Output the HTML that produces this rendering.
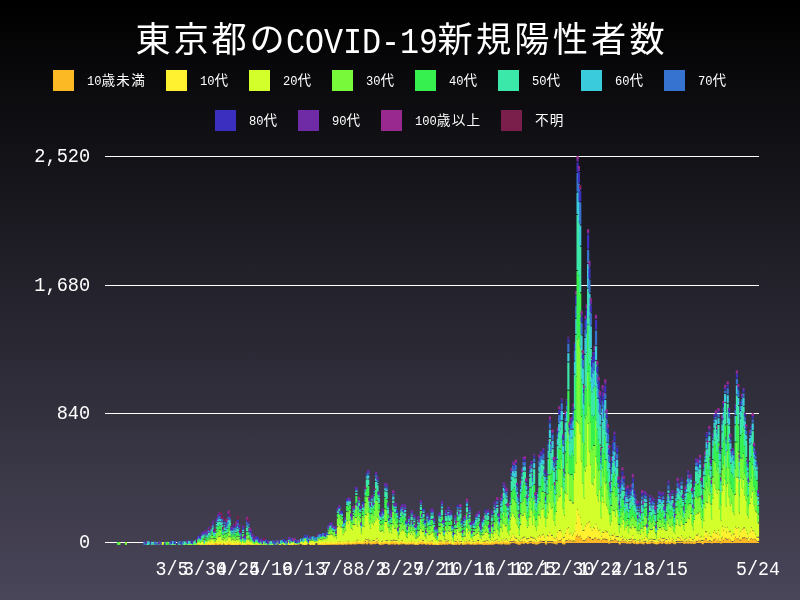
<!DOCTYPE html>
<html lang="ja"><head><meta charset="utf-8"><title>東京都のCOVID-19新規陽性者数</title>
<style>
html,body{margin:0;padding:0}
body{width:800px;height:600px;overflow:hidden;position:relative;background:linear-gradient(to bottom,#000 0%,#4a465a 100%);color:#fff;font-family:"Liberation Mono","Noto Sans CJK JP",monospace}
.n{display:inline-block;transform:scaleX(.8333);transform-origin:0 50%}
.title{position:absolute;top:20px;height:46px;line-height:46px;font-size:35.2px;letter-spacing:2.8px;white-space:nowrap}
.title.n{font-size:37px;letter-spacing:0;transform:scaleX(.856)}
.sw{position:absolute;width:21px;height:21px}
.lt{position:absolute;height:21px;line-height:21px;font-size:13.6px;letter-spacing:1.2px;margin-top:.8px;white-space:nowrap}
.lt .n{font-size:13.2px;letter-spacing:0;transform:scaleX(.92)}
.lt .n2{margin-right:-1.27px}
.lt .n3{margin-right:-1.9px}
.yl{position:absolute;left:0;width:90.2px;text-align:right;height:24px;line-height:24px;font-size:21px;margin-top:.9px;transform:scaleX(.887);transform-origin:100% 50%;white-space:nowrap}
.xl{position:absolute;top:557px;width:100px;text-align:center;height:24px;line-height:24px;font-size:21px;margin-top:1.2px;transform:scaleX(.869);white-space:nowrap}
svg{position:absolute;left:0;top:0}
path{fill:none;stroke-width:2.19}
.a{stroke:#FDB924}
.b{stroke:#FFF12F}
.c{stroke:#D3FF2B}
.d{stroke:#78F93A}
.e{stroke:#36F04F}
.f{stroke:#3BE8A9}
.g{stroke:#3ACCDC}
.h{stroke:#3673D1}
.i{stroke:#3B2FBF}
.j{stroke:#6F2BA6}
.k{stroke:#99288F}
.l{stroke:#7A1F4C}
</style></head><body>
<div class="title" style="left:135.5px">東京都の</div><div class="title n" style="left:286px">COVID-19</div><div class="title" style="left:437.5px;letter-spacing:3.2px">新規陽性者数</div>
<div class="sw" style="left:53px;top:70px;background:#FDB924"></div><div class="lt" style="left:87px;top:70px"><span class="n n2">10</span>歳未満</div>
<div class="sw" style="left:166px;top:70px;background:#FFF12F"></div><div class="lt" style="left:200px;top:70px"><span class="n n2">10</span>代</div>
<div class="sw" style="left:249px;top:70px;background:#D3FF2B"></div><div class="lt" style="left:283px;top:70px"><span class="n n2">20</span>代</div>
<div class="sw" style="left:332px;top:70px;background:#78F93A"></div><div class="lt" style="left:366px;top:70px"><span class="n n2">30</span>代</div>
<div class="sw" style="left:415px;top:70px;background:#36F04F"></div><div class="lt" style="left:449px;top:70px"><span class="n n2">40</span>代</div>
<div class="sw" style="left:498px;top:70px;background:#3BE8A9"></div><div class="lt" style="left:532px;top:70px"><span class="n n2">50</span>代</div>
<div class="sw" style="left:581px;top:70px;background:#3ACCDC"></div><div class="lt" style="left:615px;top:70px"><span class="n n2">60</span>代</div>
<div class="sw" style="left:664px;top:70px;background:#3673D1"></div><div class="lt" style="left:698px;top:70px"><span class="n n2">70</span>代</div>
<div class="sw" style="left:215px;top:110px;background:#3B2FBF"></div><div class="lt" style="left:249px;top:110px"><span class="n n2">80</span>代</div>
<div class="sw" style="left:298px;top:110px;background:#6F2BA6"></div><div class="lt" style="left:332px;top:110px"><span class="n n2">90</span>代</div>
<div class="sw" style="left:381px;top:110px;background:#99288F"></div><div class="lt" style="left:415px;top:110px"><span class="n n3">100</span>歳以上</div>
<div class="sw" style="left:501px;top:110px;background:#7A1F4C"></div><div class="lt" style="left:535px;top:110px">不明</div>
<div class="yl" style="top:144px">2,520</div>
<div class="yl" style="top:273px">1,680</div>
<div class="yl" style="top:401px">840</div>
<div class="yl" style="top:530px">0</div>
<div class="xl" style="left:121.9px">3/5</div>
<div class="xl" style="left:154.9px">3/30</div>
<div class="xl" style="left:187.8px">4/24</div>
<div class="xl" style="left:220.7px">5/19</div>
<div class="xl" style="left:253.6px">6/13</div>
<div class="xl" style="left:286.5px">7/8</div>
<div class="xl" style="left:319.5px">8/2</div>
<div class="xl" style="left:352.4px">8/27</div>
<div class="xl" style="left:385.3px">9/21</div>
<div class="xl" style="left:418.2px">10/16</div>
<div class="xl" style="left:451.2px">11/10</div>
<div class="xl" style="left:484.1px">12/5</div>
<div class="xl" style="left:517.0px">12/30</div>
<div class="xl" style="left:549.9px">1/24</div>
<div class="xl" style="left:582.8px">2/18</div>
<div class="xl" style="left:615.8px">3/15</div>
<div class="xl" style="left:707.9px">5/24</div>
<svg width="800" height="600" viewBox="0 0 800 600">
<g fill="#fff"><rect x="105" y="156" width="654" height="1"/><rect x="105" y="285" width="654" height="1"/><rect x="105" y="413" width="654" height="1"/><rect x="105" y="542" width="654" height="1"/></g>
<path class=e d="M118.01 542V544.85"/>
<path class=d d="M119.33 542V544.85"/>
<path class=d d="M125.91 542V544.85"/>
<path class=h d="M144.35 542V544.85"/>
<path class=f d="M145.66 542V544.85"/>
<path class=i d="M145.66 541.85V544.69"/>
<path class=f d="M146.98 542V544.54"/>
<path class=g d="M146.98 541.54V544.39"/>
<path class=h d="M146.98 541.39V543.93"/>
<path class=j d="M146.98 540.93V543.77"/>
<path class=d d="M148.3 542V544.85"/>
<path class=e d="M148.3 541.85V544.69"/>
<path class=f d="M148.3 541.69V544.39"/>
<path class=g d="M148.3 541.39V544.23"/>
<path class=h d="M150.93 542V544.69"/>
<path class=i d="M150.93 541.69V544.54"/>
<path class=d d="M152.25 542V544.85"/>
<path class=g d="M152.25 541.85V544.54"/>
<path class=c d="M154.88 542V544.85"/>
<path class=e d="M154.88 541.85V544.69"/>
<path class=h d="M154.88 541.69V544.54"/>
<path class=h d="M156.2 542V544.85"/>
<path class=e d="M158.83 542V544.85"/>
<path class=f d="M158.83 541.85V544.69"/>
<path class=j d="M158.83 541.69V544.54"/>
<path class=a d="M161.47 542V544.85"/>
<path class=h d="M161.47 541.85V544.69"/>
<path class=i d="M161.47 541.69V544.54"/>
<path class=c d="M162.78 542V544.85"/>
<path class=i d="M165.42 542V544.85"/>
<path class=d d="M166.73 542V544.85"/>
<path class=e d="M166.73 541.85V544.69"/>
<path class=d d="M169.37 542V544.85"/>
<path class=c d="M170.69 542V544.85"/>
<path class=g d="M170.69 541.85V544.69"/>
<path class=h d="M170.69 541.69V544.54"/>
<path class=i d="M170.69 541.54V544.39"/>
<path class=c d="M172 542V544.85"/>
<path class=f d="M172 541.85V544.69"/>
<path class=g d="M172 541.69V544.39"/>
<path class=h d="M172 541.39V543.93"/>
<path class=i d="M172 540.93V543.77"/>
<path class=b d="M173.32 542V544.85"/>
<path class=e d="M173.32 541.85V544.54"/>
<path class=f d="M173.32 541.54V544.23"/>
<path class=g d="M173.32 541.23V544.08"/>
<path class=c d="M174.64 542V544.85"/>
<path class=e d="M174.64 541.85V544.54"/>
<path class=f d="M174.64 541.54V544.39"/>
<path class=g d="M174.64 541.39V544.23"/>
<path class=i d="M174.64 541.23V544.08"/>
<path class=d d="M178.59 542V544.85"/>
<path class=h d="M178.59 541.85V544.69"/>
<path class=i d="M178.59 541.69V544.54"/>
<path class=c d="M179.9 542V544.85"/>
<path class=e d="M179.9 541.85V544.69"/>
<path class=f d="M179.9 541.69V544.39"/>
<path class=h d="M179.9 541.39V544.08"/>
<path class=c d="M181.22 542V544.85"/>
<path class=i d="M181.22 541.85V544.69"/>
<path class=h d="M182.54 542V544.85"/>
<path class=i d="M182.54 541.85V544.69"/>
<path class=d d="M183.85 542V544.85"/>
<path class=e d="M183.85 541.85V544.54"/>
<path class=f d="M183.85 541.54V544.39"/>
<path class=g d="M183.85 541.39V544.23"/>
<path class=h d="M183.85 541.23V543.47"/>
<path class=c d="M185.17 542V544.69"/>
<path class=f d="M185.17 541.69V544.54"/>
<path class=c d="M187.8 542V544.69"/>
<path class=d d="M187.8 541.69V544.54"/>
<path class=e d="M187.8 541.54V544.39"/>
<path class=f d="M187.8 541.39V544.08"/>
<path class=g d="M187.8 541.08V543.93"/>
<path class=h d="M187.8 540.93V543.47"/>
<path class=i d="M187.8 540.47V543.32"/>
<path class=j d="M187.8 540.32V543.16"/>
<path class=c d="M189.12 542V544.85"/>
<path class=d d="M189.12 541.85V544.39"/>
<path class=e d="M189.12 541.39V544.23"/>
<path class=f d="M189.12 541.23V543.93"/>
<path class=g d="M189.12 540.93V543.62"/>
<path class=c d="M190.44 542V544.85"/>
<path class=d d="M190.44 541.85V544.54"/>
<path class=e d="M190.44 541.54V544.39"/>
<path class=f d="M190.44 541.39V544.23"/>
<path class=g d="M190.44 541.23V543.93"/>
<path class=a d="M191.76 542V544.85"/>
<path class=b d="M191.76 541.85V544.69"/>
<path class=d d="M191.76 541.69V544.54"/>
<path class=e d="M191.76 541.54V544.23"/>
<path class=f d="M191.76 541.23V543.93"/>
<path class=g d="M191.76 540.93V543.77"/>
<path class=h d="M191.76 540.77V543.47"/>
<path class=i d="M191.76 540.47V543.32"/>
<path class=c d="M193.07 542V544.69"/>
<path class=d d="M193.07 541.69V544.54"/>
<path class=f d="M193.07 541.54V544.39"/>
<path class=i d="M193.07 541.39V544.23"/>
<path class=j d="M193.07 541.23V543.93"/>
<path class=d d="M194.39 542V544.85"/>
<path class=e d="M194.39 541.85V544.69"/>
<path class=f d="M194.39 541.69V544.54"/>
<path class=c d="M195.71 542V544.85"/>
<path class=d d="M195.71 541.85V544.54"/>
<path class=e d="M195.71 541.54V543.62"/>
<path class=f d="M195.71 540.62V542.86"/>
<path class=g d="M195.71 539.86V542.55"/>
<path class=c d="M197.02 542V544.54"/>
<path class=d d="M197.02 541.54V544.39"/>
<path class=e d="M197.02 541.39V543.77"/>
<path class=g d="M197.02 540.77V543.47"/>
<path class=h d="M197.02 540.47V543.01"/>
<path class=i d="M197.02 540.01V542.55"/>
<path class=j d="M197.02 539.55V542.4"/>
<path class=l d="M197.02 539.4V542.24"/>
<path class=a d="M198.34 542V544.85"/>
<path class=c d="M198.34 541.85V544.23"/>
<path class=d d="M198.34 541.23V542.86"/>
<path class=e d="M198.34 539.86V542.09"/>
<path class=f d="M198.34 539.09V540.56"/>
<path class=g d="M198.34 537.56V539.95"/>
<path class=h d="M198.34 536.95V539.33"/>
<path class=i d="M198.34 536.33V539.18"/>
<path class=j d="M198.34 536.18V538.72"/>
<path class=b d="M199.66 542V544.69"/>
<path class=c d="M199.66 541.69V543.47"/>
<path class=d d="M199.66 540.47V541.94"/>
<path class=e d="M199.66 538.94V541.17"/>
<path class=f d="M199.66 538.17V539.33"/>
<path class=g d="M199.66 536.33V538.87"/>
<path class=h d="M199.66 535.87V538.41"/>
<path class=i d="M199.66 535.41V537.95"/>
<path class=b d="M200.97 542V544.85"/>
<path class=c d="M200.97 541.85V544.69"/>
<path class=d d="M200.97 541.69V543.01"/>
<path class=e d="M200.97 540.01V542.4"/>
<path class=f d="M200.97 539.4V541.02"/>
<path class=g d="M200.97 538.02V540.25"/>
<path class=h d="M200.97 537.25V539.33"/>
<path class=i d="M200.97 536.33V539.03"/>
<path class=j d="M200.97 536.03V538.87"/>
<path class=a d="M202.29 542V544.69"/>
<path class=b d="M202.29 541.69V544.54"/>
<path class=c d="M202.29 541.54V542.86"/>
<path class=d d="M202.29 539.86V540.86"/>
<path class=e d="M202.29 537.86V539.64"/>
<path class=f d="M202.29 536.64V538.72"/>
<path class=g d="M202.29 535.72V537.34"/>
<path class=h d="M202.29 534.34V535.66"/>
<path class=i d="M202.29 532.66V535.35"/>
<path class=j d="M202.29 532.35V535.2"/>
<path class=b d="M203.61 542V544.85"/>
<path class=c d="M203.61 541.85V543.01"/>
<path class=d d="M203.61 539.71V541.01"/>
<path class=e d="M203.61 537.26V538.71"/>
<path class=f d="M203.61 535.26V537.19"/>
<path class=g d="M203.61 534.19V535.5"/>
<path class=h d="M203.61 532.5V534.58"/>
<path class=i d="M203.61 531.58V534.28"/>
<path class=j d="M203.61 531.28V533.97"/>
<path class=c d="M204.92 542V544.85"/>
<path class=d d="M204.92 541.85V544.54"/>
<path class=e d="M204.92 541.54V543.93"/>
<path class=f d="M204.92 540.93V543.47"/>
<path class=g d="M204.92 540.47V543.16"/>
<path class=a d="M206.24 542V544.85"/>
<path class=b d="M206.24 541.85V544.69"/>
<path class=c d="M206.24 541.69V543.62"/>
<path class=d d="M206.24 540.48V541.62"/>
<path class=e d="M206.24 537.72V539.48"/>
<path class=f d="M206.24 535.58V536.72"/>
<path class=g d="M206.24 533.58V534.74"/>
<path class=h d="M206.24 531.74V533.97"/>
<path class=i d="M206.24 530.97V533.21"/>
<path class=j d="M206.24 530.21V533.05"/>
<path class=a d="M207.56 542V544.85"/>
<path class=b d="M207.56 541.85V544.69"/>
<path class=c d="M207.56 541.69V543.62"/>
<path class=d d="M207.56 540.62V542.4"/>
<path class=e d="M207.56 538.33V540.4"/>
<path class=f d="M207.56 536.33V537.8"/>
<path class=g d="M207.56 534.8V537.03"/>
<path class=h d="M207.56 534.03V535.2"/>
<path class=i d="M207.56 532.2V534.89"/>
<path class=j d="M207.56 531.89V534.74"/>
<path class=a d="M208.87 542V544.69"/>
<path class=b d="M208.87 541.69V543.93"/>
<path class=c d="M208.87 540.32V541.93"/>
<path class=d d="M208.87 538.18V539.32"/>
<path class=e d="M208.87 536.18V537.34"/>
<path class=f d="M208.87 532.97V535.34"/>
<path class=g d="M208.87 530.97V532.13"/>
<path class=h d="M208.87 529.13V531.37"/>
<path class=i d="M208.87 528.37V530.14"/>
<path class=j d="M208.87 527.14V529.99"/>
<path class=a d="M210.19 542V544.85"/>
<path class=b d="M210.19 541.85V544.69"/>
<path class=c d="M210.19 541.69V542.86"/>
<path class=d d="M210.19 539.25V540.86"/>
<path class=e d="M210.19 537.25V538.41"/>
<path class=f d="M210.19 534.66V536.41"/>
<path class=g d="M210.19 532.66V533.67"/>
<path class=h d="M210.19 530.67V531.98"/>
<path class=i d="M210.19 528.98V531.52"/>
<path class=j d="M210.19 528.52V531.06"/>
<path class=l d="M210.19 528.06V530.91"/>
<path class=a d="M211.51 542V544.85"/>
<path class=b d="M211.51 541.85V544.54"/>
<path class=c d="M211.51 539.4V542.54"/>
<path class=d d="M211.51 535.58V538.4"/>
<path class=e d="M211.51 533.58V534.74"/>
<path class=f d="M211.51 531.74V532.75"/>
<path class=g d="M211.51 529.75V531.52"/>
<path class=h d="M211.51 528.52V529.68"/>
<path class=i d="M211.51 526.68V527.84"/>
<path class=j d="M211.51 524.84V527.08"/>
<path class=l d="M211.51 524.08V526.93"/>
<path class=a d="M212.83 542V544.85"/>
<path class=b d="M212.83 541.85V544.23"/>
<path class=c d="M212.83 539.4V542.23"/>
<path class=d d="M212.83 536.03V538.4"/>
<path class=e d="M212.83 531.13V535.03"/>
<path class=f d="M212.83 528.22V530.13"/>
<path class=g d="M212.83 526.22V527.54"/>
<path class=h d="M212.83 524.54V525.55"/>
<path class=i d="M212.83 522.55V523.71"/>
<path class=j d="M212.83 520.71V523.4"/>
<path class=a d="M214.14 542V544.69"/>
<path class=b d="M214.14 541.69V544.54"/>
<path class=c d="M214.14 541.54V543.01"/>
<path class=d d="M214.14 539.1V541.01"/>
<path class=e d="M214.14 535.88V538.1"/>
<path class=f d="M214.14 533.88V535.96"/>
<path class=g d="M214.14 532.96V534.43"/>
<path class=h d="M214.14 531.43V533.05"/>
<path class=i d="M214.14 530.05V532.13"/>
<path class=j d="M214.14 529.13V531.98"/>
<path class=a d="M215.46 542V544.69"/>
<path class=c d="M215.46 541.55V542.69"/>
<path class=d d="M215.46 539.25V540.55"/>
<path class=e d="M215.46 536.65V538.25"/>
<path class=f d="M215.46 534.04V535.65"/>
<path class=g d="M215.46 532.04V534.12"/>
<path class=h d="M215.46 531.12V532.75"/>
<path class=i d="M215.46 529.75V532.44"/>
<path class=j d="M215.46 529.44V532.13"/>
<path class=k d="M215.46 529.13V531.98"/>
<path class=l d="M215.46 528.98V531.67"/>
<path class=a d="M216.78 542V544.85"/>
<path class=c d="M216.78 539.86V542.85"/>
<path class=d d="M216.78 532.82V538.86"/>
<path class=e d="M216.78 529.75V531.82"/>
<path class=f d="M216.78 526.54V528.75"/>
<path class=g d="M216.78 523.93V525.54"/>
<path class=h d="M216.78 521.48V522.93"/>
<path class=i d="M216.78 519.48V521.26"/>
<path class=j d="M216.78 518.26V521.1"/>
<path class=a d="M218.09 542V544.69"/>
<path class=b d="M218.09 541.69V544.23"/>
<path class=c d="M218.09 537.57V542.23"/>
<path class=d d="M218.09 531.9V536.57"/>
<path class=e d="M218.09 527.15V530.9"/>
<path class=f d="M218.09 522.1V526.15"/>
<path class=g d="M218.09 520.1V521.26"/>
<path class=h d="M218.09 517.96V519.26"/>
<path class=i d="M218.09 515.96V517.43"/>
<path class=j d="M218.09 514.43V516.97"/>
<path class=a d="M219.41 542V544.69"/>
<path class=b d="M219.41 541.69V543.93"/>
<path class=c d="M219.41 537.11V541.93"/>
<path class=d d="M219.41 530.06V536.11"/>
<path class=e d="M219.41 525.47V529.06"/>
<path class=f d="M219.41 521.79V524.47"/>
<path class=g d="M219.41 518.88V520.79"/>
<path class=h d="M219.41 516.12V517.88"/>
<path class=i d="M219.41 514.12V515.13"/>
<path class=j d="M219.41 512.13V514.52"/>
<path class=a d="M220.73 542V544.39"/>
<path class=b d="M220.73 541.39V543.77"/>
<path class=c d="M220.73 536.34V541.77"/>
<path class=d d="M220.73 530.37V535.34"/>
<path class=e d="M220.73 526.38V529.37"/>
<path class=f d="M220.73 522.25V525.38"/>
<path class=g d="M220.73 519.19V521.25"/>
<path class=h d="M220.73 517.04V518.19"/>
<path class=i d="M220.73 515.04V516.51"/>
<path class=j d="M220.73 513.51V515.13"/>
<path class=k d="M220.73 512.13V514.82"/>
<path class=l d="M220.73 511.82V514.67"/>
<path class=a d="M222.04 542V544.85"/>
<path class=b d="M222.04 541.85V544.54"/>
<path class=c d="M222.04 539.86V542.54"/>
<path class=d d="M222.04 534.81V538.86"/>
<path class=e d="M222.04 528.53V533.81"/>
<path class=f d="M222.04 525.31V527.53"/>
<path class=g d="M222.04 522.56V524.31"/>
<path class=h d="M222.04 519.03V521.56"/>
<path class=i d="M222.04 517.03V519.11"/>
<path class=j d="M222.04 516.11V518.81"/>
<path class=k d="M222.04 515.81V518.65"/>
<path class=l d="M222.04 515.65V518.35"/>
<path class=c d="M223.36 540.48V543"/>
<path class=d d="M223.36 538.03V539.48"/>
<path class=e d="M223.36 535.58V537.03"/>
<path class=f d="M223.36 533.28V534.58"/>
<path class=g d="M223.36 531.28V533.21"/>
<path class=h d="M223.36 530.21V531.83"/>
<path class=i d="M223.36 528.83V530.14"/>
<path class=j d="M223.36 527.14V529.84"/>
<path class=l d="M223.36 526.84V529.68"/>
<path class=a d="M224.68 542V544.69"/>
<path class=b d="M224.68 541.69V544.23"/>
<path class=c d="M224.68 538.79V542.23"/>
<path class=d d="M224.68 534.66V537.79"/>
<path class=e d="M224.68 531.13V533.66"/>
<path class=f d="M224.68 527.46V530.13"/>
<path class=g d="M224.68 525.01V526.46"/>
<path class=h d="M224.68 522.1V524.01"/>
<path class=i d="M224.68 520.1V521.41"/>
<path class=j d="M224.68 518.41V520.8"/>
<path class=l d="M224.68 517.8V520.65"/>
<path class=a d="M225.99 542V544.85"/>
<path class=b d="M225.99 541.85V544.69"/>
<path class=c d="M225.99 541.4V542.69"/>
<path class=d d="M225.99 537.41V540.4"/>
<path class=e d="M225.99 533.89V536.41"/>
<path class=f d="M225.99 530.83V532.89"/>
<path class=g d="M225.99 528.83V530.14"/>
<path class=h d="M225.99 527.14V528.76"/>
<path class=i d="M225.99 525.62V526.76"/>
<path class=j d="M225.99 523.62V525.55"/>
<path class=a d="M227.31 542V544.85"/>
<path class=b d="M227.31 541.85V544.54"/>
<path class=c d="M227.31 539.71V542.54"/>
<path class=d d="M227.31 535.73V538.71"/>
<path class=e d="M227.31 533.58V534.73"/>
<path class=f d="M227.31 529.3V532.58"/>
<path class=g d="M227.31 526.54V528.3"/>
<path class=h d="M227.31 523.17V525.54"/>
<path class=i d="M227.31 521.17V522.94"/>
<path class=j d="M227.31 519.94V522.02"/>
<path class=k d="M227.31 519.02V521.87"/>
<path class=a d="M228.63 542V544.39"/>
<path class=b d="M228.63 541.39V543.62"/>
<path class=c d="M228.63 537.41V541.62"/>
<path class=d d="M228.63 532.82V536.41"/>
<path class=e d="M228.63 528.53V531.82"/>
<path class=f d="M228.63 524.39V527.53"/>
<path class=g d="M228.63 520.1V523.39"/>
<path class=h d="M228.63 516.89V519.1"/>
<path class=i d="M228.63 513.98V515.89"/>
<path class=j d="M228.63 511.98V513.6"/>
<path class=k d="M228.63 510.6V513.45"/>
<path class=a d="M229.94 542V544.69"/>
<path class=b d="M229.94 541.69V543.47"/>
<path class=c d="M229.94 537.26V541.47"/>
<path class=d d="M229.94 530.37V536.26"/>
<path class=e d="M229.94 526.54V529.37"/>
<path class=f d="M229.94 522.4V525.54"/>
<path class=g d="M229.94 520.4V521.87"/>
<path class=h d="M229.94 518.57V519.87"/>
<path class=i d="M229.94 516.43V517.57"/>
<path class=j d="M229.94 514.43V516.66"/>
<path class=l d="M229.94 513.66V516.51"/>
<path class=a d="M231.26 542V544.85"/>
<path class=b d="M231.26 541.85V544.54"/>
<path class=c d="M231.26 540.63V542.54"/>
<path class=d d="M231.26 537.72V539.63"/>
<path class=e d="M231.26 535.42V536.72"/>
<path class=f d="M231.26 533.12V534.42"/>
<path class=g d="M231.26 531.12V532.59"/>
<path class=h d="M231.26 529.59V530.91"/>
<path class=i d="M231.26 527.91V529.68"/>
<path class=j d="M231.26 526.68V528.3"/>
<path class=a d="M232.58 542V544.85"/>
<path class=b d="M232.58 541.85V544.69"/>
<path class=c d="M232.58 539.56V542.69"/>
<path class=d d="M232.58 536.8V538.56"/>
<path class=e d="M232.58 534.8V536.73"/>
<path class=f d="M232.58 533.43V534.73"/>
<path class=g d="M232.58 531.13V532.43"/>
<path class=h d="M232.58 529.13V530.75"/>
<path class=i d="M232.58 527.75V529.99"/>
<path class=j d="M232.58 526.99V529.53"/>
<path class=b d="M233.9 542V544.85"/>
<path class=c d="M233.9 540.32V542.85"/>
<path class=d d="M233.9 536.49V539.32"/>
<path class=e d="M233.9 534.49V535.5"/>
<path class=f d="M233.9 532.5V533.51"/>
<path class=g d="M233.9 530.51V531.67"/>
<path class=h d="M233.9 527.92V529.67"/>
<path class=i d="M233.9 525.92V527.08"/>
<path class=j d="M233.9 524.08V526.16"/>
<path class=a d="M235.21 542V544.85"/>
<path class=b d="M235.21 541.85V544.69"/>
<path class=c d="M235.21 541.4V542.69"/>
<path class=d d="M235.21 538.33V540.4"/>
<path class=e d="M235.21 535.42V537.33"/>
<path class=f d="M235.21 532.67V534.42"/>
<path class=g d="M235.21 530.21V531.67"/>
<path class=h d="M235.21 528.21V529.68"/>
<path class=i d="M235.21 526.23V527.68"/>
<path class=j d="M235.21 524.23V526.47"/>
<path class=l d="M235.21 523.47V526.16"/>
<path class=a d="M236.53 542V544.85"/>
<path class=b d="M236.53 541.85V544.39"/>
<path class=c d="M236.53 539.86V542.39"/>
<path class=d d="M236.53 537.26V538.86"/>
<path class=e d="M236.53 533.12V536.26"/>
<path class=f d="M236.53 530.67V532.12"/>
<path class=g d="M236.53 528.38V529.67"/>
<path class=h d="M236.53 526.38V527.69"/>
<path class=i d="M236.53 524.55V525.69"/>
<path class=j d="M236.53 522.55V524.63"/>
<path class=k d="M236.53 521.63V524.47"/>
<path class=a d="M237.85 542V544.85"/>
<path class=b d="M237.85 541.85V544.69"/>
<path class=c d="M237.85 540.63V542.69"/>
<path class=d d="M237.85 536.65V539.63"/>
<path class=e d="M237.85 532.21V535.65"/>
<path class=f d="M237.85 528.99V531.21"/>
<path class=g d="M237.85 526.69V527.99"/>
<path class=h d="M237.85 523.32V525.69"/>
<path class=i d="M237.85 519.95V522.32"/>
<path class=j d="M237.85 517.95V519.11"/>
<path class=l d="M237.85 516.11V518.96"/>
<path class=a d="M239.16 542V544.54"/>
<path class=b d="M239.16 541.54V544.23"/>
<path class=c d="M239.16 539.4V542.23"/>
<path class=d d="M239.16 536.95V538.4"/>
<path class=e d="M239.16 534.35V535.95"/>
<path class=f d="M239.16 532.21V533.35"/>
<path class=g d="M239.16 530.06V531.21"/>
<path class=h d="M239.16 528.06V529.38"/>
<path class=i d="M239.16 526.38V527.84"/>
<path class=j d="M239.16 524.84V526.77"/>
<path class=a d="M240.48 542V544.69"/>
<path class=c d="M240.48 541.69V543.01"/>
<path class=d d="M240.48 540.01V541.78"/>
<path class=e d="M240.48 538.78V540.25"/>
<path class=f d="M240.48 536.49V538.25"/>
<path class=g d="M240.48 534.35V535.49"/>
<path class=h d="M240.48 532.35V534.43"/>
<path class=i d="M240.48 531.43V533.36"/>
<path class=j d="M240.48 530.36V532.59"/>
<path class=l d="M240.48 529.59V532.44"/>
<path class=b d="M241.8 542V544.85"/>
<path class=c d="M241.8 541.85V544.39"/>
<path class=d d="M241.8 541.39V542.86"/>
<path class=e d="M241.8 539.86V541.94"/>
<path class=f d="M241.8 538.94V541.32"/>
<path class=g d="M241.8 538.32V540.25"/>
<path class=h d="M241.8 537.25V539.49"/>
<path class=i d="M241.8 536.49V539.18"/>
<path class=j d="M241.8 536.18V538.72"/>
<path class=a d="M243.11 542V544.69"/>
<path class=b d="M243.11 541.69V544.39"/>
<path class=c d="M243.11 541.39V542.55"/>
<path class=d d="M243.11 537.87V540.55"/>
<path class=e d="M243.11 534.04V536.87"/>
<path class=f d="M243.11 531.9V533.04"/>
<path class=g d="M243.11 529.9V531.37"/>
<path class=h d="M243.11 528.37V529.53"/>
<path class=i d="M243.11 526.53V528.61"/>
<path class=j d="M243.11 525.61V527.69"/>
<path class=b d="M244.43 542V544.85"/>
<path class=c d="M244.43 541.85V543.62"/>
<path class=d d="M244.43 540.62V543.01"/>
<path class=e d="M244.43 540.01V542.4"/>
<path class=f d="M244.43 539.4V541.17"/>
<path class=g d="M244.43 538.17V539.95"/>
<path class=h d="M244.43 536.95V539.33"/>
<path class=i d="M244.43 536.33V538.41"/>
<path class=j d="M244.43 535.41V537.95"/>
<path class=b d="M245.75 542V544.85"/>
<path class=c d="M245.75 541.85V544.39"/>
<path class=d d="M245.75 541.39V543.16"/>
<path class=e d="M245.75 540.16V541.94"/>
<path class=f d="M245.75 538.94V541.17"/>
<path class=g d="M245.75 538.17V540.71"/>
<path class=h d="M245.75 537.71V539.49"/>
<path class=i d="M245.75 536.49V538.41"/>
<path class=j d="M245.75 535.41V537.95"/>
<path class=a d="M247.06 542V544.69"/>
<path class=b d="M247.06 541.69V544.08"/>
<path class=c d="M247.06 539.71V542.08"/>
<path class=d d="M247.06 536.19V538.71"/>
<path class=e d="M247.06 532.21V535.19"/>
<path class=f d="M247.06 527.61V531.21"/>
<path class=g d="M247.06 525.31V526.61"/>
<path class=h d="M247.06 521.94V524.31"/>
<path class=i d="M247.06 519.65V520.94"/>
<path class=j d="M247.06 517.65V519.88"/>
<path class=k d="M247.06 516.88V519.73"/>
<path class=a d="M248.38 542V544.85"/>
<path class=b d="M248.38 541.85V544.08"/>
<path class=c d="M248.38 539.4V542.08"/>
<path class=d d="M248.38 534.66V538.4"/>
<path class=e d="M248.38 531.75V533.66"/>
<path class=f d="M248.38 528.84V530.75"/>
<path class=g d="M248.38 526.84V527.84"/>
<path class=h d="M248.38 523.93V525.84"/>
<path class=i d="M248.38 521.93V523.1"/>
<path class=j d="M248.38 520.1V521.56"/>
<path class=l d="M248.38 518.56V521.41"/>
<path class=b d="M249.7 542V544.54"/>
<path class=c d="M249.7 541.54V542.86"/>
<path class=d d="M249.7 539.71V540.86"/>
<path class=e d="M249.7 537.57V538.71"/>
<path class=f d="M249.7 535.27V536.57"/>
<path class=g d="M249.7 533.27V534.43"/>
<path class=h d="M249.7 531.43V532.9"/>
<path class=i d="M249.7 529.9V531.67"/>
<path class=j d="M249.7 528.67V531.06"/>
<path class=k d="M249.7 528.06V530.75"/>
<path class=a d="M251.01 542V544.85"/>
<path class=b d="M251.01 541.85V544.54"/>
<path class=c d="M251.01 541.54V543.01"/>
<path class=d d="M251.01 540.01V541.63"/>
<path class=e d="M251.01 538.63V540.1"/>
<path class=f d="M251.01 537.1V538.11"/>
<path class=g d="M251.01 535.11V536.88"/>
<path class=h d="M251.01 533.74V534.88"/>
<path class=i d="M251.01 531.44V532.74"/>
<path class=j d="M251.01 529.44V531.52"/>
<path class=b d="M252.33 542V544.85"/>
<path class=c d="M252.33 541.85V543.16"/>
<path class=d d="M252.33 540.16V541.94"/>
<path class=e d="M252.33 538.94V540.86"/>
<path class=f d="M252.33 537.86V539.79"/>
<path class=g d="M252.33 536.79V539.49"/>
<path class=h d="M252.33 536.49V537.49"/>
<path class=i d="M252.33 534.49V536.58"/>
<path class=j d="M252.33 533.58V536.27"/>
<path class=b d="M253.65 542V544.85"/>
<path class=c d="M253.65 541.85V544.54"/>
<path class=d d="M253.65 541.54V543.77"/>
<path class=e d="M253.65 540.77V542.86"/>
<path class=f d="M253.65 539.86V542.09"/>
<path class=g d="M253.65 539.09V541.78"/>
<path class=h d="M253.65 538.78V541.17"/>
<path class=i d="M253.65 538.17V539.95"/>
<path class=j d="M253.65 536.95V539.33"/>
<path class=c d="M254.97 542V544.39"/>
<path class=d d="M254.97 541.39V543.77"/>
<path class=e d="M254.97 540.77V543.47"/>
<path class=f d="M254.97 540.47V542.4"/>
<path class=g d="M254.97 539.4V542.09"/>
<path class=h d="M254.97 539.09V541.78"/>
<path class=i d="M254.97 538.78V541.63"/>
<path class=j d="M254.97 538.63V541.48"/>
<path class=b d="M256.28 542V544.85"/>
<path class=c d="M256.28 541.85V544.23"/>
<path class=d d="M256.28 541.23V543.32"/>
<path class=e d="M256.28 540.32V542.7"/>
<path class=f d="M256.28 539.7V541.78"/>
<path class=g d="M256.28 538.78V541.02"/>
<path class=h d="M256.28 538.02V539.95"/>
<path class=i d="M256.28 536.95V539.18"/>
<path class=j d="M256.28 536.18V539.03"/>
<path class=a d="M257.6 542V544.85"/>
<path class=c d="M257.6 541.85V543.93"/>
<path class=d d="M257.6 540.93V542.86"/>
<path class=e d="M257.6 539.86V542.55"/>
<path class=f d="M257.6 539.55V541.63"/>
<path class=g d="M257.6 538.63V540.86"/>
<path class=h d="M257.6 537.86V539.64"/>
<path class=i d="M257.6 536.64V539.49"/>
<path class=b d="M258.92 542V544.69"/>
<path class=c d="M258.92 541.69V544.39"/>
<path class=d d="M258.92 541.39V543.77"/>
<path class=e d="M258.92 540.77V543.16"/>
<path class=f d="M258.92 540.16V542.86"/>
<path class=g d="M258.92 539.86V542.55"/>
<path class=h d="M258.92 539.55V542.24"/>
<path class=i d="M258.92 539.24V541.63"/>
<path class=c d="M260.23 542V544.69"/>
<path class=d d="M260.23 541.69V544.08"/>
<path class=e d="M260.23 541.08V543.93"/>
<path class=f d="M260.23 540.93V543.47"/>
<path class=g d="M260.23 540.47V543.16"/>
<path class=h d="M260.23 540.16V543.01"/>
<path class=i d="M260.23 540.01V542.86"/>
<path class=j d="M260.23 539.86V542.7"/>
<path class=c d="M261.55 542V544.39"/>
<path class=d d="M261.55 541.39V543.93"/>
<path class=e d="M261.55 540.93V543.32"/>
<path class=f d="M261.55 540.32V543.16"/>
<path class=g d="M261.55 540.16V542.86"/>
<path class=h d="M261.55 539.86V541.94"/>
<path class=i d="M261.55 538.94V541.63"/>
<path class=j d="M261.55 538.63V540.86"/>
<path class=b d="M262.87 542V544.85"/>
<path class=c d="M262.87 541.85V544.69"/>
<path class=e d="M262.87 541.69V544.54"/>
<path class=g d="M262.87 541.54V544.23"/>
<path class=h d="M262.87 541.23V543.77"/>
<path class=i d="M262.87 540.77V543.62"/>
<path class=j d="M262.87 540.62V543.47"/>
<path class=a d="M264.18 542V544.85"/>
<path class=c d="M264.18 541.85V543.93"/>
<path class=d d="M264.18 540.93V543.62"/>
<path class=e d="M264.18 540.62V543.01"/>
<path class=f d="M264.18 540.01V541.94"/>
<path class=g d="M264.18 538.94V541.63"/>
<path class=h d="M264.18 538.63V541.32"/>
<path class=i d="M264.18 538.32V540.86"/>
<path class=j d="M264.18 537.86V540.56"/>
<path class=l d="M264.18 537.56V540.4"/>
<path class=c d="M265.5 542V544.69"/>
<path class=d d="M265.5 541.69V544.54"/>
<path class=f d="M265.5 541.54V544.23"/>
<path class=h d="M265.5 541.23V543.62"/>
<path class=c d="M266.82 542V544.85"/>
<path class=d d="M266.82 541.85V544.69"/>
<path class=e d="M266.82 541.69V544.23"/>
<path class=f d="M266.82 541.23V543.47"/>
<path class=g d="M266.82 540.47V543.16"/>
<path class=h d="M266.82 540.16V543.01"/>
<path class=i d="M266.82 540.01V542.86"/>
<path class=b d="M268.13 542V544.85"/>
<path class=d d="M268.13 541.85V544.69"/>
<path class=e d="M268.13 541.69V544.54"/>
<path class=i d="M268.13 541.54V544.39"/>
<path class=j d="M268.13 541.39V544.23"/>
<path class=c d="M269.45 542V544.54"/>
<path class=e d="M269.45 541.54V544.39"/>
<path class=f d="M269.45 541.39V544.23"/>
<path class=g d="M269.45 541.23V543.93"/>
<path class=i d="M269.45 540.93V543.62"/>
<path class=j d="M269.45 540.62V543.47"/>
<path class=c d="M270.77 542V544.69"/>
<path class=d d="M270.77 541.69V544.54"/>
<path class=f d="M270.77 541.54V544.39"/>
<path class=g d="M270.77 541.39V544.23"/>
<path class=b d="M272.08 542V544.85"/>
<path class=c d="M272.08 541.85V544.69"/>
<path class=d d="M272.08 541.69V544.54"/>
<path class=f d="M272.08 541.54V544.23"/>
<path class=c d="M273.4 542V544.39"/>
<path class=d d="M273.4 541.39V543.77"/>
<path class=e d="M273.4 540.77V543.62"/>
<path class=h d="M273.4 540.62V543.47"/>
<path class=i d="M273.4 540.47V543.32"/>
<path class=d d="M274.72 542V544.85"/>
<path class=g d="M274.72 541.85V544.69"/>
<path class=i d="M274.72 541.69V544.54"/>
<path class=c d="M276.04 542V544.85"/>
<path class=h d="M276.04 541.85V544.69"/>
<path class=c d="M277.35 542V544.08"/>
<path class=d d="M277.35 541.08V543.77"/>
<path class=e d="M277.35 540.77V543.47"/>
<path class=g d="M277.35 540.47V543.32"/>
<path class=h d="M277.35 540.32V543.16"/>
<path class=j d="M277.35 540.16V542.86"/>
<path class=c d="M278.67 542V544.23"/>
<path class=d d="M278.67 541.23V544.08"/>
<path class=f d="M278.67 541.08V543.93"/>
<path class=j d="M278.67 540.93V543.77"/>
<path class=b d="M279.99 542V544.85"/>
<path class=c d="M279.99 541.85V544.54"/>
<path class=d d="M279.99 541.54V544.08"/>
<path class=e d="M279.99 541.08V543.93"/>
<path class=f d="M279.99 540.93V543.77"/>
<path class=h d="M279.99 540.77V543.62"/>
<path class=i d="M279.99 540.62V543.47"/>
<path class=c d="M281.3 542V544.39"/>
<path class=d d="M281.3 541.39V543.93"/>
<path class=e d="M281.3 540.93V543.62"/>
<path class=f d="M281.3 540.62V543.47"/>
<path class=g d="M281.3 540.47V543.32"/>
<path class=c d="M282.62 542V543.93"/>
<path class=d d="M282.62 540.93V543.77"/>
<path class=e d="M282.62 540.77V543.62"/>
<path class=f d="M282.62 540.62V543.32"/>
<path class=g d="M282.62 540.32V543.01"/>
<path class=h d="M282.62 540.01V542.7"/>
<path class=b d="M283.94 542V544.85"/>
<path class=c d="M283.94 541.85V543.77"/>
<path class=d d="M283.94 540.77V543.16"/>
<path class=e d="M283.94 540.16V542.7"/>
<path class=f d="M283.94 539.7V542.55"/>
<path class=g d="M283.94 539.55V542.24"/>
<path class=h d="M283.94 539.24V541.94"/>
<path class=i d="M283.94 538.94V541.63"/>
<path class=c d="M285.25 542V544.54"/>
<path class=d d="M285.25 541.54V543.93"/>
<path class=f d="M285.25 540.93V543.47"/>
<path class=g d="M285.25 540.47V543.16"/>
<path class=h d="M285.25 540.16V543.01"/>
<path class=i d="M285.25 540.01V542.86"/>
<path class=c d="M286.57 542V544.69"/>
<path class=f d="M286.57 541.69V544.54"/>
<path class=g d="M286.57 541.54V544.39"/>
<path class=h d="M286.57 541.39V544.23"/>
<path class=c d="M287.89 542V544.23"/>
<path class=d d="M287.89 541.23V543.93"/>
<path class=e d="M287.89 540.93V543.77"/>
<path class=f d="M287.89 540.77V543.62"/>
<path class=g d="M287.89 540.62V543.32"/>
<path class=i d="M287.89 540.32V543.16"/>
<path class=j d="M287.89 540.16V543.01"/>
<path class=a d="M289.2 542V544.85"/>
<path class=b d="M289.2 541.85V544.69"/>
<path class=c d="M289.2 541.69V542.86"/>
<path class=d d="M289.2 539.86V541.63"/>
<path class=e d="M289.2 538.63V540.86"/>
<path class=f d="M289.2 537.86V540.71"/>
<path class=g d="M289.2 537.71V540.25"/>
<path class=h d="M289.2 537.25V539.95"/>
<path class=j d="M289.2 536.95V539.79"/>
<path class=b d="M290.52 542V544.85"/>
<path class=c d="M290.52 541.85V544.39"/>
<path class=d d="M290.52 541.39V543.93"/>
<path class=g d="M290.52 540.93V543.77"/>
<path class=i d="M290.52 540.77V543.16"/>
<path class=b d="M291.84 542V544.85"/>
<path class=c d="M291.84 541.85V543.62"/>
<path class=d d="M291.84 540.62V542.7"/>
<path class=e d="M291.84 539.7V542.24"/>
<path class=f d="M291.84 539.24V541.94"/>
<path class=g d="M291.84 538.94V541.48"/>
<path class=h d="M291.84 538.48V541.17"/>
<path class=i d="M291.84 538.17V541.02"/>
<path class=j d="M291.84 538.02V540.71"/>
<path class=a d="M293.15 542V544.85"/>
<path class=b d="M293.15 541.85V544.69"/>
<path class=c d="M293.15 541.69V543.16"/>
<path class=d d="M293.15 540.16V542.86"/>
<path class=e d="M293.15 539.86V542.55"/>
<path class=g d="M293.15 539.55V542.24"/>
<path class=j d="M293.15 539.24V541.94"/>
<path class=c d="M294.47 542V543.62"/>
<path class=d d="M294.47 540.62V542.24"/>
<path class=e d="M294.47 539.24V541.48"/>
<path class=g d="M294.47 538.48V541.32"/>
<path class=j d="M294.47 538.32V541.17"/>
<path class=k d="M294.47 538.17V541.02"/>
<path class=a d="M295.79 542V544.85"/>
<path class=b d="M295.79 541.85V544.54"/>
<path class=c d="M295.79 541.54V543.77"/>
<path class=d d="M295.79 540.77V543.47"/>
<path class=e d="M295.79 540.47V543.32"/>
<path class=g d="M295.79 540.32V543.16"/>
<path class=h d="M295.79 540.16V543.01"/>
<path class=i d="M295.79 540.01V542.86"/>
<path class=c d="M297.11 542V544.23"/>
<path class=d d="M297.11 541.23V544.08"/>
<path class=e d="M297.11 541.08V543.62"/>
<path class=f d="M297.11 540.62V543.47"/>
<path class=g d="M297.11 540.47V543.32"/>
<path class=h d="M297.11 540.32V543.16"/>
<path class=j d="M297.11 540.16V543.01"/>
<path class=a d="M298.42 542V544.69"/>
<path class=c d="M298.42 541.69V544.23"/>
<path class=e d="M298.42 541.23V543.77"/>
<path class=f d="M298.42 540.77V543.47"/>
<path class=g d="M298.42 540.47V543.32"/>
<path class=i d="M298.42 540.32V543.16"/>
<path class=c d="M299.74 542V543.77"/>
<path class=d d="M299.74 540.77V543.62"/>
<path class=e d="M299.74 540.62V543.01"/>
<path class=g d="M299.74 540.01V542.86"/>
<path class=h d="M299.74 539.86V542.7"/>
<path class=i d="M299.74 539.7V542.4"/>
<path class=j d="M299.74 539.4V542.24"/>
<path class=c d="M301.06 542V543.32"/>
<path class=d d="M301.06 540.32V542.24"/>
<path class=e d="M301.06 539.24V541.94"/>
<path class=f d="M301.06 538.94V541.78"/>
<path class=g d="M301.06 538.78V541.63"/>
<path class=a d="M302.37 542V544.54"/>
<path class=b d="M302.37 541.54V544.23"/>
<path class=c d="M302.37 540.94V542.23"/>
<path class=d d="M302.37 538.94V541.63"/>
<path class=e d="M302.37 538.63V541.32"/>
<path class=i d="M302.37 538.32V541.17"/>
<path class=b d="M303.69 542V544.85"/>
<path class=c d="M303.69 541.85V543.47"/>
<path class=d d="M303.69 540.47V542.55"/>
<path class=e d="M303.69 539.55V542.24"/>
<path class=f d="M303.69 539.24V541.48"/>
<path class=g d="M303.69 538.48V541.32"/>
<path class=b d="M305.01 542V544.85"/>
<path class=c d="M305.01 540.94V542.85"/>
<path class=d d="M305.01 538.64V539.94"/>
<path class=e d="M305.01 536.64V538.87"/>
<path class=f d="M305.01 535.87V538.57"/>
<path class=g d="M305.01 535.57V538.41"/>
<path class=h d="M305.01 535.41V538.11"/>
<path class=i d="M305.01 535.11V537.8"/>
<path class=a d="M306.32 542V544.85"/>
<path class=b d="M306.32 541.85V544.54"/>
<path class=c d="M306.32 539.56V542.54"/>
<path class=d d="M306.32 537.56V538.87"/>
<path class=e d="M306.32 535.87V538.57"/>
<path class=f d="M306.32 535.57V538.41"/>
<path class=g d="M306.32 535.41V538.26"/>
<path class=h d="M306.32 535.26V537.8"/>
<path class=i d="M306.32 534.8V537.65"/>
<path class=c d="M307.64 541.7V543"/>
<path class=d d="M307.64 539.7V542.09"/>
<path class=e d="M307.64 539.09V541.94"/>
<path class=f d="M307.64 538.94V541.17"/>
<path class=g d="M307.64 538.17V541.02"/>
<path class=h d="M307.64 538.02V540.86"/>
<path class=c d="M308.96 542V543.62"/>
<path class=d d="M308.96 540.62V543.47"/>
<path class=f d="M308.96 540.47V543.16"/>
<path class=g d="M308.96 540.16V542.86"/>
<path class=h d="M308.96 539.86V542.7"/>
<path class=i d="M308.96 539.7V542.55"/>
<path class=a d="M310.27 542V544.69"/>
<path class=b d="M310.27 541.69V544.54"/>
<path class=c d="M310.27 540.78V542.54"/>
<path class=d d="M310.27 538.78V540.4"/>
<path class=e d="M310.27 537.4V539.95"/>
<path class=f d="M310.27 536.95V539.49"/>
<path class=h d="M310.27 536.49V538.87"/>
<path class=j d="M310.27 535.87V538.72"/>
<path class=b d="M311.59 542V544.85"/>
<path class=c d="M311.59 540.94V542.85"/>
<path class=d d="M311.59 538.94V540.4"/>
<path class=e d="M311.59 537.4V540.1"/>
<path class=f d="M311.59 537.1V539.95"/>
<path class=h d="M311.59 536.95V539.79"/>
<path class=i d="M311.59 536.79V539.64"/>
<path class=a d="M312.91 542V544.85"/>
<path class=b d="M312.91 541.85V544.39"/>
<path class=c d="M312.91 540.78V542.39"/>
<path class=d d="M312.91 538.78V540.1"/>
<path class=e d="M312.91 537.1V539.79"/>
<path class=f d="M312.91 536.79V539.64"/>
<path class=g d="M312.91 536.64V539.03"/>
<path class=a d="M314.22 542V544.85"/>
<path class=b d="M314.22 541.85V544.69"/>
<path class=c d="M314.22 541.69V543.01"/>
<path class=d d="M314.22 540.01V541.17"/>
<path class=e d="M314.22 538.17V540.71"/>
<path class=f d="M314.22 537.71V540.1"/>
<path class=g d="M314.22 537.1V539.79"/>
<path class=h d="M314.22 536.79V539.64"/>
<path class=c d="M315.54 541.4V543"/>
<path class=d d="M315.54 539.4V541.32"/>
<path class=e d="M315.54 538.32V541.02"/>
<path class=f d="M315.54 538.02V540.71"/>
<path class=h d="M315.54 537.71V540.56"/>
<path class=c d="M316.86 542V543.16"/>
<path class=d d="M316.86 540.16V541.63"/>
<path class=e d="M316.86 538.63V541.02"/>
<path class=f d="M316.86 538.02V540.56"/>
<path class=g d="M316.86 537.56V540.4"/>
<path class=h d="M316.86 537.4V540.25"/>
<path class=a d="M318.18 542V544.85"/>
<path class=c d="M318.18 540.78V542.85"/>
<path class=d d="M318.18 538.64V539.78"/>
<path class=e d="M318.18 536.64V538.41"/>
<path class=f d="M318.18 535.41V537.65"/>
<path class=g d="M318.18 534.65V537.49"/>
<path class=h d="M318.18 534.49V536.88"/>
<path class=i d="M318.18 533.88V536.73"/>
<path class=j d="M318.18 533.73V536.58"/>
<path class=b d="M319.49 542V544.69"/>
<path class=c d="M319.49 539.25V542.69"/>
<path class=d d="M319.49 537.25V538.57"/>
<path class=e d="M319.49 535.57V538.26"/>
<path class=f d="M319.49 535.26V537.95"/>
<path class=g d="M319.49 534.95V537.8"/>
<path class=h d="M319.49 534.8V537.65"/>
<path class=b d="M320.81 542V544.69"/>
<path class=c d="M320.81 540.02V542.69"/>
<path class=d d="M320.81 537.87V539.02"/>
<path class=e d="M320.81 535.87V538.11"/>
<path class=f d="M320.81 535.11V537.34"/>
<path class=g d="M320.81 534.34V537.19"/>
<path class=h d="M320.81 534.19V536.73"/>
<path class=a d="M322.13 542V544.85"/>
<path class=b d="M322.13 541.85V544.23"/>
<path class=c d="M322.13 540.63V542.23"/>
<path class=d d="M322.13 538.03V539.63"/>
<path class=e d="M322.13 536.03V538.26"/>
<path class=f d="M322.13 535.26V537.34"/>
<path class=g d="M322.13 534.34V537.03"/>
<path class=h d="M322.13 534.03V536.42"/>
<path class=i d="M322.13 533.42V536.27"/>
<path class=a d="M323.44 542V544.85"/>
<path class=b d="M323.44 541.85V544.69"/>
<path class=c d="M323.44 539.4V542.69"/>
<path class=d d="M323.44 537.11V538.4"/>
<path class=e d="M323.44 535.11V537.34"/>
<path class=f d="M323.44 534.34V536.42"/>
<path class=g d="M323.44 533.42V536.27"/>
<path class=h d="M323.44 533.27V535.81"/>
<path class=a d="M324.76 542V544.85"/>
<path class=b d="M324.76 541.85V544.54"/>
<path class=c d="M324.76 538.95V542.54"/>
<path class=d d="M324.76 536.95V538.26"/>
<path class=e d="M324.76 535.26V537.19"/>
<path class=f d="M324.76 534.19V536.73"/>
<path class=g d="M324.76 533.73V536.42"/>
<path class=h d="M324.76 533.42V536.27"/>
<path class=i d="M324.76 533.27V536.12"/>
<path class=a d="M326.08 542V544.85"/>
<path class=c d="M326.08 540.32V542.85"/>
<path class=d d="M326.08 538.03V539.32"/>
<path class=e d="M326.08 536.03V538.26"/>
<path class=f d="M326.08 535.26V537.19"/>
<path class=g d="M326.08 534.19V537.03"/>
<path class=h d="M326.08 534.03V536.88"/>
<path class=j d="M326.08 533.88V536.73"/>
<path class=a d="M327.39 542V544.69"/>
<path class=b d="M327.39 541.69V544.39"/>
<path class=c d="M327.39 538.33V542.39"/>
<path class=d d="M327.39 536.33V537.49"/>
<path class=e d="M327.39 534.49V536.27"/>
<path class=f d="M327.39 533.27V535.81"/>
<path class=g d="M327.39 532.81V535.35"/>
<path class=h d="M327.39 532.35V535.04"/>
<path class=i d="M327.39 532.04V534.74"/>
<path class=a d="M328.71 542V544.69"/>
<path class=b d="M328.71 541.69V544.23"/>
<path class=c d="M328.71 535.12V542.23"/>
<path class=d d="M328.71 532.21V534.12"/>
<path class=e d="M328.71 530.21V531.52"/>
<path class=f d="M328.71 528.38V529.52"/>
<path class=g d="M328.71 526.38V529.22"/>
<path class=h d="M328.71 526.22V528.92"/>
<path class=i d="M328.71 525.92V528.76"/>
<path class=j d="M328.71 525.76V528.61"/>
<path class=a d="M330.03 542V544.69"/>
<path class=b d="M330.03 541.69V543.77"/>
<path class=c d="M330.03 535.42V541.77"/>
<path class=d d="M330.03 530.37V534.42"/>
<path class=e d="M330.03 527.3V529.37"/>
<path class=f d="M330.03 525.3V527.23"/>
<path class=g d="M330.03 524.23V526.93"/>
<path class=h d="M330.03 523.93V526.31"/>
<path class=i d="M330.03 523.31V526.16"/>
<path class=j d="M330.03 523.16V526.01"/>
<path class=a d="M331.34 542V544.85"/>
<path class=b d="M331.34 541.85V543.77"/>
<path class=c d="M331.34 534.5V541.77"/>
<path class=d d="M331.34 529.45V533.5"/>
<path class=e d="M331.34 527.45V528.46"/>
<path class=f d="M331.34 525.46V527.38"/>
<path class=g d="M331.34 524.38V526.77"/>
<path class=h d="M331.34 523.77V525.85"/>
<path class=i d="M331.34 522.85V525.24"/>
<path class=j d="M331.34 522.24V524.93"/>
<path class=a d="M332.66 542V544.69"/>
<path class=b d="M332.66 541.69V544.08"/>
<path class=c d="M332.66 535.27V542.08"/>
<path class=d d="M332.66 532.05V534.27"/>
<path class=e d="M332.66 529.91V531.05"/>
<path class=f d="M332.66 527.91V530.45"/>
<path class=g d="M332.66 527.45V529.22"/>
<path class=h d="M332.66 526.22V528.3"/>
<path class=j d="M332.66 525.3V528"/>
<path class=a d="M333.98 542V544.69"/>
<path class=b d="M333.98 541.69V543.93"/>
<path class=c d="M333.98 537.26V541.93"/>
<path class=d d="M333.98 531.9V536.26"/>
<path class=e d="M333.98 529.9V531.06"/>
<path class=f d="M333.98 528.06V530.3"/>
<path class=g d="M333.98 527.3V529.84"/>
<path class=h d="M333.98 526.84V529.38"/>
<path class=a d="M335.29 542V544.54"/>
<path class=b d="M335.29 541.54V543.93"/>
<path class=c d="M335.29 536.19V541.93"/>
<path class=d d="M335.29 533.58V535.19"/>
<path class=e d="M335.29 530.98V532.58"/>
<path class=f d="M335.29 528.98V530.75"/>
<path class=g d="M335.29 527.75V530.14"/>
<path class=h d="M335.29 527.14V529.53"/>
<path class=i d="M335.29 526.53V529.07"/>
<path class=j d="M335.29 526.07V528.76"/>
<path class=a d="M336.61 542V544.54"/>
<path class=b d="M336.61 541.54V544.39"/>
<path class=c d="M336.61 538.64V542.39"/>
<path class=d d="M336.61 536.03V537.64"/>
<path class=e d="M336.61 534.03V535.2"/>
<path class=f d="M336.61 532.2V534.28"/>
<path class=h d="M336.61 531.28V533.97"/>
<path class=i d="M336.61 530.97V533.67"/>
<path class=j d="M336.61 530.67V533.51"/>
<path class=a d="M337.93 542V544.69"/>
<path class=b d="M337.93 541.69V543.16"/>
<path class=c d="M337.93 527.3V541.16"/>
<path class=d d="M337.93 518.42V526.3"/>
<path class=e d="M337.93 513.98V517.42"/>
<path class=f d="M337.93 511.98V512.99"/>
<path class=g d="M337.93 509.99V511.76"/>
<path class=h d="M337.93 508.76V511"/>
<path class=i d="M337.93 508V510.84"/>
<path class=j d="M337.93 507.84V510.69"/>
<path class=a d="M339.25 542V544.54"/>
<path class=b d="M339.25 541.54V543.47"/>
<path class=c d="M339.25 524.85V541.47"/>
<path class=d d="M339.25 514.9V523.85"/>
<path class=e d="M339.25 512.14V513.9"/>
<path class=f d="M339.25 509.23V511.14"/>
<path class=g d="M339.25 507.23V509.16"/>
<path class=h d="M339.25 506.16V508.7"/>
<path class=i d="M339.25 505.7V508.39"/>
<path class=j d="M339.25 505.39V507.78"/>
<path class=a d="M340.56 542V544.54"/>
<path class=b d="M340.56 541.54V543.32"/>
<path class=c d="M340.56 527.46V541.32"/>
<path class=d d="M340.56 518.88V526.46"/>
<path class=e d="M340.56 515.82V517.88"/>
<path class=f d="M340.56 513.82V514.82"/>
<path class=g d="M340.56 511.82V514.37"/>
<path class=h d="M340.56 511.37V514.06"/>
<path class=i d="M340.56 511.06V513.6"/>
<path class=j d="M340.56 510.6V513.45"/>
<path class=a d="M341.88 542V544.69"/>
<path class=b d="M341.88 541.69V543.93"/>
<path class=c d="M341.88 527.76V541.93"/>
<path class=d d="M341.88 520.56V526.76"/>
<path class=e d="M341.88 516.89V519.56"/>
<path class=f d="M341.88 514.74V515.89"/>
<path class=g d="M341.88 512.74V514.98"/>
<path class=h d="M341.88 511.98V514.21"/>
<path class=i d="M341.88 511.21V513.45"/>
<path class=a d="M343.2 542V544.85"/>
<path class=b d="M343.2 541.85V543.77"/>
<path class=c d="M343.2 535.27V541.77"/>
<path class=d d="M343.2 530.06V534.27"/>
<path class=e d="M343.2 528.06V529.22"/>
<path class=f d="M343.2 526.22V527.23"/>
<path class=g d="M343.2 524.23V526.77"/>
<path class=a d="M344.51 542V544.23"/>
<path class=b d="M344.51 541.23V543.62"/>
<path class=c d="M344.51 532.51V541.62"/>
<path class=d d="M344.51 527.76V531.51"/>
<path class=e d="M344.51 525.76V526.77"/>
<path class=f d="M344.51 523.77V525.39"/>
<path class=g d="M344.51 522.39V524.93"/>
<path class=h d="M344.51 521.93V523.4"/>
<path class=i d="M344.51 520.4V523.1"/>
<path class=a d="M345.83 542V544.69"/>
<path class=b d="M345.83 541.69V543.62"/>
<path class=c d="M345.83 530.98V541.62"/>
<path class=d d="M345.83 525.47V529.98"/>
<path class=e d="M345.83 522.56V524.47"/>
<path class=f d="M345.83 520.26V521.56"/>
<path class=g d="M345.83 518.26V520.65"/>
<path class=h d="M345.83 517.65V520.19"/>
<path class=j d="M345.83 517.19V519.73"/>
<path class=a d="M347.15 542V544.39"/>
<path class=b d="M347.15 541.39V543.32"/>
<path class=c d="M347.15 521.18V541.32"/>
<path class=d d="M347.15 511.83V520.18"/>
<path class=e d="M347.15 506.01V510.83"/>
<path class=f d="M347.15 503.41V505.01"/>
<path class=g d="M347.15 501.41V503.18"/>
<path class=h d="M347.15 500.18V501.96"/>
<path class=i d="M347.15 498.96V501.19"/>
<path class=a d="M348.46 542V544.39"/>
<path class=b d="M348.46 541.39V542.7"/>
<path class=c d="M348.46 523.93V540.7"/>
<path class=d d="M348.46 512.45V522.93"/>
<path class=e d="M348.46 506.93V511.45"/>
<path class=f d="M348.46 502.49V505.93"/>
<path class=g d="M348.46 500.49V502.88"/>
<path class=h d="M348.46 499.88V501.35"/>
<path class=i d="M348.46 498.35V500.43"/>
<path class=j d="M348.46 497.43V500.12"/>
<path class=a d="M349.78 542V544.23"/>
<path class=b d="M349.78 541.23V543.01"/>
<path class=c d="M349.78 520.56V541.01"/>
<path class=d d="M349.78 510.45V519.56"/>
<path class=e d="M349.78 505.25V509.45"/>
<path class=f d="M349.78 501.88V504.25"/>
<path class=g d="M349.78 499.88V501.8"/>
<path class=h d="M349.78 498.8V501.04"/>
<path class=i d="M349.78 498.04V500.89"/>
<path class=j d="M349.78 497.89V500.58"/>
<path class=a d="M351.1 542V544.54"/>
<path class=b d="M351.1 541.54V544.08"/>
<path class=c d="M351.1 528.99V542.08"/>
<path class=d d="M351.1 522.71V527.99"/>
<path class=e d="M351.1 520.26V521.71"/>
<path class=f d="M351.1 517.65V519.26"/>
<path class=g d="M351.1 515.65V517.12"/>
<path class=h d="M351.1 514.12V516.66"/>
<path class=i d="M351.1 513.66V516.36"/>
<path class=j d="M351.1 513.36V516.2"/>
<path class=a d="M352.41 542V544.08"/>
<path class=b d="M352.41 541.08V543.32"/>
<path class=c d="M352.41 530.21V541.32"/>
<path class=d d="M352.41 524.39V529.21"/>
<path class=e d="M352.41 522.39V524.02"/>
<path class=f d="M352.41 520.87V522.02"/>
<path class=g d="M352.41 518.87V520.8"/>
<path class=h d="M352.41 517.8V519.73"/>
<path class=i d="M352.41 516.73V519.42"/>
<path class=j d="M352.41 516.42V519.27"/>
<path class=a d="M353.73 542V544.39"/>
<path class=b d="M353.73 541.39V543.16"/>
<path class=c d="M353.73 525.01V541.16"/>
<path class=d d="M353.73 515.97V524.01"/>
<path class=e d="M353.73 512.91V514.97"/>
<path class=f d="M353.73 510.76V511.91"/>
<path class=g d="M353.73 508.76V510.54"/>
<path class=h d="M353.73 507.54V509.77"/>
<path class=i d="M353.73 506.77V509.31"/>
<path class=j d="M353.73 506.31V508.85"/>
<path class=k d="M353.73 505.85V508.7"/>
<path class=a d="M355.05 542V544.23"/>
<path class=b d="M355.05 541.23V543.47"/>
<path class=c d="M355.05 525.31V541.47"/>
<path class=d d="M355.05 518.27V524.31"/>
<path class=e d="M355.05 513.98V517.27"/>
<path class=f d="M355.05 511.22V512.98"/>
<path class=g d="M355.05 509.22V510.84"/>
<path class=h d="M355.05 507.84V509.77"/>
<path class=i d="M355.05 506.77V508.85"/>
<path class=j d="M355.05 505.85V508.54"/>
<path class=a d="M356.36 542V544.39"/>
<path class=b d="M356.36 541.39V542.7"/>
<path class=c d="M356.36 518.11V540.7"/>
<path class=d d="M356.36 504.63V517.11"/>
<path class=e d="M356.36 496.06V503.63"/>
<path class=f d="M356.36 492.99V495.06"/>
<path class=g d="M356.36 490.24V491.99"/>
<path class=h d="M356.36 488.24V490.47"/>
<path class=i d="M356.36 487.47V489.86"/>
<path class=j d="M356.36 486.86V488.94"/>
<path class=a d="M357.68 542V543.93"/>
<path class=b d="M357.68 540.48V541.93"/>
<path class=c d="M357.68 526.69V539.48"/>
<path class=d d="M357.68 516.43V525.69"/>
<path class=e d="M357.68 510.76V515.43"/>
<path class=f d="M357.68 507.24V509.76"/>
<path class=g d="M357.68 505.24V506.86"/>
<path class=h d="M357.68 503.86V506.09"/>
<path class=i d="M357.68 503.09V505.48"/>
<path class=j d="M357.68 502.48V505.17"/>
<path class=a d="M359 542V544.08"/>
<path class=b d="M359 541.08V542.86"/>
<path class=c d="M359 520.56V540.86"/>
<path class=d d="M359 512.6V519.56"/>
<path class=e d="M359 507.08V511.6"/>
<path class=f d="M359 502.64V506.08"/>
<path class=g d="M359 500.64V501.65"/>
<path class=h d="M359 498.65V500.73"/>
<path class=i d="M359 497.73V500.12"/>
<path class=j d="M359 497.12V499.97"/>
<path class=k d="M359 496.97V499.81"/>
<path class=a d="M360.32 542V543.93"/>
<path class=b d="M360.32 540.93V542.7"/>
<path class=c d="M360.32 525.62V540.7"/>
<path class=d d="M360.32 518.11V524.62"/>
<path class=e d="M360.32 513.21V517.11"/>
<path class=f d="M360.32 510.91V512.21"/>
<path class=g d="M360.32 508.91V510.69"/>
<path class=h d="M360.32 507.69V509.62"/>
<path class=i d="M360.32 506.62V508.85"/>
<path class=j d="M360.32 505.85V508.39"/>
<path class=a d="M361.63 542V544.23"/>
<path class=b d="M361.63 541.23V543.47"/>
<path class=c d="M361.63 534.04V541.47"/>
<path class=d d="M361.63 531.59V533.04"/>
<path class=e d="M361.63 529.14V530.59"/>
<path class=f d="M361.63 526.84V528.14"/>
<path class=g d="M361.63 524.84V526.77"/>
<path class=h d="M361.63 523.77V525.7"/>
<path class=i d="M361.63 522.7V525.09"/>
<path class=j d="M361.63 522.09V524.93"/>
<path class=a d="M362.95 542V544.23"/>
<path class=b d="M362.95 541.23V543.01"/>
<path class=c d="M362.95 526.38V541.01"/>
<path class=d d="M362.95 516.12V525.38"/>
<path class=e d="M362.95 510.91V515.12"/>
<path class=f d="M362.95 507.54V509.91"/>
<path class=g d="M362.95 504.94V506.54"/>
<path class=h d="M362.95 502.94V505.02"/>
<path class=i d="M362.95 502.02V504.26"/>
<path class=a d="M364.27 542V544.23"/>
<path class=b d="M364.27 541.23V542.55"/>
<path class=c d="M364.27 527.3V540.55"/>
<path class=d d="M364.27 518.27V526.3"/>
<path class=e d="M364.27 512.45V517.27"/>
<path class=f d="M364.27 508.62V511.45"/>
<path class=g d="M364.27 506.62V508.08"/>
<path class=h d="M364.27 505.08V507.47"/>
<path class=i d="M364.27 504.47V507.17"/>
<path class=j d="M364.27 504.17V506.71"/>
<path class=a d="M365.58 542V543.01"/>
<path class=b d="M365.58 539.56V541.01"/>
<path class=c d="M365.58 515.05V538.56"/>
<path class=d d="M365.58 503.1V514.05"/>
<path class=e d="M365.58 496.52V502.1"/>
<path class=f d="M365.58 491.61V495.52"/>
<path class=g d="M365.58 489.61V490.93"/>
<path class=h d="M365.58 487.93V490.32"/>
<path class=i d="M365.58 487.32V489.24"/>
<path class=j d="M365.58 486.24V489.09"/>
<path class=k d="M365.58 486.09V488.94"/>
<path class=l d="M365.58 485.94V488.78"/>
<path class=a d="M366.9 542V544.39"/>
<path class=b d="M366.9 540.32V542.39"/>
<path class=c d="M366.9 515.66V539.32"/>
<path class=d d="M366.9 497.43V514.66"/>
<path class=e d="M366.9 488.7V496.43"/>
<path class=f d="M366.9 479.51V487.7"/>
<path class=g d="M366.9 476.45V478.51"/>
<path class=h d="M366.9 474.45V475.77"/>
<path class=i d="M366.9 472.77V474.08"/>
<path class=a d="M368.22 541.55V543"/>
<path class=b d="M368.22 539.55V540.56"/>
<path class=c d="M368.22 512.6V538.56"/>
<path class=d d="M368.22 497.13V511.6"/>
<path class=e d="M368.22 485.95V496.13"/>
<path class=f d="M368.22 479.51V484.95"/>
<path class=g d="M368.22 475.38V478.51"/>
<path class=h d="M368.22 472.47V474.38"/>
<path class=i d="M368.22 470.47V473.01"/>
<path class=j d="M368.22 470.01V472.7"/>
<path class=a d="M369.53 542V543.62"/>
<path class=b d="M369.53 540.62V541.78"/>
<path class=c d="M369.53 524.24V539.78"/>
<path class=d d="M369.53 514.44V523.24"/>
<path class=e d="M369.53 507.85V513.44"/>
<path class=f d="M369.53 504.33V506.85"/>
<path class=g d="M369.53 501.88V503.33"/>
<path class=h d="M369.53 499.88V501.35"/>
<path class=i d="M369.53 498.35V500.43"/>
<path class=j d="M369.53 497.43V500.27"/>
<path class=a d="M370.85 542V544.54"/>
<path class=b d="M370.85 541.54V542.86"/>
<path class=c d="M370.85 528.99V540.86"/>
<path class=d d="M370.85 520.1V527.99"/>
<path class=e d="M370.85 513.82V519.1"/>
<path class=f d="M370.85 509.69V512.82"/>
<path class=g d="M370.85 506.93V508.69"/>
<path class=h d="M370.85 504.93V506.71"/>
<path class=i d="M370.85 503.71V505.94"/>
<path class=j d="M370.85 502.94V505.48"/>
<path class=a d="M372.17 542V544.23"/>
<path class=b d="M372.17 541.23V542.55"/>
<path class=c d="M372.17 523.17V540.55"/>
<path class=d d="M372.17 513.82V522.17"/>
<path class=e d="M372.17 507.08V512.82"/>
<path class=f d="M372.17 501.57V506.08"/>
<path class=g d="M372.17 499.12V500.57"/>
<path class=h d="M372.17 497.12V498.74"/>
<path class=i d="M372.17 495.74V497.98"/>
<path class=j d="M372.17 494.98V497.67"/>
<path class=a d="M373.48 542V543.93"/>
<path class=b d="M373.48 540.93V542.09"/>
<path class=c d="M373.48 525.16V540.09"/>
<path class=d d="M373.48 515.66V524.16"/>
<path class=e d="M373.48 509.84V514.66"/>
<path class=f d="M373.48 507.24V508.84"/>
<path class=g d="M373.48 505.24V507.47"/>
<path class=h d="M373.48 504.47V505.79"/>
<path class=i d="M373.48 502.79V505.02"/>
<path class=j d="M373.48 502.02V504.72"/>
<path class=a d="M374.8 542V544.23"/>
<path class=b d="M374.8 541.23V542.4"/>
<path class=c d="M374.8 522.4V540.4"/>
<path class=d d="M374.8 510.91V521.4"/>
<path class=e d="M374.8 504.33V509.91"/>
<path class=f d="M374.8 496.21V503.33"/>
<path class=g d="M374.8 493.91V495.21"/>
<path class=h d="M374.8 490.39V492.91"/>
<path class=i d="M374.8 488.39V490.47"/>
<path class=j d="M374.8 487.47V490.01"/>
<path class=l d="M374.8 487.01V489.86"/>
<path class=a d="M376.12 542V543.62"/>
<path class=b d="M376.12 539.71V541.62"/>
<path class=c d="M376.12 520.41V538.71"/>
<path class=d d="M376.12 500.8V519.41"/>
<path class=e d="M376.12 489.62V499.8"/>
<path class=f d="M376.12 481.81V488.62"/>
<path class=g d="M376.12 478.29V480.81"/>
<path class=h d="M376.12 475.22V477.29"/>
<path class=i d="M376.12 473.22V474.85"/>
<path class=j d="M376.12 471.85V474.23"/>
<path class=a d="M377.43 542V543.32"/>
<path class=b d="M377.43 538.79V541.32"/>
<path class=c d="M377.43 517.65V537.79"/>
<path class=d d="M377.43 501.42V516.65"/>
<path class=e d="M377.43 492.69V500.42"/>
<path class=f d="M377.43 485.33V491.69"/>
<path class=g d="M377.43 483.04V484.33"/>
<path class=h d="M377.43 480.59V482.04"/>
<path class=i d="M377.43 478.59V479.9"/>
<path class=j d="M377.43 476.9V479.29"/>
<path class=a d="M378.75 542V544.08"/>
<path class=b d="M378.75 541.08V542.09"/>
<path class=c d="M378.75 519.65V540.09"/>
<path class=d d="M378.75 510.61V518.65"/>
<path class=e d="M378.75 503.87V509.61"/>
<path class=f d="M378.75 497.89V502.87"/>
<path class=g d="M378.75 495.29V496.89"/>
<path class=h d="M378.75 493.29V495.37"/>
<path class=i d="M378.75 492.37V494.61"/>
<path class=j d="M378.75 491.61V494.3"/>
<path class=a d="M380.07 542V544.69"/>
<path class=b d="M380.07 541.69V544.23"/>
<path class=c d="M380.07 531.75V542.23"/>
<path class=d d="M380.07 524.7V530.75"/>
<path class=e d="M380.07 521.02V523.7"/>
<path class=f d="M380.07 516.89V520.02"/>
<path class=g d="M380.07 514.89V516.66"/>
<path class=h d="M380.07 513.66V515.44"/>
<path class=i d="M380.07 512.44V514.82"/>
<path class=a d="M381.39 542V544.69"/>
<path class=b d="M381.39 541.69V543.01"/>
<path class=c d="M381.39 531.59V541.01"/>
<path class=d d="M381.39 524.85V530.59"/>
<path class=e d="M381.39 520.87V523.85"/>
<path class=f d="M381.39 518.11V519.87"/>
<path class=g d="M381.39 516.11V517.58"/>
<path class=h d="M381.39 514.58V516.97"/>
<path class=i d="M381.39 513.97V516.36"/>
<path class=j d="M381.39 513.36V516.2"/>
<path class=a d="M382.7 542V544.54"/>
<path class=b d="M382.7 541.54V542.7"/>
<path class=c d="M382.7 530.83V540.7"/>
<path class=d d="M382.7 524.09V529.83"/>
<path class=e d="M382.7 519.34V523.09"/>
<path class=f d="M382.7 516.43V518.34"/>
<path class=g d="M382.7 513.67V515.43"/>
<path class=h d="M382.7 511.67V512.99"/>
<path class=i d="M382.7 509.99V511.76"/>
<path class=j d="M382.7 508.76V511"/>
<path class=a d="M384.02 542V544.23"/>
<path class=b d="M384.02 541.23V543.16"/>
<path class=c d="M384.02 533.28V541.16"/>
<path class=d d="M384.02 525.16V532.28"/>
<path class=e d="M384.02 519.8V524.16"/>
<path class=f d="M384.02 515.51V518.8"/>
<path class=g d="M384.02 513.51V515.28"/>
<path class=h d="M384.02 512.28V514.82"/>
<path class=i d="M384.02 511.82V513.45"/>
<path class=a d="M385.34 542V543.93"/>
<path class=b d="M385.34 540.93V542.55"/>
<path class=c d="M385.34 522.1V540.55"/>
<path class=d d="M385.34 509.23V521.1"/>
<path class=e d="M385.34 498.05V508.23"/>
<path class=f d="M385.34 491.46V497.05"/>
<path class=g d="M385.34 488.24V490.46"/>
<path class=h d="M385.34 486.24V487.25"/>
<path class=i d="M385.34 484.25V486.03"/>
<path class=j d="M385.34 483.03V485.42"/>
<path class=a d="M386.65 542V544.08"/>
<path class=b d="M386.65 541.08V542.24"/>
<path class=c d="M386.65 522.1V540.24"/>
<path class=d d="M386.65 510.15V521.1"/>
<path class=e d="M386.65 500.04V509.15"/>
<path class=f d="M386.65 492.23V499.04"/>
<path class=g d="M386.65 489.47V491.23"/>
<path class=h d="M386.65 487.47V489.09"/>
<path class=i d="M386.65 485.64V487.09"/>
<path class=j d="M386.65 483.64V486.03"/>
<path class=a d="M387.97 542V544.23"/>
<path class=b d="M387.97 540.78V542.23"/>
<path class=c d="M387.97 527.61V539.78"/>
<path class=d d="M387.97 520.41V526.61"/>
<path class=e d="M387.97 514.74V519.41"/>
<path class=f d="M387.97 509.54V513.74"/>
<path class=g d="M387.97 507.54V509.16"/>
<path class=h d="M387.97 506.16V507.32"/>
<path class=i d="M387.97 504.32V505.63"/>
<path class=j d="M387.97 502.63V505.17"/>
<path class=a d="M389.29 542V544.69"/>
<path class=b d="M389.29 541.69V544.23"/>
<path class=c d="M389.29 532.67V542.23"/>
<path class=d d="M389.29 527.61V531.67"/>
<path class=e d="M389.29 524.55V526.61"/>
<path class=f d="M389.29 522.4V523.55"/>
<path class=g d="M389.29 520.4V522.64"/>
<path class=h d="M389.29 519.64V521.1"/>
<path class=i d="M389.29 518.1V520.34"/>
<path class=a d="M390.6 542V544.08"/>
<path class=b d="M390.6 541.08V542.24"/>
<path class=c d="M390.6 529.91V540.24"/>
<path class=d d="M390.6 524.09V528.91"/>
<path class=e d="M390.6 519.03V523.09"/>
<path class=f d="M390.6 516.58V518.03"/>
<path class=g d="M390.6 514.58V515.59"/>
<path class=h d="M390.6 512.59V514.52"/>
<path class=i d="M390.6 511.52V513.45"/>
<path class=j d="M390.6 510.45V513.29"/>
<path class=a d="M391.92 542V544.39"/>
<path class=b d="M391.92 541.39V542.4"/>
<path class=c d="M391.92 533.74V540.4"/>
<path class=d d="M391.92 526.69V532.74"/>
<path class=e d="M391.92 523.93V525.69"/>
<path class=f d="M391.92 521.33V522.93"/>
<path class=g d="M391.92 518.11V520.33"/>
<path class=h d="M391.92 516.11V517.73"/>
<path class=i d="M391.92 514.73V516.82"/>
<path class=j d="M391.92 513.82V516.66"/>
<path class=k d="M391.92 513.66V516.51"/>
<path class=a d="M393.24 542V543.77"/>
<path class=b d="M393.24 540.63V541.77"/>
<path class=c d="M393.24 524.55V539.63"/>
<path class=d d="M393.24 511.68V523.55"/>
<path class=e d="M393.24 504.33V510.68"/>
<path class=f d="M393.24 500.65V503.33"/>
<path class=g d="M393.24 496.52V499.65"/>
<path class=h d="M393.24 493.91V495.52"/>
<path class=i d="M393.24 491.91V493.84"/>
<path class=j d="M393.24 490.84V493.23"/>
<path class=k d="M393.24 490.23V493.07"/>
<path class=a d="M394.55 542V544.69"/>
<path class=b d="M394.55 540.63V542.69"/>
<path class=c d="M394.55 528.99V539.63"/>
<path class=d d="M394.55 518.27V527.99"/>
<path class=e d="M394.55 513.37V517.27"/>
<path class=f d="M394.55 508.77V512.37"/>
<path class=g d="M394.55 506.77V507.93"/>
<path class=h d="M394.55 504.93V507.01"/>
<path class=i d="M394.55 504.01V505.79"/>
<path class=j d="M394.55 502.79V505.48"/>
<path class=a d="M395.87 542V544.23"/>
<path class=b d="M395.87 541.23V542.4"/>
<path class=c d="M395.87 528.53V540.4"/>
<path class=d d="M395.87 521.02V527.53"/>
<path class=e d="M395.87 513.06V520.02"/>
<path class=f d="M395.87 509.08V512.06"/>
<path class=g d="M395.87 507.08V508.24"/>
<path class=h d="M395.87 505.24V506.55"/>
<path class=i d="M395.87 503.55V505.94"/>
<path class=j d="M395.87 502.94V505.79"/>
<path class=a d="M397.19 542V543.93"/>
<path class=b d="M397.19 540.93V542.09"/>
<path class=c d="M397.19 531.44V540.09"/>
<path class=d d="M397.19 524.39V530.44"/>
<path class=e d="M397.19 518.73V523.39"/>
<path class=f d="M397.19 515.51V517.73"/>
<path class=g d="M397.19 513.37V514.51"/>
<path class=h d="M397.19 511.37V512.83"/>
<path class=i d="M397.19 509.83V512.53"/>
<path class=a d="M398.5 542V544.69"/>
<path class=b d="M398.5 541.69V543.77"/>
<path class=c d="M398.5 538.79V541.77"/>
<path class=d d="M398.5 535.73V537.79"/>
<path class=e d="M398.5 533.28V534.73"/>
<path class=f d="M398.5 530.98V532.28"/>
<path class=g d="M398.5 528.98V531.52"/>
<path class=h d="M398.5 528.52V530.91"/>
<path class=i d="M398.5 527.91V530.6"/>
<path class=j d="M398.5 527.6V530.45"/>
<path class=a d="M399.82 542V544.54"/>
<path class=b d="M399.82 541.54V543.47"/>
<path class=c d="M399.82 534.35V541.47"/>
<path class=d d="M399.82 527.61V533.35"/>
<path class=e d="M399.82 523.63V526.61"/>
<path class=f d="M399.82 520.1V522.63"/>
<path class=g d="M399.82 518.1V519.11"/>
<path class=h d="M399.82 516.11V517.89"/>
<path class=i d="M399.82 514.89V517.12"/>
<path class=a d="M401.14 542V543.77"/>
<path class=b d="M401.14 540.77V542.4"/>
<path class=c d="M401.14 531.59V540.4"/>
<path class=d d="M401.14 524.09V530.59"/>
<path class=e d="M401.14 517.19V523.09"/>
<path class=f d="M401.14 512.45V516.19"/>
<path class=g d="M401.14 510.15V511.45"/>
<path class=h d="M401.14 508.15V510.54"/>
<path class=i d="M401.14 507.54V509.31"/>
<path class=j d="M401.14 506.31V508.85"/>
<path class=a d="M402.46 542V544.39"/>
<path class=b d="M402.46 541.39V542.4"/>
<path class=c d="M402.46 530.06V540.4"/>
<path class=d d="M402.46 522.25V529.06"/>
<path class=e d="M402.46 514.74V521.25"/>
<path class=f d="M402.46 511.22V513.74"/>
<path class=g d="M402.46 508.62V510.22"/>
<path class=h d="M402.46 506.62V507.78"/>
<path class=i d="M402.46 504.78V507.01"/>
<path class=j d="M402.46 504.01V506.71"/>
<path class=a d="M403.77 542V543.77"/>
<path class=b d="M403.77 540.77V543.16"/>
<path class=c d="M403.77 530.98V541.16"/>
<path class=d d="M403.77 525.47V529.98"/>
<path class=e d="M403.77 519.49V524.47"/>
<path class=f d="M403.77 515.97V518.49"/>
<path class=g d="M403.77 513.52V514.97"/>
<path class=h d="M403.77 511.22V512.52"/>
<path class=i d="M403.77 509.22V511.76"/>
<path class=j d="M403.77 508.76V510.38"/>
<path class=a d="M405.09 542V544.23"/>
<path class=b d="M405.09 541.23V543.16"/>
<path class=c d="M405.09 532.51V541.16"/>
<path class=d d="M405.09 524.24V531.51"/>
<path class=e d="M405.09 517.5V523.24"/>
<path class=f d="M405.09 513.21V516.5"/>
<path class=g d="M405.09 510V512.21"/>
<path class=h d="M405.09 507.54V509"/>
<path class=i d="M405.09 505.54V507.47"/>
<path class=j d="M405.09 504.47V507.17"/>
<path class=a d="M406.41 542V544.69"/>
<path class=b d="M406.41 541.69V544.08"/>
<path class=c d="M406.41 537.26V542.08"/>
<path class=d d="M406.41 533.28V536.26"/>
<path class=e d="M406.41 528.38V532.28"/>
<path class=f d="M406.41 525.31V527.38"/>
<path class=g d="M406.41 523.31V525.09"/>
<path class=h d="M406.41 522.09V524.17"/>
<path class=i d="M406.41 521.17V523.4"/>
<path class=j d="M406.41 520.4V522.33"/>
<path class=a d="M407.72 542V544.23"/>
<path class=b d="M407.72 541.23V543.77"/>
<path class=c d="M407.72 538.33V541.77"/>
<path class=d d="M407.72 534.5V537.33"/>
<path class=e d="M407.72 532.5V534.28"/>
<path class=f d="M407.72 530.21V532.28"/>
<path class=g d="M407.72 528.21V530.14"/>
<path class=h d="M407.72 527.14V529.84"/>
<path class=j d="M407.72 526.84V529.68"/>
<path class=a d="M409.04 542V544.54"/>
<path class=b d="M409.04 541.54V542.86"/>
<path class=c d="M409.04 532.51V540.86"/>
<path class=d d="M409.04 526.38V531.51"/>
<path class=e d="M409.04 523.17V525.38"/>
<path class=f d="M409.04 520.56V522.17"/>
<path class=g d="M409.04 518.56V520.19"/>
<path class=h d="M409.04 517.19V519.57"/>
<path class=i d="M409.04 516.57V519.11"/>
<path class=j d="M409.04 516.11V518.96"/>
<path class=a d="M410.36 542V544.08"/>
<path class=b d="M410.36 541.08V543.77"/>
<path class=c d="M410.36 535.12V541.77"/>
<path class=d d="M410.36 530.83V534.12"/>
<path class=e d="M410.36 527.46V529.83"/>
<path class=f d="M410.36 524.85V526.46"/>
<path class=g d="M410.36 522.85V525.39"/>
<path class=h d="M410.36 522.39V524.78"/>
<path class=i d="M410.36 521.78V524.17"/>
<path class=j d="M410.36 521.17V523.4"/>
<path class=a d="M411.67 542V544.39"/>
<path class=b d="M411.67 541.39V542.4"/>
<path class=c d="M411.67 532.82V540.4"/>
<path class=d d="M411.67 526.38V531.82"/>
<path class=e d="M411.67 521.33V525.38"/>
<path class=f d="M411.67 516.58V520.33"/>
<path class=g d="M411.67 514.58V515.74"/>
<path class=h d="M411.67 512.74V514.37"/>
<path class=i d="M411.67 511.37V513.14"/>
<path class=j d="M411.67 510.14V512.68"/>
<path class=a d="M412.99 542V544.23"/>
<path class=b d="M412.99 541.23V543.32"/>
<path class=c d="M412.99 535.73V541.32"/>
<path class=d d="M412.99 530.83V534.73"/>
<path class=e d="M412.99 528.68V529.83"/>
<path class=f d="M412.99 526.38V527.68"/>
<path class=g d="M412.99 524.38V526.01"/>
<path class=h d="M412.99 523.01V524.63"/>
<path class=i d="M412.99 521.63V524.47"/>
<path class=j d="M412.99 521.47V524.17"/>
<path class=a d="M414.31 542V544.39"/>
<path class=b d="M414.31 541.39V542.86"/>
<path class=c d="M414.31 531.9V540.86"/>
<path class=d d="M414.31 527V530.9"/>
<path class=e d="M414.31 523.47V526"/>
<path class=f d="M414.31 520.56V522.47"/>
<path class=g d="M414.31 518.56V519.73"/>
<path class=h d="M414.31 516.73V518.04"/>
<path class=i d="M414.31 515.04V517.43"/>
<path class=j d="M414.31 514.43V517.28"/>
<path class=a d="M415.62 542V544.85"/>
<path class=b d="M415.62 541.85V544.39"/>
<path class=c d="M415.62 538.79V542.39"/>
<path class=d d="M415.62 534.2V537.79"/>
<path class=e d="M415.62 530.52V533.2"/>
<path class=f d="M415.62 528.52V529.68"/>
<path class=g d="M415.62 526.68V529.22"/>
<path class=h d="M415.62 526.22V528"/>
<path class=i d="M415.62 525V527.38"/>
<path class=j d="M415.62 524.38V527.23"/>
<path class=a d="M416.94 542V544.69"/>
<path class=b d="M416.94 541.69V544.23"/>
<path class=c d="M416.94 538.49V542.23"/>
<path class=d d="M416.94 536.49V537.49"/>
<path class=e d="M416.94 534.49V536.27"/>
<path class=f d="M416.94 533.27V534.58"/>
<path class=g d="M416.94 531.58V534.12"/>
<path class=h d="M416.94 531.12V533.21"/>
<path class=a d="M418.26 542V544.85"/>
<path class=b d="M418.26 541.85V543.16"/>
<path class=c d="M418.26 537.26V541.16"/>
<path class=d d="M418.26 531.29V536.26"/>
<path class=e d="M418.26 525.31V530.29"/>
<path class=f d="M418.26 522.1V524.31"/>
<path class=g d="M418.26 520.1V521.26"/>
<path class=h d="M418.26 518.26V519.57"/>
<path class=i d="M418.26 516.57V519.11"/>
<path class=j d="M418.26 516.11V518.96"/>
<path class=a d="M419.57 542V544.08"/>
<path class=b d="M419.57 541.08V543.16"/>
<path class=c d="M419.57 535.88V541.16"/>
<path class=d d="M419.57 530.83V534.88"/>
<path class=e d="M419.57 527.3V529.83"/>
<path class=f d="M419.57 524.39V526.3"/>
<path class=g d="M419.57 522.39V524.02"/>
<path class=h d="M419.57 521.02V522.79"/>
<path class=i d="M419.57 519.79V522.33"/>
<path class=k d="M419.57 519.33V522.18"/>
<path class=a d="M420.89 542V543.93"/>
<path class=b d="M420.89 539.71V541.93"/>
<path class=c d="M420.89 528.84V538.71"/>
<path class=d d="M420.89 519.19V527.84"/>
<path class=e d="M420.89 510.91V518.19"/>
<path class=f d="M420.89 506.78V509.91"/>
<path class=g d="M420.89 504.78V506.09"/>
<path class=h d="M420.89 503.09V504.1"/>
<path class=i d="M420.89 501.1V503.03"/>
<path class=j d="M420.89 500.03V502.72"/>
<path class=a d="M422.21 542V544.54"/>
<path class=b d="M422.21 541.4V542.54"/>
<path class=c d="M422.21 532.05V540.4"/>
<path class=d d="M422.21 525.62V531.05"/>
<path class=e d="M422.21 522.25V524.62"/>
<path class=f d="M422.21 519.03V521.25"/>
<path class=g d="M422.21 517.03V518.19"/>
<path class=h d="M422.21 515.19V516.97"/>
<path class=i d="M422.21 513.97V516.66"/>
<path class=j d="M422.21 513.66V516.36"/>
<path class=a d="M423.53 542V544.08"/>
<path class=b d="M423.53 541.08V542.09"/>
<path class=c d="M423.53 531.9V540.09"/>
<path class=d d="M423.53 524.09V530.9"/>
<path class=e d="M423.53 518.27V523.09"/>
<path class=f d="M423.53 513.98V517.27"/>
<path class=g d="M423.53 511.37V512.98"/>
<path class=h d="M423.53 509.37V511.45"/>
<path class=i d="M423.53 508.45V510.38"/>
<path class=a d="M424.84 542V544.08"/>
<path class=b d="M424.84 541.08V543.01"/>
<path class=c d="M424.84 536.34V541.01"/>
<path class=d d="M424.84 530.52V535.34"/>
<path class=e d="M424.84 527.76V529.52"/>
<path class=f d="M424.84 525.31V526.76"/>
<path class=g d="M424.84 523.31V524.78"/>
<path class=h d="M424.84 521.78V523.4"/>
<path class=i d="M424.84 520.4V522.64"/>
<path class=a d="M426.16 542V544.69"/>
<path class=b d="M426.16 541.69V544.23"/>
<path class=c d="M426.16 538.95V542.23"/>
<path class=d d="M426.16 536.95V537.95"/>
<path class=e d="M426.16 534.95V536.27"/>
<path class=f d="M426.16 533.27V534.58"/>
<path class=g d="M426.16 531.58V534.12"/>
<path class=h d="M426.16 531.12V532.9"/>
<path class=j d="M426.16 529.9V532.75"/>
<path class=a d="M427.48 542V544.08"/>
<path class=b d="M427.48 541.08V542.7"/>
<path class=c d="M427.48 532.97V540.7"/>
<path class=d d="M427.48 527.46V531.97"/>
<path class=e d="M427.48 522.4V526.46"/>
<path class=f d="M427.48 519.03V521.4"/>
<path class=g d="M427.48 517.03V518.81"/>
<path class=h d="M427.48 515.81V517.12"/>
<path class=i d="M427.48 514.12V516.05"/>
<path class=j d="M427.48 513.05V515.74"/>
<path class=a d="M428.79 542V544.54"/>
<path class=b d="M428.79 541.54V543.47"/>
<path class=c d="M428.79 535.27V541.47"/>
<path class=d d="M428.79 530.83V534.27"/>
<path class=e d="M428.79 526.23V529.83"/>
<path class=f d="M428.79 523.02V525.23"/>
<path class=g d="M428.79 521.02V522.94"/>
<path class=h d="M428.79 519.94V521.26"/>
<path class=i d="M428.79 518.26V520.49"/>
<path class=j d="M428.79 517.49V520.03"/>
<path class=a d="M430.11 542V544.85"/>
<path class=b d="M430.11 541.85V543.16"/>
<path class=c d="M430.11 535.27V541.16"/>
<path class=d d="M430.11 529.75V534.27"/>
<path class=e d="M430.11 525.77V528.75"/>
<path class=f d="M430.11 522.25V524.77"/>
<path class=g d="M430.11 520.25V521.87"/>
<path class=h d="M430.11 518.87V519.88"/>
<path class=i d="M430.11 516.88V518.81"/>
<path class=a d="M431.43 542V544.08"/>
<path class=b d="M431.43 541.08V542.55"/>
<path class=c d="M431.43 533.58V540.55"/>
<path class=d d="M431.43 526.38V532.58"/>
<path class=e d="M431.43 519.95V525.38"/>
<path class=f d="M431.43 515.51V518.95"/>
<path class=g d="M431.43 513.21V514.51"/>
<path class=h d="M431.43 511.21V512.53"/>
<path class=i d="M431.43 509.53V511.76"/>
<path class=j d="M431.43 508.76V511.3"/>
<path class=a d="M432.74 542V544.85"/>
<path class=b d="M432.74 541.55V542.85"/>
<path class=c d="M432.74 532.51V540.55"/>
<path class=d d="M432.74 525.31V531.51"/>
<path class=e d="M432.74 519.95V524.31"/>
<path class=f d="M432.74 515.51V518.95"/>
<path class=g d="M432.74 513.51V514.52"/>
<path class=h d="M432.74 511.52V512.99"/>
<path class=i d="M432.74 509.99V511.76"/>
<path class=j d="M432.74 508.76V511.61"/>
<path class=a d="M434.06 542V544.85"/>
<path class=b d="M434.06 541.85V544.23"/>
<path class=c d="M434.06 536.8V542.23"/>
<path class=d d="M434.06 532.51V535.8"/>
<path class=e d="M434.06 527.92V531.51"/>
<path class=f d="M434.06 524.85V526.92"/>
<path class=g d="M434.06 522.71V523.85"/>
<path class=h d="M434.06 520.71V522.18"/>
<path class=i d="M434.06 519.18V520.95"/>
<path class=j d="M434.06 517.95V520.19"/>
<path class=a d="M435.38 542V544.39"/>
<path class=b d="M435.38 541.39V544.23"/>
<path class=c d="M435.38 538.49V542.23"/>
<path class=d d="M435.38 535.58V537.49"/>
<path class=e d="M435.38 532.36V534.58"/>
<path class=f d="M435.38 530.36V531.83"/>
<path class=g d="M435.38 528.83V530.91"/>
<path class=h d="M435.38 527.91V530.3"/>
<path class=i d="M435.38 527.3V530.14"/>
<path class=j d="M435.38 527.14V529.99"/>
<path class=a d="M436.69 542V544.85"/>
<path class=b d="M436.69 541.85V544.54"/>
<path class=c d="M436.69 540.02V542.54"/>
<path class=d d="M436.69 537.41V539.02"/>
<path class=e d="M436.69 534.2V536.41"/>
<path class=f d="M436.69 531.75V533.2"/>
<path class=g d="M436.69 529.75V531.98"/>
<path class=h d="M436.69 528.98V531.52"/>
<path class=a d="M438.01 542V544.85"/>
<path class=b d="M438.01 541.85V544.69"/>
<path class=c d="M438.01 541.09V542.69"/>
<path class=d d="M438.01 539.09V540.56"/>
<path class=e d="M438.01 537.56V538.87"/>
<path class=f d="M438.01 535.87V537.8"/>
<path class=g d="M438.01 534.8V536.58"/>
<path class=h d="M438.01 533.58V536.12"/>
<path class=j d="M438.01 533.12V535.96"/>
<path class=a d="M439.33 542V544.85"/>
<path class=b d="M439.33 541.55V542.85"/>
<path class=c d="M439.33 533.58V540.55"/>
<path class=d d="M439.33 527.15V532.58"/>
<path class=e d="M439.33 522.56V526.15"/>
<path class=f d="M439.33 518.27V521.56"/>
<path class=g d="M439.33 516.27V517.58"/>
<path class=h d="M439.33 514.58V515.9"/>
<path class=i d="M439.33 512.9V515.44"/>
<path class=j d="M439.33 512.44V515.13"/>
<path class=a d="M440.64 542V544.69"/>
<path class=b d="M440.64 541.4V542.69"/>
<path class=c d="M440.64 534.2V540.4"/>
<path class=d d="M440.64 527.3V533.2"/>
<path class=e d="M440.64 523.32V526.3"/>
<path class=f d="M440.64 519.03V522.32"/>
<path class=g d="M440.64 516.89V518.03"/>
<path class=h d="M440.64 514.89V516.36"/>
<path class=i d="M440.64 513.36V515.59"/>
<path class=j d="M440.64 512.59V515.13"/>
<path class=a d="M441.96 542V544.69"/>
<path class=b d="M441.96 541.69V542.7"/>
<path class=c d="M441.96 531.44V540.7"/>
<path class=d d="M441.96 523.17V530.44"/>
<path class=e d="M441.96 516.43V522.17"/>
<path class=f d="M441.96 509.54V515.43"/>
<path class=g d="M441.96 506.47V508.54"/>
<path class=h d="M441.96 503.56V505.47"/>
<path class=i d="M441.96 501.56V503.8"/>
<path class=j d="M441.96 500.8V503.64"/>
<path class=a d="M443.28 542V544.08"/>
<path class=b d="M443.28 541.08V543.32"/>
<path class=c d="M443.28 535.88V541.32"/>
<path class=d d="M443.28 531.9V534.88"/>
<path class=e d="M443.28 527.76V530.9"/>
<path class=f d="M443.28 524.7V526.76"/>
<path class=g d="M443.28 522.7V524.17"/>
<path class=h d="M443.28 521.17V523.56"/>
<path class=i d="M443.28 520.56V523.1"/>
<path class=j d="M443.28 520.1V522.94"/>
<path class=a d="M444.6 542V544.85"/>
<path class=b d="M444.6 541.85V543.77"/>
<path class=c d="M444.6 539.71V541.77"/>
<path class=d d="M444.6 536.95V538.71"/>
<path class=e d="M444.6 534.5V535.95"/>
<path class=f d="M444.6 532.5V534.43"/>
<path class=g d="M444.6 531.43V533.82"/>
<path class=h d="M444.6 530.82V533.05"/>
<path class=a d="M445.91 542V543.47"/>
<path class=b d="M445.91 540.32V541.47"/>
<path class=c d="M445.91 531.59V539.32"/>
<path class=d d="M445.91 525.93V530.59"/>
<path class=e d="M445.91 522.1V524.93"/>
<path class=f d="M445.91 515.97V521.1"/>
<path class=g d="M445.91 513.97V514.98"/>
<path class=h d="M445.91 511.98V514.37"/>
<path class=i d="M445.91 511.37V512.83"/>
<path class=j d="M445.91 509.83V512.53"/>
<path class=a d="M447.23 542V544.69"/>
<path class=b d="M447.23 541.69V542.7"/>
<path class=c d="M447.23 534.35V540.7"/>
<path class=d d="M447.23 528.38V533.35"/>
<path class=e d="M447.23 521.48V527.38"/>
<path class=f d="M447.23 518.57V520.48"/>
<path class=g d="M447.23 516.57V517.58"/>
<path class=h d="M447.23 514.58V516.2"/>
<path class=i d="M447.23 513.2V515.59"/>
<path class=j d="M447.23 512.59V515.28"/>
<path class=a d="M448.55 542V544.23"/>
<path class=b d="M448.55 541.09V542.23"/>
<path class=c d="M448.55 531.29V540.09"/>
<path class=d d="M448.55 525.77V530.29"/>
<path class=e d="M448.55 521.64V524.77"/>
<path class=f d="M448.55 514.74V520.64"/>
<path class=g d="M448.55 511.99V513.74"/>
<path class=h d="M448.55 509.99V511"/>
<path class=i d="M448.55 508V509.62"/>
<path class=j d="M448.55 506.62V509"/>
<path class=a d="M449.86 542V543.93"/>
<path class=b d="M449.86 540.93V543.32"/>
<path class=c d="M449.86 531.9V541.32"/>
<path class=d d="M449.86 526.08V530.9"/>
<path class=e d="M449.86 522.25V525.08"/>
<path class=f d="M449.86 517.96V521.25"/>
<path class=g d="M449.86 515.96V517.28"/>
<path class=h d="M449.86 514.28V515.9"/>
<path class=i d="M449.86 512.9V515.44"/>
<path class=j d="M449.86 512.44V514.98"/>
<path class=a d="M451.18 542V544.39"/>
<path class=b d="M451.18 540.78V542.39"/>
<path class=c d="M451.18 531.29V539.78"/>
<path class=d d="M451.18 526.38V530.29"/>
<path class=e d="M451.18 520.72V525.38"/>
<path class=f d="M451.18 517.19V519.72"/>
<path class=g d="M451.18 515.19V517.43"/>
<path class=h d="M451.18 514.28V515.43"/>
<path class=i d="M451.18 512.28V513.6"/>
<path class=j d="M451.18 510.6V513.29"/>
<path class=a d="M452.5 542V544.69"/>
<path class=b d="M452.5 541.69V543.93"/>
<path class=c d="M452.5 537.26V541.93"/>
<path class=d d="M452.5 532.51V536.26"/>
<path class=e d="M452.5 530.51V531.83"/>
<path class=f d="M452.5 528.83V530.14"/>
<path class=g d="M452.5 527.14V529.07"/>
<path class=h d="M452.5 526.07V528.46"/>
<path class=b d="M453.81 542V544.69"/>
<path class=c d="M453.81 541.4V542.69"/>
<path class=d d="M453.81 539.1V540.4"/>
<path class=e d="M453.81 537.1V538.41"/>
<path class=f d="M453.81 535.41V536.88"/>
<path class=g d="M453.81 533.88V536.12"/>
<path class=h d="M453.81 533.12V535.35"/>
<path class=i d="M453.81 532.35V534.89"/>
<path class=a d="M455.13 542V544.69"/>
<path class=b d="M455.13 541.69V542.86"/>
<path class=c d="M455.13 534.04V540.86"/>
<path class=d d="M455.13 529.3V533.04"/>
<path class=e d="M455.13 525.01V528.3"/>
<path class=f d="M455.13 521.64V524.01"/>
<path class=g d="M455.13 519.64V520.8"/>
<path class=h d="M455.13 517.8V519.27"/>
<path class=i d="M455.13 516.27V518.19"/>
<path class=j d="M455.13 515.19V517.89"/>
<path class=a d="M456.45 542V544.85"/>
<path class=b d="M456.45 541.85V543.16"/>
<path class=c d="M456.45 535.58V541.16"/>
<path class=d d="M456.45 532.21V534.58"/>
<path class=e d="M456.45 528.99V531.21"/>
<path class=f d="M456.45 525.62V527.99"/>
<path class=g d="M456.45 523.62V524.63"/>
<path class=h d="M456.45 521.63V524.47"/>
<path class=i d="M456.45 521.47V523.56"/>
<path class=j d="M456.45 520.56V523.4"/>
<path class=k d="M456.45 520.4V523.25"/>
<path class=a d="M457.76 542V543.93"/>
<path class=b d="M457.76 540.02V541.93"/>
<path class=c d="M457.76 529.14V539.02"/>
<path class=d d="M457.76 522.25V528.14"/>
<path class=e d="M457.76 516.43V521.25"/>
<path class=f d="M457.76 511.53V515.43"/>
<path class=g d="M457.76 509.53V510.69"/>
<path class=h d="M457.76 506.93V508.69"/>
<path class=i d="M457.76 504.93V507.01"/>
<path class=a d="M459.08 542V544.85"/>
<path class=b d="M459.08 541.85V542.86"/>
<path class=c d="M459.08 532.82V540.86"/>
<path class=d d="M459.08 528.07V531.82"/>
<path class=e d="M459.08 521.48V527.07"/>
<path class=f d="M459.08 516.73V520.48"/>
<path class=g d="M459.08 514.73V516.05"/>
<path class=h d="M459.08 513.05V515.13"/>
<path class=i d="M459.08 512.13V514.37"/>
<path class=j d="M459.08 511.37V513.91"/>
<path class=a d="M460.4 542V544.39"/>
<path class=b d="M460.4 541.39V543.16"/>
<path class=c d="M460.4 532.51V541.16"/>
<path class=d d="M460.4 526.54V531.51"/>
<path class=e d="M460.4 519.65V525.54"/>
<path class=f d="M460.4 513.37V518.65"/>
<path class=g d="M460.4 509.84V512.37"/>
<path class=h d="M460.4 507.08V508.84"/>
<path class=i d="M460.4 505.08V507.32"/>
<path class=j d="M460.4 504.32V507.01"/>
<path class=k d="M460.4 504.01V506.86"/>
<path class=b d="M461.71 542V543.01"/>
<path class=c d="M461.71 536.8V541.01"/>
<path class=d d="M461.71 532.36V535.8"/>
<path class=e d="M461.71 527.92V531.36"/>
<path class=f d="M461.71 525.62V526.92"/>
<path class=g d="M461.71 523.47V524.62"/>
<path class=h d="M461.71 521.47V523.56"/>
<path class=i d="M461.71 520.56V522.64"/>
<path class=b d="M463.03 542V544.69"/>
<path class=c d="M463.03 539.56V542.69"/>
<path class=d d="M463.03 537.56V539.79"/>
<path class=e d="M463.03 536.79V538.11"/>
<path class=f d="M463.03 535.11V536.12"/>
<path class=g d="M463.03 533.12V534.58"/>
<path class=h d="M463.03 531.58V533.36"/>
<path class=i d="M463.03 530.36V533.21"/>
<path class=j d="M463.03 530.21V533.05"/>
<path class=a d="M464.35 542V544.54"/>
<path class=b d="M464.35 541.54V543.32"/>
<path class=c d="M464.35 536.65V541.32"/>
<path class=d d="M464.35 531.13V535.65"/>
<path class=e d="M464.35 527.15V530.13"/>
<path class=f d="M464.35 523.93V526.15"/>
<path class=g d="M464.35 521.18V522.93"/>
<path class=h d="M464.35 519.18V520.34"/>
<path class=i d="M464.35 517.34V520.03"/>
<path class=j d="M464.35 517.03V519.57"/>
<path class=a d="M465.67 542V544.69"/>
<path class=b d="M465.67 541.69V543.47"/>
<path class=c d="M465.67 536.65V541.47"/>
<path class=d d="M465.67 532.51V535.65"/>
<path class=e d="M465.67 526.23V531.51"/>
<path class=f d="M465.67 521.18V525.23"/>
<path class=g d="M465.67 519.18V520.8"/>
<path class=h d="M465.67 517.8V519.57"/>
<path class=i d="M465.67 516.57V518.81"/>
<path class=j d="M465.67 515.81V518.19"/>
<path class=k d="M465.67 515.19V517.89"/>
<path class=a d="M466.98 542V543.47"/>
<path class=b d="M466.98 539.71V541.47"/>
<path class=c d="M466.98 527.76V538.71"/>
<path class=d d="M466.98 519.8V526.76"/>
<path class=e d="M466.98 513.37V518.8"/>
<path class=f d="M466.98 507.24V512.37"/>
<path class=g d="M466.98 503.56V506.24"/>
<path class=h d="M466.98 501.56V503.18"/>
<path class=i d="M466.98 500.18V502.11"/>
<path class=j d="M466.98 499.11V501.65"/>
<path class=k d="M466.98 498.65V501.5"/>
<path class=a d="M468.3 542V544.39"/>
<path class=b d="M468.3 541.39V542.86"/>
<path class=c d="M468.3 533.74V540.86"/>
<path class=d d="M468.3 530.06V532.74"/>
<path class=e d="M468.3 524.39V529.06"/>
<path class=f d="M468.3 521.18V523.39"/>
<path class=g d="M468.3 519.03V520.18"/>
<path class=h d="M468.3 517.03V518.5"/>
<path class=i d="M468.3 515.5V516.97"/>
<path class=j d="M468.3 513.97V516.82"/>
<path class=a d="M469.62 542V544.23"/>
<path class=b d="M469.62 540.94V542.23"/>
<path class=c d="M469.62 531.13V539.94"/>
<path class=d d="M469.62 524.39V530.13"/>
<path class=e d="M469.62 518.42V523.39"/>
<path class=f d="M469.62 515.05V517.42"/>
<path class=g d="M469.62 512.45V514.05"/>
<path class=h d="M469.62 510V511.45"/>
<path class=i d="M469.62 508V509.77"/>
<path class=j d="M469.62 506.77V509"/>
<path class=a d="M470.93 542V544.69"/>
<path class=b d="M470.93 541.69V543.62"/>
<path class=c d="M470.93 537.72V541.62"/>
<path class=d d="M470.93 532.67V536.72"/>
<path class=e d="M470.93 528.68V531.67"/>
<path class=f d="M470.93 526.54V527.68"/>
<path class=g d="M470.93 524.54V526.31"/>
<path class=h d="M470.93 523.31V525.39"/>
<path class=i d="M470.93 522.39V524.93"/>
<path class=j d="M470.93 521.93V524.78"/>
<path class=b d="M472.25 542V543.77"/>
<path class=c d="M472.25 539.56V541.77"/>
<path class=d d="M472.25 536.65V538.56"/>
<path class=e d="M472.25 534.65V536.88"/>
<path class=f d="M472.25 533.88V535.81"/>
<path class=g d="M472.25 532.81V534.28"/>
<path class=h d="M472.25 531.28V533.97"/>
<path class=i d="M472.25 530.97V533.51"/>
<path class=j d="M472.25 530.51V533.05"/>
<path class=a d="M473.57 542V544.85"/>
<path class=b d="M473.57 541.85V542.86"/>
<path class=c d="M473.57 536.34V540.86"/>
<path class=d d="M473.57 531.9V535.34"/>
<path class=e d="M473.57 528.99V530.9"/>
<path class=f d="M473.57 525.77V527.99"/>
<path class=g d="M473.57 523.77V525.55"/>
<path class=h d="M473.57 522.55V524.47"/>
<path class=i d="M473.57 521.47V523.86"/>
<path class=j d="M473.57 520.86V523.71"/>
<path class=a d="M474.88 542V544.54"/>
<path class=b d="M474.88 541.54V543.62"/>
<path class=c d="M474.88 535.88V541.62"/>
<path class=d d="M474.88 531.9V534.88"/>
<path class=e d="M474.88 529.45V530.9"/>
<path class=f d="M474.88 525.62V528.45"/>
<path class=g d="M474.88 523.32V524.62"/>
<path class=h d="M474.88 521.32V523.1"/>
<path class=i d="M474.88 520.1V522.02"/>
<path class=a d="M476.2 542V544.54"/>
<path class=b d="M476.2 541.54V543.32"/>
<path class=c d="M476.2 534.66V541.32"/>
<path class=d d="M476.2 528.99V533.66"/>
<path class=e d="M476.2 525.47V527.99"/>
<path class=f d="M476.2 519.95V524.47"/>
<path class=g d="M476.2 517.95V519.42"/>
<path class=h d="M476.2 516.42V518.19"/>
<path class=i d="M476.2 515.19V516.97"/>
<path class=j d="M476.2 513.97V516.66"/>
<path class=a d="M477.52 542V544.54"/>
<path class=b d="M477.52 541.09V542.54"/>
<path class=c d="M477.52 533.89V540.09"/>
<path class=d d="M477.52 527.76V532.89"/>
<path class=e d="M477.52 523.32V526.76"/>
<path class=f d="M477.52 520.41V522.32"/>
<path class=g d="M477.52 517.81V519.41"/>
<path class=h d="M477.52 515.81V517.58"/>
<path class=i d="M477.52 514.58V516.82"/>
<path class=j d="M477.52 513.82V516.66"/>
<path class=k d="M477.52 513.66V516.51"/>
<path class=a d="M478.83 542V544.08"/>
<path class=b d="M478.83 541.08V542.09"/>
<path class=c d="M478.83 531.75V540.09"/>
<path class=d d="M478.83 526.08V530.75"/>
<path class=e d="M478.83 522.25V525.08"/>
<path class=f d="M478.83 518.27V521.25"/>
<path class=g d="M478.83 514.9V517.27"/>
<path class=h d="M478.83 512.9V515.44"/>
<path class=i d="M478.83 512.44V514.06"/>
<path class=j d="M478.83 511.06V513.91"/>
<path class=a d="M480.15 542V544.54"/>
<path class=b d="M480.15 541.54V543.47"/>
<path class=c d="M480.15 537.72V541.47"/>
<path class=d d="M480.15 535.72V536.73"/>
<path class=e d="M480.15 532.36V534.73"/>
<path class=f d="M480.15 530.36V531.37"/>
<path class=g d="M480.15 528.22V529.37"/>
<path class=h d="M480.15 526.22V527.54"/>
<path class=i d="M480.15 524.54V526.47"/>
<path class=j d="M480.15 523.47V526.01"/>
<path class=b d="M481.47 542V544.08"/>
<path class=c d="M481.47 539.25V542.08"/>
<path class=d d="M481.47 534.96V538.25"/>
<path class=e d="M481.47 532.96V533.97"/>
<path class=f d="M481.47 530.97V532.29"/>
<path class=g d="M481.47 529.29V530.91"/>
<path class=h d="M481.47 527.91V529.99"/>
<path class=i d="M481.47 526.99V529.68"/>
<path class=j d="M481.47 526.68V529.38"/>
<path class=a d="M482.78 542V544.85"/>
<path class=b d="M482.78 541.85V543.32"/>
<path class=c d="M482.78 535.73V541.32"/>
<path class=d d="M482.78 532.21V534.73"/>
<path class=e d="M482.78 528.38V531.21"/>
<path class=f d="M482.78 523.93V527.38"/>
<path class=g d="M482.78 521.93V524.17"/>
<path class=h d="M482.78 521.17V522.48"/>
<path class=i d="M482.78 519.48V521.72"/>
<path class=j d="M482.78 518.72V520.8"/>
<path class=a d="M484.1 542V544.85"/>
<path class=b d="M484.1 541.7V542.85"/>
<path class=c d="M484.1 535.12V540.7"/>
<path class=d d="M484.1 529.45V534.12"/>
<path class=e d="M484.1 525.93V528.45"/>
<path class=f d="M484.1 522.56V524.93"/>
<path class=g d="M484.1 519.8V521.56"/>
<path class=h d="M484.1 517.8V519.42"/>
<path class=i d="M484.1 516.42V518.96"/>
<path class=k d="M484.1 515.96V518.81"/>
<path class=a d="M485.42 542V544.69"/>
<path class=b d="M485.42 541.69V542.86"/>
<path class=c d="M485.42 532.82V540.86"/>
<path class=d d="M485.42 524.39V531.82"/>
<path class=e d="M485.42 519.65V523.39"/>
<path class=f d="M485.42 515.36V518.65"/>
<path class=g d="M485.42 513.36V514.52"/>
<path class=h d="M485.42 511.52V512.53"/>
<path class=i d="M485.42 509.53V511.15"/>
<path class=a d="M486.74 542V544.69"/>
<path class=b d="M486.74 540.78V542.69"/>
<path class=c d="M486.74 532.21V539.78"/>
<path class=d d="M486.74 525.93V531.21"/>
<path class=e d="M486.74 521.48V524.93"/>
<path class=f d="M486.74 517.65V520.48"/>
<path class=g d="M486.74 515.05V516.65"/>
<path class=h d="M486.74 513.05V514.52"/>
<path class=i d="M486.74 511.52V513.91"/>
<path class=j d="M486.74 510.91V513.75"/>
<path class=a d="M488.05 542V544.69"/>
<path class=b d="M488.05 541.4V542.69"/>
<path class=c d="M488.05 533.74V540.4"/>
<path class=d d="M488.05 527.76V532.74"/>
<path class=e d="M488.05 520.87V526.76"/>
<path class=f d="M488.05 515.82V519.87"/>
<path class=g d="M488.05 512.75V514.82"/>
<path class=h d="M488.05 510.75V513.14"/>
<path class=i d="M488.05 510.14V512.37"/>
<path class=j d="M488.05 509.37V512.07"/>
<path class=a d="M489.37 542V544.54"/>
<path class=b d="M489.37 541.54V543.62"/>
<path class=c d="M489.37 538.03V541.62"/>
<path class=d d="M489.37 534.04V537.03"/>
<path class=e d="M489.37 531.59V533.04"/>
<path class=f d="M489.37 529.59V530.91"/>
<path class=g d="M489.37 527.91V529.68"/>
<path class=h d="M489.37 526.68V528.46"/>
<path class=i d="M489.37 525.46V527.69"/>
<path class=j d="M489.37 524.69V527.23"/>
<path class=a d="M490.69 542V544.69"/>
<path class=b d="M490.69 541.69V543.93"/>
<path class=c d="M490.69 539.86V541.93"/>
<path class=d d="M490.69 537.26V538.86"/>
<path class=e d="M490.69 534.66V536.26"/>
<path class=f d="M490.69 532.36V533.66"/>
<path class=g d="M490.69 530.36V532.44"/>
<path class=h d="M490.69 529.44V532.29"/>
<path class=i d="M490.69 529.29V531.83"/>
<path class=j d="M490.69 528.83V531.67"/>
<path class=a d="M492 542V544.39"/>
<path class=b d="M492 541.09V542.39"/>
<path class=c d="M492 533.43V540.09"/>
<path class=d d="M492 526.38V532.43"/>
<path class=e d="M492 522.4V525.38"/>
<path class=f d="M492 517.5V521.4"/>
<path class=g d="M492 515.36V516.5"/>
<path class=h d="M492 513.36V514.37"/>
<path class=i d="M492 511.37V513.6"/>
<path class=j d="M492 510.6V512.99"/>
<path class=a d="M493.32 542V544.69"/>
<path class=b d="M493.32 541.69V543.32"/>
<path class=c d="M493.32 537.87V541.32"/>
<path class=d d="M493.32 533.89V536.87"/>
<path class=e d="M493.32 531.29V532.89"/>
<path class=f d="M493.32 528.38V530.29"/>
<path class=g d="M493.32 526.38V528.3"/>
<path class=h d="M493.32 525.3V527.38"/>
<path class=i d="M493.32 524.38V526.62"/>
<path class=j d="M493.32 523.62V526.31"/>
<path class=a d="M494.64 542V544.08"/>
<path class=b d="M494.64 541.08V542.55"/>
<path class=c d="M494.64 531.13V540.55"/>
<path class=d d="M494.64 521.94V530.13"/>
<path class=e d="M494.64 514.28V520.94"/>
<path class=f d="M494.64 509.84V513.28"/>
<path class=g d="M494.64 506.78V508.84"/>
<path class=h d="M494.64 504.48V505.78"/>
<path class=i d="M494.64 502.48V504.41"/>
<path class=j d="M494.64 501.41V503.8"/>
<path class=a d="M495.95 542V543.93"/>
<path class=b d="M495.95 540.63V541.93"/>
<path class=c d="M495.95 533.28V539.63"/>
<path class=d d="M495.95 524.09V532.28"/>
<path class=e d="M495.95 518.11V523.09"/>
<path class=f d="M495.95 512.91V517.11"/>
<path class=g d="M495.95 510.91V512.07"/>
<path class=h d="M495.95 508V510.07"/>
<path class=i d="M495.95 506V508.24"/>
<path class=j d="M495.95 505.24V507.93"/>
<path class=a d="M497.27 542V543.62"/>
<path class=b d="M497.27 539.71V541.62"/>
<path class=c d="M497.27 529.45V538.71"/>
<path class=d d="M497.27 521.48V528.45"/>
<path class=e d="M497.27 514.44V520.48"/>
<path class=f d="M497.27 508V513.44"/>
<path class=g d="M497.27 504.94V507"/>
<path class=h d="M497.27 501.26V503.94"/>
<path class=i d="M497.27 499.26V500.73"/>
<path class=j d="M497.27 497.73V500.12"/>
<path class=k d="M497.27 497.12V499.97"/>
<path class=a d="M498.59 542V544.39"/>
<path class=b d="M498.59 541.39V543.16"/>
<path class=c d="M498.59 535.73V541.16"/>
<path class=d d="M498.59 530.52V534.73"/>
<path class=e d="M498.59 525.77V529.52"/>
<path class=f d="M498.59 520.41V524.77"/>
<path class=g d="M498.59 517.81V519.41"/>
<path class=h d="M498.59 515.81V517.12"/>
<path class=i d="M498.59 514.12V516.2"/>
<path class=j d="M498.59 513.2V516.05"/>
<path class=b d="M499.9 542V543.32"/>
<path class=c d="M499.9 537.41V541.32"/>
<path class=d d="M499.9 531.9V536.41"/>
<path class=e d="M499.9 527.46V530.9"/>
<path class=f d="M499.9 524.39V526.46"/>
<path class=g d="M499.9 522.39V524.02"/>
<path class=h d="M499.9 521.02V522.64"/>
<path class=i d="M499.9 519.64V521.72"/>
<path class=j d="M499.9 518.72V520.95"/>
<path class=a d="M501.22 542V544.54"/>
<path class=b d="M501.22 540.32V542.54"/>
<path class=c d="M501.22 527.76V539.32"/>
<path class=d d="M501.22 519.95V526.76"/>
<path class=e d="M501.22 512.6V518.95"/>
<path class=f d="M501.22 506.93V511.6"/>
<path class=g d="M501.22 503.56V505.93"/>
<path class=h d="M501.22 500.96V502.56"/>
<path class=i d="M501.22 498.96V500.89"/>
<path class=j d="M501.22 497.89V500.27"/>
<path class=k d="M501.22 497.27V500.12"/>
<path class=a d="M502.54 542V544.23"/>
<path class=b d="M502.54 541.23V542.7"/>
<path class=c d="M502.54 531.75V540.7"/>
<path class=d d="M502.54 522.56V530.75"/>
<path class=e d="M502.54 514.9V521.56"/>
<path class=f d="M502.54 506.17V513.9"/>
<path class=g d="M502.54 501.42V505.17"/>
<path class=h d="M502.54 498.2V500.42"/>
<path class=i d="M502.54 496.2V497.98"/>
<path class=j d="M502.54 494.98V496.6"/>
<path class=k d="M502.54 493.6V496.44"/>
<path class=a d="M503.85 542V543.47"/>
<path class=b d="M503.85 539.25V541.47"/>
<path class=c d="M503.85 523.93V538.25"/>
<path class=d d="M503.85 512.14V522.93"/>
<path class=e d="M503.85 499.27V511.14"/>
<path class=f d="M503.85 492.38V498.27"/>
<path class=g d="M503.85 487.94V491.38"/>
<path class=h d="M503.85 485.49V486.94"/>
<path class=i d="M503.85 483.49V485.42"/>
<path class=j d="M503.85 482.42V484.8"/>
<path class=a d="M505.17 542V544.39"/>
<path class=b d="M505.17 540.63V542.39"/>
<path class=c d="M505.17 526.69V539.63"/>
<path class=d d="M505.17 517.96V525.69"/>
<path class=e d="M505.17 505.09V516.96"/>
<path class=f d="M505.17 497.74V504.09"/>
<path class=g d="M505.17 493.91V496.74"/>
<path class=h d="M505.17 490.39V492.91"/>
<path class=i d="M505.17 487.48V489.39"/>
<path class=j d="M505.17 485.48V487.71"/>
<path class=a d="M506.49 542V544.54"/>
<path class=b d="M506.49 539.25V542.54"/>
<path class=c d="M506.49 526.08V538.25"/>
<path class=d d="M506.49 512.6V525.08"/>
<path class=e d="M506.49 505.4V511.6"/>
<path class=f d="M506.49 498.81V504.4"/>
<path class=g d="M506.49 495.6V497.81"/>
<path class=h d="M506.49 491.77V494.6"/>
<path class=i d="M506.49 489.77V491.54"/>
<path class=j d="M506.49 488.54V491.24"/>
<path class=k d="M506.49 488.24V491.08"/>
<path class=a d="M507.81 542V544.23"/>
<path class=b d="M507.81 540.78V542.23"/>
<path class=c d="M507.81 532.51V539.78"/>
<path class=d d="M507.81 523.93V531.51"/>
<path class=e d="M507.81 517.81V522.93"/>
<path class=f d="M507.81 511.53V516.81"/>
<path class=g d="M507.81 508V510.53"/>
<path class=h d="M507.81 506V507.32"/>
<path class=i d="M507.81 504.32V506.25"/>
<path class=j d="M507.81 503.25V506.09"/>
<path class=k d="M507.81 503.09V505.94"/>
<path class=a d="M509.12 542V544.54"/>
<path class=b d="M509.12 541.54V543.01"/>
<path class=c d="M509.12 535.58V541.01"/>
<path class=d d="M509.12 530.98V534.58"/>
<path class=e d="M509.12 525.62V529.98"/>
<path class=f d="M509.12 521.94V524.62"/>
<path class=g d="M509.12 519.19V520.94"/>
<path class=h d="M509.12 517.19V518.65"/>
<path class=i d="M509.12 515.65V517.73"/>
<path class=j d="M509.12 514.73V517.43"/>
<path class=a d="M510.44 542V543.32"/>
<path class=b d="M510.44 539.56V541.32"/>
<path class=c d="M510.44 529.75V538.56"/>
<path class=d d="M510.44 519.8V528.75"/>
<path class=e d="M510.44 513.37V518.8"/>
<path class=f d="M510.44 505.25V512.37"/>
<path class=g d="M510.44 502.64V504.25"/>
<path class=h d="M510.44 500.64V501.65"/>
<path class=i d="M510.44 498.65V500.27"/>
<path class=j d="M510.44 497.27V499.35"/>
<path class=a d="M511.76 542V543.16"/>
<path class=b d="M511.76 537.87V541.16"/>
<path class=c d="M511.76 516.58V536.87"/>
<path class=d d="M511.76 504.63V515.58"/>
<path class=e d="M511.76 491.92V503.63"/>
<path class=f d="M511.76 480.74V490.92"/>
<path class=g d="M511.76 476.45V479.74"/>
<path class=h d="M511.76 472.93V475.45"/>
<path class=i d="M511.76 470.48V471.93"/>
<path class=j d="M511.76 468.48V470.86"/>
<path class=k d="M511.76 467.86V470.71"/>
<path class=a d="M513.07 541.7V543"/>
<path class=b d="M513.07 534.66V540.7"/>
<path class=c d="M513.07 513.67V533.66"/>
<path class=d d="M513.07 498.97V512.67"/>
<path class=e d="M513.07 490.08V497.97"/>
<path class=f d="M513.07 477.06V489.08"/>
<path class=g d="M513.07 470.94V476.06"/>
<path class=h d="M513.07 465.57V469.94"/>
<path class=i d="M513.07 463.57V464.74"/>
<path class=j d="M513.07 461.74V463.66"/>
<path class=a d="M514.39 541.55V543"/>
<path class=b d="M514.39 537.57V540.55"/>
<path class=c d="M514.39 516.89V536.57"/>
<path class=d d="M514.39 500.19V515.89"/>
<path class=e d="M514.39 487.94V499.19"/>
<path class=f d="M514.39 478.59V486.94"/>
<path class=g d="M514.39 472.93V477.59"/>
<path class=h d="M514.39 469.1V471.93"/>
<path class=i d="M514.39 465.12V468.1"/>
<path class=j d="M514.39 463.12V465.2"/>
<path class=k d="M514.39 462.2V465.04"/>
<path class=a d="M515.71 542V543.62"/>
<path class=b d="M515.71 538.64V541.62"/>
<path class=c d="M515.71 519.19V537.64"/>
<path class=d d="M515.71 502.8V518.19"/>
<path class=e d="M515.71 492.38V501.8"/>
<path class=f d="M515.71 478.29V491.38"/>
<path class=g d="M515.71 470.78V477.29"/>
<path class=h d="M515.71 464.96V469.78"/>
<path class=i d="M515.71 462.66V463.96"/>
<path class=j d="M515.71 460.66V462.59"/>
<path class=k d="M515.71 459.59V462.44"/>
<path class=a d="M517.02 542V543.77"/>
<path class=b d="M517.02 538.95V541.77"/>
<path class=c d="M517.02 524.7V537.95"/>
<path class=d d="M517.02 511.37V523.7"/>
<path class=e d="M517.02 503.56V510.37"/>
<path class=f d="M517.02 495.29V502.56"/>
<path class=g d="M517.02 491.77V494.29"/>
<path class=h d="M517.02 487.33V490.77"/>
<path class=i d="M517.02 485.03V486.33"/>
<path class=j d="M517.02 483.03V485.11"/>
<path class=a d="M518.34 542V544.54"/>
<path class=b d="M518.34 540.63V542.54"/>
<path class=c d="M518.34 527.76V539.63"/>
<path class=d d="M518.34 517.81V526.76"/>
<path class=e d="M518.34 511.53V516.81"/>
<path class=f d="M518.34 505.4V510.53"/>
<path class=g d="M518.34 502.03V504.4"/>
<path class=h d="M518.34 498.2V501.03"/>
<path class=i d="M518.34 496.2V497.52"/>
<path class=j d="M518.34 494.52V496.9"/>
<path class=a d="M519.66 542V544.69"/>
<path class=b d="M519.66 541.69V542.7"/>
<path class=c d="M519.66 535.88V540.7"/>
<path class=d d="M519.66 529.75V534.88"/>
<path class=e d="M519.66 525.47V528.75"/>
<path class=f d="M519.66 521.02V524.47"/>
<path class=g d="M519.66 518.88V520.02"/>
<path class=h d="M519.66 516.58V517.88"/>
<path class=i d="M519.66 514.58V516.66"/>
<path class=j d="M519.66 513.66V516.51"/>
<path class=a d="M520.97 542V543.62"/>
<path class=b d="M520.97 539.71V541.62"/>
<path class=c d="M520.97 525.16V538.71"/>
<path class=d d="M520.97 514.28V524.16"/>
<path class=e d="M520.97 503.26V513.28"/>
<path class=f d="M520.97 493.3V502.26"/>
<path class=g d="M520.97 488.86V492.3"/>
<path class=h d="M520.97 485.33V487.86"/>
<path class=i d="M520.97 483.33V484.96"/>
<path class=j d="M520.97 481.96V483.73"/>
<path class=k d="M520.97 480.73V483.58"/>
<path class=a d="M522.29 541.7V543"/>
<path class=b d="M522.29 538.64V540.7"/>
<path class=c d="M522.29 516.12V537.64"/>
<path class=d d="M522.29 502.34V515.12"/>
<path class=e d="M522.29 490.85V501.34"/>
<path class=f d="M522.29 480.43V489.85"/>
<path class=g d="M522.29 476.45V479.43"/>
<path class=h d="M522.29 473.39V475.45"/>
<path class=i d="M522.29 470.94V472.39"/>
<path class=j d="M522.29 468.94V471.63"/>
<path class=k d="M522.29 468.63V471.32"/>
<path class=a d="M523.61 542V544.08"/>
<path class=b d="M523.61 537.87V542.08"/>
<path class=c d="M523.61 515.51V536.87"/>
<path class=d d="M523.61 500.5V514.51"/>
<path class=e d="M523.61 484.72V499.5"/>
<path class=f d="M523.61 471.7V483.72"/>
<path class=g d="M523.61 466.8V470.7"/>
<path class=h d="M523.61 461.9V465.8"/>
<path class=i d="M523.61 458.83V460.9"/>
<path class=j d="M523.61 456.83V459.07"/>
<path class=a d="M524.92 542V543.01"/>
<path class=b d="M524.92 537.41V541.01"/>
<path class=c d="M524.92 512.75V536.41"/>
<path class=d d="M524.92 498.05V511.75"/>
<path class=e d="M524.92 482.42V497.05"/>
<path class=f d="M524.92 471.7V481.42"/>
<path class=g d="M524.92 466.49V470.7"/>
<path class=h d="M524.92 462.2V465.49"/>
<path class=i d="M524.92 459.91V461.2"/>
<path class=j d="M524.92 457.91V459.22"/>
<path class=k d="M524.92 456.22V459.07"/>
<path class=b d="M526.24 539.4V543"/>
<path class=c d="M526.24 518.42V538.4"/>
<path class=d d="M526.24 506.01V517.42"/>
<path class=e d="M526.24 498.51V505.01"/>
<path class=f d="M526.24 490.85V497.51"/>
<path class=g d="M526.24 486.1V489.85"/>
<path class=h d="M526.24 483.19V485.1"/>
<path class=i d="M526.24 481.19V482.2"/>
<path class=j d="M526.24 479.2V481.13"/>
<path class=k d="M526.24 478.13V480.97"/>
<path class=a d="M527.56 542V544.08"/>
<path class=b d="M527.56 539.4V542.08"/>
<path class=c d="M527.56 528.07V538.4"/>
<path class=d d="M527.56 521.02V527.07"/>
<path class=e d="M527.56 513.52V520.02"/>
<path class=f d="M527.56 505.71V512.52"/>
<path class=g d="M527.56 502.34V504.71"/>
<path class=h d="M527.56 499.27V501.34"/>
<path class=i d="M527.56 497.27V498.59"/>
<path class=j d="M527.56 495.59V497.52"/>
<path class=k d="M527.56 494.52V497.36"/>
<path class=a d="M528.88 542V543.32"/>
<path class=b d="M528.88 538.95V541.32"/>
<path class=c d="M528.88 525.77V537.95"/>
<path class=d d="M528.88 517.65V524.77"/>
<path class=e d="M528.88 508.92V516.65"/>
<path class=f d="M528.88 497.28V507.92"/>
<path class=g d="M528.88 494.07V496.28"/>
<path class=h d="M528.88 490.39V493.07"/>
<path class=i d="M528.88 488.24V489.39"/>
<path class=j d="M528.88 486.24V488.02"/>
<path class=a d="M530.19 542V543.16"/>
<path class=b d="M530.19 537.41V541.16"/>
<path class=c d="M530.19 517.35V536.41"/>
<path class=d d="M530.19 501.11V516.35"/>
<path class=e d="M530.19 488.09V500.11"/>
<path class=f d="M530.19 477.98V487.09"/>
<path class=g d="M530.19 474V476.98"/>
<path class=h d="M530.19 470.17V473"/>
<path class=i d="M530.19 468.17V470.1"/>
<path class=j d="M530.19 467.1V468.57"/>
<path class=k d="M530.19 465.57V468.41"/>
<path class=a d="M531.51 541.7V543"/>
<path class=b d="M531.51 537.87V540.7"/>
<path class=c d="M531.51 509.84V536.87"/>
<path class=d d="M531.51 497.89V508.84"/>
<path class=e d="M531.51 487.33V496.89"/>
<path class=f d="M531.51 473.23V486.33"/>
<path class=g d="M531.51 468.33V472.23"/>
<path class=h d="M531.51 464.35V467.33"/>
<path class=i d="M531.51 462.35V463.82"/>
<path class=j d="M531.51 460.82V463.36"/>
<path class=a d="M532.83 542V543.93"/>
<path class=b d="M532.83 538.49V541.93"/>
<path class=c d="M532.83 524.85V537.49"/>
<path class=d d="M532.83 513.06V523.85"/>
<path class=e d="M532.83 498.97V512.06"/>
<path class=f d="M532.83 485.95V497.97"/>
<path class=g d="M532.83 482.27V484.95"/>
<path class=h d="M532.83 478.9V481.27"/>
<path class=i d="M532.83 476.6V477.9"/>
<path class=j d="M532.83 474.6V476.22"/>
<path class=a d="M534.14 542V543.16"/>
<path class=b d="M534.14 538.64V541.16"/>
<path class=c d="M534.14 515.82V537.64"/>
<path class=d d="M534.14 500.19V514.82"/>
<path class=e d="M534.14 484.87V499.19"/>
<path class=f d="M534.14 469.25V483.87"/>
<path class=g d="M534.14 463.12V468.25"/>
<path class=h d="M534.14 458.68V462.12"/>
<path class=i d="M534.14 456.08V457.68"/>
<path class=j d="M534.14 454.08V455.55"/>
<path class=a d="M535.46 542V544.39"/>
<path class=b d="M535.46 539.71V542.39"/>
<path class=c d="M535.46 526.84V538.71"/>
<path class=d d="M535.46 520.56V525.84"/>
<path class=e d="M535.46 510.45V519.56"/>
<path class=f d="M535.46 502.8V509.45"/>
<path class=g d="M535.46 499.12V501.8"/>
<path class=h d="M535.46 496.36V498.12"/>
<path class=i d="M535.46 494.36V496.14"/>
<path class=j d="M535.46 493.14V495.07"/>
<path class=k d="M535.46 492.07V494.91"/>
<path class=a d="M536.78 542V544.54"/>
<path class=b d="M536.78 541.24V542.54"/>
<path class=c d="M536.78 530.83V540.24"/>
<path class=d d="M536.78 519.8V529.83"/>
<path class=e d="M536.78 512.14V518.8"/>
<path class=f d="M536.78 506.78V511.14"/>
<path class=g d="M536.78 502.95V505.78"/>
<path class=h d="M536.78 500.95V502.26"/>
<path class=i d="M536.78 498.97V500.26"/>
<path class=j d="M536.78 496.97V499.2"/>
<path class=a d="M538.09 542V543.93"/>
<path class=b d="M538.09 537.41V541.93"/>
<path class=c d="M538.09 525.47V536.41"/>
<path class=d d="M538.09 515.36V524.47"/>
<path class=e d="M538.09 504.17V514.36"/>
<path class=f d="M538.09 497.59V503.17"/>
<path class=g d="M538.09 494.22V496.59"/>
<path class=h d="M538.09 492.22V493.23"/>
<path class=i d="M538.09 490.23V491.39"/>
<path class=j d="M538.09 488.39V491.08"/>
<path class=a d="M539.41 542V543.47"/>
<path class=b d="M539.41 536.03V541.47"/>
<path class=c d="M539.41 515.51V535.03"/>
<path class=d d="M539.41 500.96V514.51"/>
<path class=e d="M539.41 487.33V499.96"/>
<path class=f d="M539.41 472.62V486.33"/>
<path class=g d="M539.41 466.49V471.62"/>
<path class=h d="M539.41 460.67V465.49"/>
<path class=i d="M539.41 457.76V459.67"/>
<path class=j d="M539.41 455.76V457.54"/>
<path class=k d="M539.41 454.54V457.38"/>
<path class=a d="M540.73 541.4V543"/>
<path class=b d="M540.73 537.57V540.4"/>
<path class=c d="M540.73 518.57V536.57"/>
<path class=d d="M540.73 501.88V517.57"/>
<path class=e d="M540.73 487.17V500.88"/>
<path class=f d="M540.73 470.48V486.17"/>
<path class=g d="M540.73 462.51V469.48"/>
<path class=h d="M540.73 456.23V461.51"/>
<path class=i d="M540.73 453.17V455.23"/>
<path class=j d="M540.73 451.17V452.79"/>
<path class=a d="M542.04 541.7V543"/>
<path class=b d="M542.04 535.58V540.7"/>
<path class=c d="M542.04 509.84V534.58"/>
<path class=d d="M542.04 492.23V508.84"/>
<path class=e d="M542.04 477.83V491.23"/>
<path class=f d="M542.04 464.81V476.83"/>
<path class=g d="M542.04 459.45V463.81"/>
<path class=h d="M542.04 456.38V458.45"/>
<path class=i d="M542.04 454.09V455.38"/>
<path class=j d="M542.04 452.09V453.86"/>
<path class=a d="M543.36 542V543.01"/>
<path class=b d="M543.36 534.66V541.01"/>
<path class=c d="M543.36 508.92V533.66"/>
<path class=d d="M543.36 491.92V507.92"/>
<path class=e d="M543.36 475.84V490.92"/>
<path class=f d="M543.36 465.73V474.84"/>
<path class=g d="M543.36 459.91V464.73"/>
<path class=h d="M543.36 453.78V458.91"/>
<path class=i d="M543.36 450.1V452.78"/>
<path class=j d="M543.36 448.1V449.88"/>
<path class=a d="M544.68 542V543.01"/>
<path class=b d="M544.68 537.57V541.01"/>
<path class=c d="M544.68 517.35V536.57"/>
<path class=d d="M544.68 504.02V516.35"/>
<path class=e d="M544.68 492.99V503.02"/>
<path class=f d="M544.68 482.58V491.99"/>
<path class=g d="M544.68 476.91V481.58"/>
<path class=h d="M544.68 474.46V475.91"/>
<path class=i d="M544.68 471.24V473.46"/>
<path class=j d="M544.68 469.24V471.48"/>
<path class=a d="M545.99 542V544.54"/>
<path class=b d="M545.99 540.94V542.54"/>
<path class=c d="M545.99 527V539.94"/>
<path class=d d="M545.99 519.03V526"/>
<path class=e d="M545.99 510.91V518.03"/>
<path class=f d="M545.99 503.41V509.91"/>
<path class=g d="M545.99 500.96V502.41"/>
<path class=h d="M545.99 498.96V501.04"/>
<path class=i d="M545.99 498.04V499.66"/>
<path class=j d="M545.99 496.66V498.28"/>
<path class=a d="M547.31 542V543.01"/>
<path class=b d="M547.31 535.88V541.01"/>
<path class=c d="M547.31 518.27V534.88"/>
<path class=d d="M547.31 504.48V517.27"/>
<path class=e d="M547.31 494.68V503.48"/>
<path class=f d="M547.31 486.41V493.68"/>
<path class=g d="M547.31 480.13V485.41"/>
<path class=h d="M547.31 476.91V479.13"/>
<path class=i d="M547.31 474.61V475.91"/>
<path class=j d="M547.31 472.61V474.54"/>
<path class=a d="M548.63 542V543.16"/>
<path class=b d="M548.63 536.65V541.16"/>
<path class=c d="M548.63 512.75V535.65"/>
<path class=d d="M548.63 493.76V511.75"/>
<path class=e d="M548.63 475.22V492.76"/>
<path class=f d="M548.63 458.99V474.22"/>
<path class=g d="M548.63 450.56V457.99"/>
<path class=h d="M548.63 443.82V449.56"/>
<path class=i d="M548.63 441.82V442.83"/>
<path class=j d="M548.63 439.83V441.15"/>
<path class=a d="M549.95 541.7V543"/>
<path class=b d="M549.95 532.82V540.7"/>
<path class=c d="M549.95 502.64V531.82"/>
<path class=d d="M549.95 475.53V501.64"/>
<path class=e d="M549.95 453.17V474.53"/>
<path class=f d="M549.95 439.08V452.17"/>
<path class=g d="M549.95 429.73V438.08"/>
<path class=h d="M549.95 423.3V428.73"/>
<path class=i d="M549.95 419.78V422.3"/>
<path class=j d="M549.95 417.78V419.4"/>
<path class=k d="M549.95 416.4V419.24"/>
<path class=a d="M551.26 542V543.16"/>
<path class=b d="M551.26 535.88V541.16"/>
<path class=c d="M551.26 509.08V534.88"/>
<path class=d d="M551.26 490.39V508.08"/>
<path class=e d="M551.26 474.31V489.39"/>
<path class=f d="M551.26 459.75V473.31"/>
<path class=g d="M551.26 452.86V458.75"/>
<path class=h d="M551.26 446.12V451.86"/>
<path class=i d="M551.26 443.06V445.12"/>
<path class=j d="M551.26 441.06V443.29"/>
<path class=a d="M552.58 542V543.16"/>
<path class=b d="M552.58 535.73V541.16"/>
<path class=c d="M552.58 508V534.73"/>
<path class=d d="M552.58 485.33V507"/>
<path class=e d="M552.58 469.71V484.33"/>
<path class=f d="M552.58 449.18V468.71"/>
<path class=g d="M552.58 440.76V448.18"/>
<path class=h d="M552.58 434.63V439.76"/>
<path class=i d="M552.58 432.49V433.63"/>
<path class=j d="M552.58 430.49V432.57"/>
<path class=k d="M552.58 429.57V432.26"/>
<path class=a d="M553.9 542V543.62"/>
<path class=b d="M553.9 538.33V541.62"/>
<path class=c d="M553.9 520.87V537.33"/>
<path class=d d="M553.9 501.88V519.87"/>
<path class=e d="M553.9 483.8V500.88"/>
<path class=f d="M553.9 471.7V482.8"/>
<path class=g d="M553.9 467.57V470.7"/>
<path class=h d="M553.9 462.51V466.57"/>
<path class=i d="M553.9 460.06V461.51"/>
<path class=j d="M553.9 458.06V459.99"/>
<path class=k d="M553.9 456.99V459.83"/>
<path class=a d="M555.21 542V543.77"/>
<path class=b d="M555.21 539.4V541.77"/>
<path class=c d="M555.21 525.93V538.4"/>
<path class=d d="M555.21 514.59V524.93"/>
<path class=e d="M555.21 505.86V513.59"/>
<path class=f d="M555.21 495.14V504.86"/>
<path class=g d="M555.21 490.08V494.14"/>
<path class=h d="M555.21 486.71V489.08"/>
<path class=i d="M555.21 484.42V485.71"/>
<path class=j d="M555.21 482.42V485.11"/>
<path class=k d="M555.21 482.11V484.96"/>
<path class=a d="M556.53 542V544.39"/>
<path class=b d="M556.53 537.87V542.39"/>
<path class=c d="M556.53 511.99V536.87"/>
<path class=d d="M556.53 494.37V510.99"/>
<path class=e d="M556.53 480.89V493.37"/>
<path class=f d="M556.53 469.86V479.89"/>
<path class=g d="M556.53 466.03V468.86"/>
<path class=h d="M556.53 460.21V465.03"/>
<path class=i d="M556.53 458.21V459.83"/>
<path class=j d="M556.53 456.83V458.76"/>
<path class=a d="M557.85 540.32V543"/>
<path class=b d="M557.85 532.82V539.32"/>
<path class=c d="M557.85 500.96V531.82"/>
<path class=d d="M557.85 481.66V499.96"/>
<path class=e d="M557.85 460.06V480.66"/>
<path class=f d="M557.85 445.97V459.06"/>
<path class=g d="M557.85 438.46V444.97"/>
<path class=h d="M557.85 434.17V437.46"/>
<path class=i d="M557.85 430.04V433.17"/>
<path class=j d="M557.85 428.04V430.58"/>
<path class=k d="M557.85 427.58V430.43"/>
<path class=a d="M559.16 541.55V543"/>
<path class=b d="M559.16 531.13V540.55"/>
<path class=c d="M559.16 497.28V530.13"/>
<path class=d d="M559.16 468.94V496.28"/>
<path class=e d="M559.16 448.88V467.94"/>
<path class=f d="M559.16 432.34V447.88"/>
<path class=g d="M559.16 424.06V431.34"/>
<path class=h d="M559.16 415.03V423.06"/>
<path class=i d="M559.16 410.13V414.03"/>
<path class=j d="M559.16 408.13V409.29"/>
<path class=k d="M559.16 406.29V408.98"/>
<path class=a d="M560.48 540.94V543"/>
<path class=b d="M560.48 530.83V539.94"/>
<path class=c d="M560.48 496.21V529.83"/>
<path class=d d="M560.48 470.02V495.21"/>
<path class=e d="M560.48 449.64V469.02"/>
<path class=f d="M560.48 429.58V448.64"/>
<path class=g d="M560.48 421.46V428.58"/>
<path class=h d="M560.48 414.72V420.46"/>
<path class=i d="M560.48 410.43V413.72"/>
<path class=j d="M560.48 408.43V409.59"/>
<path class=a d="M561.8 539.56V543"/>
<path class=b d="M561.8 532.36V538.56"/>
<path class=c d="M561.8 487.17V531.36"/>
<path class=d d="M561.8 459.45V486.17"/>
<path class=e d="M561.8 439.69V458.45"/>
<path class=f d="M561.8 421.15V438.69"/>
<path class=g d="M561.8 410.74V420.15"/>
<path class=h d="M561.8 403.23V409.74"/>
<path class=i d="M561.8 400.17V402.23"/>
<path class=j d="M561.8 398.17V399.64"/>
<path class=a d="M563.11 542V544.23"/>
<path class=b d="M563.11 538.18V542.23"/>
<path class=c d="M563.11 509.08V537.18"/>
<path class=d d="M563.11 488.4V508.08"/>
<path class=e d="M563.11 469.86V487.4"/>
<path class=f d="M563.11 454.09V468.86"/>
<path class=g d="M563.11 445.97V453.09"/>
<path class=h d="M563.11 439.69V444.97"/>
<path class=i d="M563.11 436.32V438.69"/>
<path class=j d="M563.11 434.32V436.55"/>
<path class=a d="M564.43 542V544.39"/>
<path class=b d="M564.43 537.72V542.39"/>
<path class=c d="M564.43 515.97V536.72"/>
<path class=d d="M564.43 501.11V514.97"/>
<path class=e d="M564.43 491.77V500.11"/>
<path class=f d="M564.43 481.81V490.77"/>
<path class=g d="M564.43 477.68V480.81"/>
<path class=h d="M564.43 473.39V476.68"/>
<path class=i d="M564.43 470.94V472.39"/>
<path class=j d="M564.43 468.94V471.32"/>
<path class=a d="M565.75 541.09V543"/>
<path class=b d="M565.75 533.89V540.09"/>
<path class=c d="M565.75 493.3V532.89"/>
<path class=d d="M565.75 473.54V492.3"/>
<path class=e d="M565.75 452.4V472.54"/>
<path class=f d="M565.75 431.72V451.4"/>
<path class=g d="M565.75 422.53V430.72"/>
<path class=h d="M565.75 417.78V421.53"/>
<path class=i d="M565.75 413.65V416.78"/>
<path class=j d="M565.75 411.65V414.19"/>
<path class=k d="M565.75 411.19V413.88"/>
<path class=a d="M567.06 541.09V543"/>
<path class=b d="M567.06 529.45V540.09"/>
<path class=c d="M567.06 494.68V528.45"/>
<path class=d d="M567.06 463.12V493.68"/>
<path class=e d="M567.06 440.61V462.12"/>
<path class=f d="M567.06 422.23V439.61"/>
<path class=g d="M567.06 411.5V421.23"/>
<path class=h d="M567.06 405.53V410.5"/>
<path class=i d="M567.06 401.09V404.53"/>
<path class=j d="M567.06 399.09V400.4"/>
<path class=a d="M568.38 539.86V543"/>
<path class=b d="M568.38 528.07V538.86"/>
<path class=c d="M568.38 473.54V527.07"/>
<path class=d d="M568.38 431.26V472.54"/>
<path class=e d="M568.38 390.67V430.26"/>
<path class=f d="M568.38 362.49V389.67"/>
<path class=g d="M568.38 353.14V361.49"/>
<path class=h d="M568.38 343.65V352.14"/>
<path class=i d="M568.38 338.9V342.65"/>
<path class=j d="M568.38 336.75V337.9"/>
<path class=a d="M569.7 541.55V543"/>
<path class=b d="M569.7 534.66V540.55"/>
<path class=c d="M569.7 500.96V533.66"/>
<path class=d d="M569.7 475.68V499.96"/>
<path class=e d="M569.7 456.23V474.68"/>
<path class=f d="M569.7 442.9V455.23"/>
<path class=g d="M569.7 435.4V441.9"/>
<path class=h d="M569.7 429.12V434.4"/>
<path class=i d="M569.7 424.68V428.12"/>
<path class=j d="M569.7 422.68V425.22"/>
<path class=k d="M569.7 422.22V425.06"/>
<path class=a d="M571.02 540.63V543"/>
<path class=b d="M571.02 533.28V539.63"/>
<path class=c d="M571.02 500.65V532.28"/>
<path class=d d="M571.02 474.92V499.65"/>
<path class=e d="M571.02 457.92V473.92"/>
<path class=f d="M571.02 438.77V456.92"/>
<path class=g d="M571.02 429.88V437.77"/>
<path class=h d="M571.02 424.06V428.88"/>
<path class=i d="M571.02 419.93V423.06"/>
<path class=j d="M571.02 417.93V420.47"/>
<path class=k d="M571.02 417.47V420.32"/>
<path class=a d="M572.33 541.86V543"/>
<path class=b d="M572.33 536.19V540.86"/>
<path class=c d="M572.33 503.72V535.19"/>
<path class=d d="M572.33 475.38V502.72"/>
<path class=e d="M572.33 451.79V474.38"/>
<path class=f d="M572.33 438.16V450.79"/>
<path class=g d="M572.33 429.88V437.16"/>
<path class=h d="M572.33 422.38V428.88"/>
<path class=i d="M572.33 419.16V421.38"/>
<path class=j d="M572.33 417.16V418.48"/>
<path class=a d="M573.65 541.24V543"/>
<path class=b d="M573.65 534.35V540.24"/>
<path class=c d="M573.65 503.41V533.35"/>
<path class=d d="M573.65 479.82V502.41"/>
<path class=e d="M573.65 455.92V478.82"/>
<path class=f d="M573.65 429.58V454.92"/>
<path class=g d="M573.65 420.23V428.58"/>
<path class=h d="M573.65 411.2V419.23"/>
<path class=i d="M573.65 407.06V410.2"/>
<path class=j d="M573.65 405.06V406.53"/>
<path class=k d="M573.65 403.53V406.38"/>
<path class=a d="M574.97 541.7V543"/>
<path class=b d="M574.97 531.9V540.7"/>
<path class=c d="M574.97 472.77V530.9"/>
<path class=d d="M574.97 436.47V471.77"/>
<path class=e d="M574.97 409.82V435.47"/>
<path class=f d="M574.97 374.74V408.82"/>
<path class=g d="M574.97 361.57V373.74"/>
<path class=h d="M574.97 350.39V360.57"/>
<path class=i d="M574.97 344.11V349.39"/>
<path class=j d="M574.97 342.11V343.58"/>
<path class=a d="M576.28 536.95V543"/>
<path class=b d="M576.28 523.63V535.95"/>
<path class=c d="M576.28 463.43V522.63"/>
<path class=d d="M576.28 421V462.43"/>
<path class=e d="M576.28 376.73V420"/>
<path class=f d="M576.28 334.92V375.73"/>
<path class=g d="M576.28 318.99V333.92"/>
<path class=h d="M576.28 305.66V317.99"/>
<path class=i d="M576.28 295.7V304.66"/>
<path class=j d="M576.28 292.95V294.7"/>
<path class=k d="M576.28 290.95V293.79"/>
<path class=a d="M577.6 535.42V543"/>
<path class=b d="M577.6 509.84V534.42"/>
<path class=c d="M577.6 422.38V508.84"/>
<path class=d d="M577.6 339.67V421.38"/>
<path class=e d="M577.6 271.04V338.67"/>
<path class=f d="M577.6 214.98V270.04"/>
<path class=g d="M577.6 192.62V213.98"/>
<path class=h d="M577.6 173.01V191.62"/>
<path class=i d="M577.6 162.6V172.01"/>
<path class=j d="M577.6 158.15V161.6"/>
<path class=k d="M577.6 156.15V159"/>
<path class=a d="M578.92 537.41V543"/>
<path class=b d="M578.92 515.05V536.41"/>
<path class=c d="M578.92 424.22V514.05"/>
<path class=d d="M578.92 337.52V423.22"/>
<path class=e d="M578.92 276.1V336.52"/>
<path class=f d="M578.92 222.49V275.1"/>
<path class=g d="M578.92 202.27V221.49"/>
<path class=h d="M578.92 183.89V201.27"/>
<path class=i d="M578.92 171.94V182.89"/>
<path class=j d="M578.92 168.11V170.94"/>
<path class=k d="M578.92 166.11V168.34"/>
<path class=a d="M580.23 536.49V543"/>
<path class=b d="M580.23 517.65V535.49"/>
<path class=c d="M580.23 434.02V516.65"/>
<path class=d d="M580.23 347.48V433.02"/>
<path class=e d="M580.23 293.25V346.48"/>
<path class=f d="M580.23 246.69V292.25"/>
<path class=g d="M580.23 225.55V245.69"/>
<path class=h d="M580.23 202.42V224.55"/>
<path class=i d="M580.23 190.93V201.42"/>
<path class=j d="M580.23 187.41V189.93"/>
<path class=k d="M580.23 185.41V187.95"/>
<path class=l d="M580.23 184.95V187.8"/>
<path class=a d="M581.55 538.79V543"/>
<path class=b d="M581.55 524.85V537.79"/>
<path class=c d="M581.55 461.75V523.85"/>
<path class=d d="M581.55 417.02V460.75"/>
<path class=e d="M581.55 380.26V416.02"/>
<path class=f d="M581.55 352.07V379.26"/>
<path class=g d="M581.55 335.68V351.07"/>
<path class=h d="M581.55 323.12V334.68"/>
<path class=i d="M581.55 316.84V322.12"/>
<path class=j d="M581.55 313.01V315.84"/>
<path class=k d="M581.55 311.01V313.55"/>
<path class=a d="M582.87 540.78V543"/>
<path class=b d="M582.87 530.83V539.78"/>
<path class=c d="M582.87 483.96V529.83"/>
<path class=d d="M582.87 442.45V482.96"/>
<path class=e d="M582.87 409.82V441.45"/>
<path class=f d="M582.87 384.85V408.82"/>
<path class=g d="M582.87 368.46V383.85"/>
<path class=h d="M582.87 359.88V367.46"/>
<path class=i d="M582.87 354.37V358.88"/>
<path class=j d="M582.87 352.37V353.38"/>
<path class=k d="M582.87 350.38V353.23"/>
<path class=a d="M584.18 541.24V543"/>
<path class=b d="M584.18 530.83V540.24"/>
<path class=c d="M584.18 498.81V529.83"/>
<path class=d d="M584.18 467.41V497.81"/>
<path class=e d="M584.18 444.28V466.41"/>
<path class=f d="M584.18 416.25V443.28"/>
<path class=g d="M584.18 404.92V415.25"/>
<path class=h d="M584.18 394.5V403.92"/>
<path class=i d="M584.18 388.68V393.5"/>
<path class=j d="M584.18 386.68V388.15"/>
<path class=k d="M584.18 385.15V388"/>
<path class=a d="M585.5 540.48V543"/>
<path class=b d="M585.5 526.54V539.48"/>
<path class=c d="M585.5 471.4V525.54"/>
<path class=d d="M585.5 418.55V470.4"/>
<path class=e d="M585.5 387.46V417.55"/>
<path class=f d="M585.5 354.83V386.46"/>
<path class=g d="M585.5 337.98V353.83"/>
<path class=h d="M585.5 329.25V336.98"/>
<path class=i d="M585.5 320.21V328.25"/>
<path class=j d="M585.5 317.61V319.21"/>
<path class=k d="M585.5 315.61V318.3"/>
<path class=a d="M586.82 539.1V543"/>
<path class=b d="M586.82 524.39V538.1"/>
<path class=c d="M586.82 466.34V523.39"/>
<path class=d d="M586.82 415.18V465.34"/>
<path class=e d="M586.82 390.52V414.18"/>
<path class=f d="M586.82 352.84V389.52"/>
<path class=g d="M586.82 333.54V351.84"/>
<path class=h d="M586.82 318.53V332.54"/>
<path class=i d="M586.82 309.95V317.53"/>
<path class=j d="M586.82 306.43V308.95"/>
<path class=k d="M586.82 304.43V307.27"/>
<path class=a d="M588.13 536.95V543"/>
<path class=b d="M588.13 523.17V535.95"/>
<path class=c d="M588.13 424.06V522.17"/>
<path class=d d="M588.13 372.14V423.06"/>
<path class=e d="M588.13 324.81V371.14"/>
<path class=f d="M588.13 288.66V323.81"/>
<path class=g d="M588.13 264V287.66"/>
<path class=h d="M588.13 249.75V263"/>
<path class=i d="M588.13 234.59V248.75"/>
<path class=j d="M588.13 231.22V233.59"/>
<path class=k d="M588.13 229.22V231.91"/>
<path class=a d="M589.45 538.03V543"/>
<path class=b d="M589.45 522.1V537.03"/>
<path class=c d="M589.45 452.1V521.1"/>
<path class=d d="M589.45 406.3V451.1"/>
<path class=e d="M589.45 364.79V405.3"/>
<path class=f d="M589.45 317.61V363.79"/>
<path class=g d="M589.45 294.02V316.61"/>
<path class=h d="M589.45 280.08V293.02"/>
<path class=i d="M589.45 268.13V279.08"/>
<path class=j d="M589.45 262.77V267.13"/>
<path class=k d="M589.45 260.77V263.31"/>
<path class=a d="M590.77 538.33V543"/>
<path class=b d="M590.77 527.76V537.33"/>
<path class=c d="M590.77 465.42V526.76"/>
<path class=d d="M590.77 422.99V464.42"/>
<path class=e d="M590.77 383.01V421.99"/>
<path class=f d="M590.77 349.01V382.01"/>
<path class=g d="M590.77 326.49V348.01"/>
<path class=h d="M590.77 313.32V325.49"/>
<path class=i d="M590.77 305.2V312.32"/>
<path class=j d="M590.77 300.15V304.2"/>
<path class=k d="M590.77 298.15V300.69"/>
<path class=a d="M592.09 540.02V543"/>
<path class=b d="M592.09 530.98V539.02"/>
<path class=c d="M592.09 484.11V529.98"/>
<path class=d d="M592.09 450.1V483.11"/>
<path class=e d="M592.09 416.1V449.1"/>
<path class=f d="M592.09 392.51V415.1"/>
<path class=g d="M592.09 378.27V391.51"/>
<path class=h d="M592.09 368.46V377.27"/>
<path class=i d="M592.09 360.04V367.46"/>
<path class=j d="M592.09 357.13V359.04"/>
<path class=a d="M593.4 539.86V543"/>
<path class=b d="M593.4 528.07V538.86"/>
<path class=c d="M593.4 485.33V527.07"/>
<path class=d d="M593.4 445.82V484.33"/>
<path class=e d="M593.4 417.78V444.82"/>
<path class=f d="M593.4 388.68V416.78"/>
<path class=g d="M593.4 373.36V387.68"/>
<path class=h d="M593.4 362.95V372.36"/>
<path class=i d="M593.4 355.6V361.95"/>
<path class=j d="M593.4 352.07V354.6"/>
<path class=a d="M594.72 538.64V543"/>
<path class=b d="M594.72 529.3V537.64"/>
<path class=c d="M594.72 478.13V528.3"/>
<path class=d d="M594.72 445.97V477.13"/>
<path class=e d="M594.72 415.64V444.97"/>
<path class=f d="M594.72 386.23V414.64"/>
<path class=g d="M594.72 370.45V385.23"/>
<path class=h d="M594.72 362.03V369.45"/>
<path class=i d="M594.72 351.92V361.03"/>
<path class=j d="M594.72 347.63V350.92"/>
<path class=k d="M594.72 345.63V348.48"/>
<path class=a d="M596.04 538.33V543"/>
<path class=b d="M596.04 524.55V537.33"/>
<path class=c d="M596.04 456.84V523.55"/>
<path class=d d="M596.04 420.23V455.84"/>
<path class=e d="M596.04 387.3V419.23"/>
<path class=f d="M596.04 360.96V386.3"/>
<path class=g d="M596.04 346.25V359.96"/>
<path class=h d="M596.04 330.63V345.25"/>
<path class=i d="M596.04 319.91V329.63"/>
<path class=j d="M596.04 316.84V318.91"/>
<path class=k d="M596.04 314.84V317.54"/>
<path class=a d="M597.35 540.32V543"/>
<path class=b d="M597.35 528.68V539.32"/>
<path class=c d="M597.35 496.06V527.68"/>
<path class=d d="M597.35 464.35V495.06"/>
<path class=e d="M597.35 430.04V463.35"/>
<path class=f d="M597.35 398.79V429.04"/>
<path class=g d="M597.35 383.93V397.79"/>
<path class=h d="M597.35 373.98V382.93"/>
<path class=i d="M597.35 366.32V372.98"/>
<path class=j d="M597.35 362.95V365.32"/>
<path class=k d="M597.35 360.95V363.64"/>
<path class=a d="M598.67 539.25V543"/>
<path class=b d="M598.67 531.13V538.25"/>
<path class=c d="M598.67 501.57V530.13"/>
<path class=d d="M598.67 470.94V500.57"/>
<path class=e d="M598.67 440.3V469.94"/>
<path class=f d="M598.67 411.5V439.3"/>
<path class=g d="M598.67 399.1V410.5"/>
<path class=h d="M598.67 390.06V398.1"/>
<path class=i d="M598.67 381.79V389.06"/>
<path class=j d="M598.67 378.88V380.79"/>
<path class=k d="M598.67 376.88V379.72"/>
<path class=a d="M599.99 540.02V543"/>
<path class=b d="M599.99 530.21V539.02"/>
<path class=c d="M599.99 490.08V529.21"/>
<path class=d d="M599.99 469.86V489.08"/>
<path class=e d="M599.99 445.51V468.86"/>
<path class=f d="M599.99 425.75V444.51"/>
<path class=g d="M599.99 414.87V424.75"/>
<path class=h d="M599.99 404.61V413.87"/>
<path class=i d="M599.99 397.26V403.61"/>
<path class=j d="M599.99 393.12V396.26"/>
<path class=k d="M599.99 391.12V393.97"/>
<path class=a d="M601.3 541.4V543"/>
<path class=b d="M601.3 536.8V540.4"/>
<path class=c d="M601.3 518.57V535.8"/>
<path class=d d="M601.3 502.8V517.57"/>
<path class=e d="M601.3 487.78V501.8"/>
<path class=f d="M601.3 471.24V486.78"/>
<path class=g d="M601.3 464.35V470.24"/>
<path class=h d="M601.3 456.69V463.35"/>
<path class=i d="M601.3 451.79V455.69"/>
<path class=j d="M601.3 449.49V450.79"/>
<path class=k d="M601.3 447.49V450.18"/>
<path class=a d="M602.62 539.71V543"/>
<path class=b d="M602.62 532.67V538.71"/>
<path class=c d="M602.62 496.52V531.67"/>
<path class=d d="M602.62 468.18V495.52"/>
<path class=e d="M602.62 447.96V467.18"/>
<path class=f d="M602.62 422.07V446.96"/>
<path class=g d="M602.62 408.44V421.07"/>
<path class=h d="M602.62 400.63V407.44"/>
<path class=i d="M602.62 391.59V399.63"/>
<path class=j d="M602.62 387V390.59"/>
<path class=k d="M602.62 385V387.84"/>
<path class=a d="M603.94 539.4V543"/>
<path class=b d="M603.94 532.82V538.4"/>
<path class=c d="M603.94 502.95V531.82"/>
<path class=d d="M603.94 476.91V501.95"/>
<path class=e d="M603.94 454.09V475.91"/>
<path class=f d="M603.94 429.58V453.09"/>
<path class=g d="M603.94 419.47V428.58"/>
<path class=h d="M603.94 405.22V418.47"/>
<path class=i d="M603.94 397.87V404.22"/>
<path class=j d="M603.94 394.65V396.87"/>
<path class=k d="M603.94 392.65V395.5"/>
<path class=a d="M605.25 539.56V543"/>
<path class=b d="M605.25 531.13V538.56"/>
<path class=c d="M605.25 483.5V530.13"/>
<path class=d d="M605.25 460.06V482.5"/>
<path class=e d="M605.25 435.71V459.06"/>
<path class=f d="M605.25 412.42V434.71"/>
<path class=g d="M605.25 400.02V411.42"/>
<path class=h d="M605.25 393.43V399.02"/>
<path class=i d="M605.25 385.62V392.43"/>
<path class=j d="M605.25 381.18V384.62"/>
<path class=k d="M605.25 379.18V381.87"/>
<path class=a d="M606.57 539.86V543"/>
<path class=b d="M606.57 532.21V538.86"/>
<path class=c d="M606.57 505.71V531.21"/>
<path class=d d="M606.57 482.58V504.71"/>
<path class=e d="M606.57 460.37V481.58"/>
<path class=f d="M606.57 442.9V459.37"/>
<path class=g d="M606.57 432.64V441.9"/>
<path class=h d="M606.57 419.62V431.64"/>
<path class=i d="M606.57 414.72V418.62"/>
<path class=j d="M606.57 411.35V413.72"/>
<path class=k d="M606.57 409.35V412.04"/>
<path class=a d="M607.89 540.63V543"/>
<path class=b d="M607.89 532.67V539.63"/>
<path class=c d="M607.89 508.77V531.67"/>
<path class=d d="M607.89 489.47V507.77"/>
<path class=e d="M607.89 472.47V488.47"/>
<path class=f d="M607.89 454.55V471.47"/>
<path class=g d="M607.89 443.52V453.55"/>
<path class=h d="M607.89 434.02V442.52"/>
<path class=i d="M607.89 428.97V433.02"/>
<path class=j d="M607.89 426.36V427.97"/>
<path class=k d="M607.89 424.36V427.06"/>
<path class=a d="M609.2 542V543.62"/>
<path class=b d="M609.2 535.88V541.62"/>
<path class=c d="M609.2 514.74V534.88"/>
<path class=d d="M609.2 499.27V513.74"/>
<path class=e d="M609.2 483.5V498.27"/>
<path class=f d="M609.2 469.1V482.5"/>
<path class=g d="M609.2 462.97V468.1"/>
<path class=h d="M609.2 455.92V461.97"/>
<path class=i d="M609.2 449.49V454.92"/>
<path class=j d="M609.2 447.04V448.49"/>
<path class=k d="M609.2 445.04V447.89"/>
<path class=a d="M610.52 541.24V543"/>
<path class=b d="M610.52 539.1V540.24"/>
<path class=c d="M610.52 525.31V538.1"/>
<path class=d d="M610.52 514.28V524.31"/>
<path class=e d="M610.52 505.86V513.28"/>
<path class=f d="M610.52 497.13V504.86"/>
<path class=g d="M610.52 493.61V496.13"/>
<path class=h d="M610.52 488.7V492.61"/>
<path class=i d="M610.52 485.03V487.7"/>
<path class=j d="M610.52 483.03V484.96"/>
<path class=k d="M610.52 481.96V484.8"/>
<path class=a d="M611.84 540.78V543"/>
<path class=b d="M611.84 535.73V539.78"/>
<path class=c d="M611.84 521.64V534.73"/>
<path class=d d="M611.84 506.01V520.64"/>
<path class=e d="M611.84 492.07V505.01"/>
<path class=f d="M611.84 481.81V491.07"/>
<path class=g d="M611.84 473.69V480.81"/>
<path class=h d="M611.84 466.95V472.69"/>
<path class=i d="M611.84 461.75V465.95"/>
<path class=j d="M611.84 458.99V460.75"/>
<path class=k d="M611.84 456.99V459.83"/>
<path class=a d="M613.16 541.4V543"/>
<path class=b d="M613.16 536.19V540.4"/>
<path class=c d="M613.16 510.76V535.19"/>
<path class=d d="M613.16 492.53V509.76"/>
<path class=e d="M613.16 476.91V491.53"/>
<path class=f d="M613.16 462.51V475.91"/>
<path class=g d="M613.16 455.92V461.51"/>
<path class=h d="M613.16 450.56V454.92"/>
<path class=i d="M613.16 442.75V449.56"/>
<path class=j d="M613.16 440.45V441.75"/>
<path class=a d="M614.47 539.86V543"/>
<path class=b d="M614.47 534.35V538.86"/>
<path class=c d="M614.47 511.37V533.35"/>
<path class=d d="M614.47 487.17V510.37"/>
<path class=e d="M614.47 472.77V486.17"/>
<path class=f d="M614.47 460.98V471.77"/>
<path class=g d="M614.47 451.64V459.98"/>
<path class=h d="M614.47 442.14V450.64"/>
<path class=i d="M614.47 435.4V441.14"/>
<path class=j d="M614.47 431.57V434.4"/>
<path class=a d="M615.79 540.32V543"/>
<path class=b d="M615.79 537.41V539.32"/>
<path class=c d="M615.79 517.04V536.41"/>
<path class=d d="M615.79 497.28V516.04"/>
<path class=e d="M615.79 487.94V496.28"/>
<path class=f d="M615.79 475.38V486.94"/>
<path class=g d="M615.79 467.11V474.38"/>
<path class=h d="M615.79 460.37V466.11"/>
<path class=i d="M615.79 458.37V459.53"/>
<path class=j d="M615.79 455.62V457.53"/>
<path class=a d="M617.11 541.55V543"/>
<path class=b d="M617.11 537.11V540.55"/>
<path class=c d="M617.11 510V536.11"/>
<path class=d d="M617.11 496.36V509"/>
<path class=e d="M617.11 482.42V495.36"/>
<path class=f d="M617.11 468.18V481.42"/>
<path class=g d="M617.11 459.75V467.18"/>
<path class=h d="M617.11 453.93V458.75"/>
<path class=i d="M617.11 447.81V452.93"/>
<path class=j d="M617.11 445.81V447.12"/>
<path class=a d="M618.42 541.55V543"/>
<path class=b d="M618.42 537.11V540.55"/>
<path class=c d="M618.42 525.16V536.11"/>
<path class=d d="M618.42 514.28V524.16"/>
<path class=e d="M618.42 504.63V513.28"/>
<path class=f d="M618.42 494.07V503.63"/>
<path class=g d="M618.42 488.4V493.07"/>
<path class=h d="M618.42 484.11V487.4"/>
<path class=i d="M618.42 479.82V483.11"/>
<path class=j d="M618.42 477.82V479.44"/>
<path class=k d="M618.42 476.44V479.29"/>
<path class=a d="M619.74 542V544.39"/>
<path class=b d="M619.74 541.39V543.01"/>
<path class=c d="M619.74 532.67V541.01"/>
<path class=d d="M619.74 525.01V531.67"/>
<path class=e d="M619.74 517.81V524.01"/>
<path class=f d="M619.74 511.99V516.81"/>
<path class=g d="M619.74 509.84V510.99"/>
<path class=h d="M619.74 506.47V508.84"/>
<path class=i d="M619.74 503.26V505.47"/>
<path class=j d="M619.74 501.26V502.72"/>
<path class=a d="M621.06 541.86V543"/>
<path class=b d="M621.06 538.03V540.86"/>
<path class=c d="M621.06 527.3V537.03"/>
<path class=d d="M621.06 517.04V526.3"/>
<path class=e d="M621.06 507.7V516.04"/>
<path class=f d="M621.06 497.74V506.7"/>
<path class=g d="M621.06 493.45V496.74"/>
<path class=h d="M621.06 487.48V492.45"/>
<path class=i d="M621.06 482.42V486.48"/>
<path class=j d="M621.06 480.42V481.89"/>
<path class=a d="M622.37 540.32V543"/>
<path class=b d="M622.37 536.8V539.32"/>
<path class=c d="M622.37 524.24V535.8"/>
<path class=d d="M622.37 512.45V523.24"/>
<path class=e d="M622.37 499.73V511.45"/>
<path class=f d="M622.37 490.54V498.73"/>
<path class=g d="M622.37 484.42V489.54"/>
<path class=h d="M622.37 476.6V483.42"/>
<path class=i d="M622.37 471.55V475.6"/>
<path class=j d="M622.37 469.25V470.55"/>
<path class=k d="M622.37 467.25V469.79"/>
<path class=a d="M623.69 542V543.16"/>
<path class=b d="M623.69 539.71V541.16"/>
<path class=c d="M623.69 519.8V538.71"/>
<path class=d d="M623.69 510.45V518.8"/>
<path class=e d="M623.69 499.58V509.45"/>
<path class=f d="M623.69 491V498.58"/>
<path class=g d="M623.69 487.33V490"/>
<path class=h d="M623.69 482.58V486.33"/>
<path class=i d="M623.69 478.59V481.58"/>
<path class=j d="M623.69 476.59V478.83"/>
<path class=k d="M623.69 475.83V478.52"/>
<path class=a d="M625.01 541.24V543"/>
<path class=b d="M625.01 538.18V540.24"/>
<path class=c d="M625.01 530.37V537.18"/>
<path class=d d="M625.01 522.56V529.37"/>
<path class=e d="M625.01 514.44V521.56"/>
<path class=f d="M625.01 508V513.44"/>
<path class=g d="M625.01 504.79V507"/>
<path class=h d="M625.01 501.57V503.79"/>
<path class=i d="M625.01 498.2V500.57"/>
<path class=j d="M625.01 496.2V497.98"/>
<path class=a d="M626.32 542V543.32"/>
<path class=b d="M626.32 540.02V541.32"/>
<path class=c d="M626.32 527.61V539.02"/>
<path class=d d="M626.32 521.02V526.61"/>
<path class=e d="M626.32 510.3V520.02"/>
<path class=f d="M626.32 503.1V509.3"/>
<path class=g d="M626.32 496.98V502.1"/>
<path class=h d="M626.32 491.77V495.98"/>
<path class=i d="M626.32 489.77V491.08"/>
<path class=j d="M626.32 487.48V489.08"/>
<path class=a d="M627.64 542V543.77"/>
<path class=b d="M627.64 540.77V542.09"/>
<path class=c d="M627.64 525.93V540.09"/>
<path class=d d="M627.64 519.03V524.93"/>
<path class=e d="M627.64 512.29V518.03"/>
<path class=f d="M627.64 503.1V511.29"/>
<path class=g d="M627.64 498.81V502.1"/>
<path class=h d="M627.64 495.44V497.81"/>
<path class=i d="M627.64 488.7V494.44"/>
<path class=j d="M627.64 486.7V488.33"/>
<path class=k d="M627.64 485.33V488.17"/>
<path class=a d="M628.96 542V543.01"/>
<path class=b d="M628.96 539.86V541.01"/>
<path class=c d="M628.96 533.28V538.86"/>
<path class=d d="M628.96 525.62V532.28"/>
<path class=e d="M628.96 518.73V524.62"/>
<path class=f d="M628.96 513.37V517.73"/>
<path class=g d="M628.96 509.84V512.37"/>
<path class=h d="M628.96 506.93V508.84"/>
<path class=i d="M628.96 504.93V506.25"/>
<path class=j d="M628.96 503.25V504.26"/>
<path class=a d="M630.27 542V543.77"/>
<path class=b d="M630.27 539.86V541.77"/>
<path class=c d="M630.27 528.22V538.86"/>
<path class=d d="M630.27 520.41V527.22"/>
<path class=e d="M630.27 510V519.41"/>
<path class=f d="M630.27 502.34V509"/>
<path class=g d="M630.27 497.89V501.34"/>
<path class=h d="M630.27 495.14V496.89"/>
<path class=i d="M630.27 491.46V494.14"/>
<path class=j d="M630.27 489.46V491.39"/>
<path class=a d="M631.59 541.86V543"/>
<path class=b d="M631.59 539.25V540.86"/>
<path class=c d="M631.59 528.68V538.25"/>
<path class=d d="M631.59 518.27V527.68"/>
<path class=e d="M631.59 507.85V517.27"/>
<path class=f d="M631.59 500.5V506.85"/>
<path class=g d="M631.59 495.6V499.5"/>
<path class=h d="M631.59 490.85V494.6"/>
<path class=i d="M631.59 487.63V489.85"/>
<path class=j d="M631.59 485.63V487.25"/>
<path class=k d="M631.59 484.25V487.1"/>
<path class=a d="M632.91 540.48V543"/>
<path class=b d="M632.91 535.88V539.48"/>
<path class=c d="M632.91 525.31V534.88"/>
<path class=d d="M632.91 516.28V524.31"/>
<path class=e d="M632.91 506.01V515.28"/>
<path class=f d="M632.91 496.67V505.01"/>
<path class=g d="M632.91 489.47V495.67"/>
<path class=h d="M632.91 482.88V488.47"/>
<path class=i d="M632.91 478.75V481.88"/>
<path class=j d="M632.91 475.99V477.75"/>
<path class=k d="M632.91 473.99V476.84"/>
<path class=a d="M634.23 542V543.93"/>
<path class=b d="M634.23 540.32V541.93"/>
<path class=c d="M634.23 528.38V539.32"/>
<path class=d d="M634.23 518.57V527.38"/>
<path class=e d="M634.23 511.68V517.57"/>
<path class=f d="M634.23 504.48V510.68"/>
<path class=g d="M634.23 498.05V503.48"/>
<path class=h d="M634.23 494.68V497.05"/>
<path class=i d="M634.23 491.15V493.68"/>
<path class=j d="M634.23 489.15V490.93"/>
<path class=a d="M635.54 542V543.01"/>
<path class=b d="M635.54 540.01V541.32"/>
<path class=c d="M635.54 527.92V539.32"/>
<path class=d d="M635.54 520.56V526.92"/>
<path class=e d="M635.54 513.52V519.56"/>
<path class=f d="M635.54 506.01V512.52"/>
<path class=g d="M635.54 503.41V505.01"/>
<path class=h d="M635.54 498.97V502.41"/>
<path class=i d="M635.54 496.36V497.97"/>
<path class=j d="M635.54 493.91V495.36"/>
<path class=a d="M636.86 542V544.23"/>
<path class=b d="M636.86 541.23V542.55"/>
<path class=c d="M636.86 531.13V540.55"/>
<path class=d d="M636.86 521.48V530.13"/>
<path class=e d="M636.86 515.97V520.48"/>
<path class=f d="M636.86 512.14V514.97"/>
<path class=g d="M636.86 509.54V511.14"/>
<path class=h d="M636.86 505.86V508.54"/>
<path class=i d="M636.86 502.95V504.86"/>
<path class=j d="M636.86 500.95V503.49"/>
<path class=k d="M636.86 500.49V503.34"/>
<path class=a d="M638.18 542V543.93"/>
<path class=b d="M638.18 540.93V542.55"/>
<path class=c d="M638.18 534.2V540.55"/>
<path class=d d="M638.18 530.52V533.2"/>
<path class=e d="M638.18 526.23V529.52"/>
<path class=f d="M638.18 521.64V525.23"/>
<path class=g d="M638.18 519.64V521.26"/>
<path class=h d="M638.18 517.65V519.26"/>
<path class=i d="M638.18 515.65V518.19"/>
<path class=j d="M638.18 515.19V517.73"/>
<path class=a d="M639.49 542V543.32"/>
<path class=b d="M639.49 540.32V541.32"/>
<path class=c d="M639.49 531.44V539.32"/>
<path class=d d="M639.49 522.56V530.44"/>
<path class=e d="M639.49 518.27V521.56"/>
<path class=f d="M639.49 511.83V517.27"/>
<path class=g d="M639.49 509.69V510.83"/>
<path class=h d="M639.49 506.17V508.69"/>
<path class=i d="M639.49 503.41V505.17"/>
<path class=j d="M639.49 501.41V502.88"/>
<path class=a d="M640.81 542V543.47"/>
<path class=b d="M640.81 540.47V541.78"/>
<path class=c d="M640.81 534.96V539.78"/>
<path class=d d="M640.81 529.14V533.96"/>
<path class=e d="M640.81 523.78V528.14"/>
<path class=f d="M640.81 519.49V522.78"/>
<path class=g d="M640.81 515.97V518.49"/>
<path class=h d="M640.81 513.97V515.28"/>
<path class=i d="M640.81 512.28V513.91"/>
<path class=j d="M640.81 510.91V512.53"/>
<path class=k d="M640.81 509.53V512.37"/>
<path class=a d="M642.13 542V543.62"/>
<path class=b d="M642.13 539.4V541.62"/>
<path class=c d="M642.13 528.68V538.4"/>
<path class=d d="M642.13 521.18V527.68"/>
<path class=e d="M642.13 512.91V520.18"/>
<path class=f d="M642.13 504.79V511.91"/>
<path class=g d="M642.13 500.5V503.79"/>
<path class=h d="M642.13 496.52V499.5"/>
<path class=i d="M642.13 492.99V495.52"/>
<path class=j d="M642.13 490.99V493.07"/>
<path class=k d="M642.13 490.07V492.92"/>
<path class=a d="M643.44 542V544.39"/>
<path class=b d="M643.44 541.39V542.7"/>
<path class=c d="M643.44 532.36V540.7"/>
<path class=d d="M643.44 527V531.36"/>
<path class=e d="M643.44 520.56V526"/>
<path class=f d="M643.44 512.45V519.56"/>
<path class=g d="M643.44 508.46V511.45"/>
<path class=h d="M643.44 505.25V507.46"/>
<path class=i d="M643.44 503.1V504.25"/>
<path class=j d="M643.44 501.1V503.8"/>
<path class=k d="M643.44 500.8V503.64"/>
<path class=a d="M644.76 541.86V543"/>
<path class=b d="M644.76 539.1V540.86"/>
<path class=c d="M644.76 526.38V538.1"/>
<path class=d d="M644.76 515.82V525.38"/>
<path class=e d="M644.76 508.31V514.82"/>
<path class=f d="M644.76 502.64V507.31"/>
<path class=g d="M644.76 498.66V501.64"/>
<path class=h d="M644.76 495.14V497.66"/>
<path class=i d="M644.76 492.99V494.14"/>
<path class=j d="M644.76 490.99V493.38"/>
<path class=a d="M646.08 541.86V543"/>
<path class=b d="M646.08 537.11V540.86"/>
<path class=c d="M646.08 526.69V536.11"/>
<path class=d d="M646.08 517.81V525.69"/>
<path class=e d="M646.08 507.54V516.81"/>
<path class=f d="M646.08 503.1V506.54"/>
<path class=g d="M646.08 499.43V502.1"/>
<path class=h d="M646.08 496.36V498.43"/>
<path class=i d="M646.08 494.36V495.83"/>
<path class=j d="M646.08 492.83V494.61"/>
<path class=a d="M647.39 542V544.08"/>
<path class=b d="M647.39 541.08V543.16"/>
<path class=c d="M647.39 538.33V541.16"/>
<path class=d d="M647.39 535.12V537.33"/>
<path class=e d="M647.39 530.83V534.12"/>
<path class=f d="M647.39 528.83V530.6"/>
<path class=g d="M647.39 527.6V528.61"/>
<path class=h d="M647.39 525.61V527.84"/>
<path class=i d="M647.39 524.84V526.62"/>
<path class=j d="M647.39 523.62V526.47"/>
<path class=a d="M648.71 542V543.77"/>
<path class=b d="M648.71 540.63V541.77"/>
<path class=c d="M648.71 533.12V539.63"/>
<path class=d d="M648.71 526.38V532.12"/>
<path class=e d="M648.71 521.64V525.38"/>
<path class=f d="M648.71 517.35V520.64"/>
<path class=g d="M648.71 515.35V516.51"/>
<path class=h d="M648.71 512.91V514.51"/>
<path class=i d="M648.71 510.3V511.91"/>
<path class=j d="M648.71 508.3V509.46"/>
<path class=a d="M650.03 542V543.77"/>
<path class=b d="M650.03 539.86V541.77"/>
<path class=c d="M650.03 530.06V538.86"/>
<path class=d d="M650.03 520.41V529.06"/>
<path class=e d="M650.03 511.99V519.41"/>
<path class=f d="M650.03 505.4V510.99"/>
<path class=g d="M650.03 502.03V504.4"/>
<path class=h d="M650.03 498.2V501.03"/>
<path class=i d="M650.03 496.2V497.82"/>
<path class=j d="M650.03 494.82V496.6"/>
<path class=a d="M651.34 541.86V543"/>
<path class=b d="M651.34 539.25V540.86"/>
<path class=c d="M651.34 530.37V538.25"/>
<path class=d d="M651.34 523.93V529.37"/>
<path class=e d="M651.34 517.65V522.93"/>
<path class=f d="M651.34 511.83V516.65"/>
<path class=g d="M651.34 508.46V510.83"/>
<path class=h d="M651.34 504.94V507.46"/>
<path class=i d="M651.34 502.18V503.94"/>
<path class=j d="M651.34 500.18V502.26"/>
<path class=a d="M652.66 542V543.16"/>
<path class=b d="M652.66 540.16V541.48"/>
<path class=c d="M652.66 529.91V539.48"/>
<path class=d d="M652.66 522.4V528.91"/>
<path class=e d="M652.66 516.12V521.4"/>
<path class=f d="M652.66 509.54V515.12"/>
<path class=g d="M652.66 505.55V508.54"/>
<path class=h d="M652.66 501.57V504.55"/>
<path class=i d="M652.66 499.12V500.57"/>
<path class=j d="M652.66 497.12V498.89"/>
<path class=a d="M653.98 542V543.62"/>
<path class=b d="M653.98 540.02V541.62"/>
<path class=c d="M653.98 526.23V539.02"/>
<path class=d d="M653.98 520.1V525.23"/>
<path class=e d="M653.98 514.44V519.1"/>
<path class=f d="M653.98 508.46V513.44"/>
<path class=g d="M653.98 505.71V507.46"/>
<path class=h d="M653.98 502.95V504.71"/>
<path class=i d="M653.98 500.8V501.95"/>
<path class=j d="M653.98 498.8V500.12"/>
<path class=a d="M655.3 542V544.08"/>
<path class=b d="M655.3 540.17V542.08"/>
<path class=c d="M655.3 533.43V539.17"/>
<path class=d d="M655.3 528.07V532.43"/>
<path class=e d="M655.3 522.71V527.07"/>
<path class=f d="M655.3 515.05V521.71"/>
<path class=g d="M655.3 512.6V514.05"/>
<path class=h d="M655.3 510.45V511.6"/>
<path class=i d="M655.3 508.45V510.08"/>
<path class=j d="M655.3 507.08V508.85"/>
<path class=k d="M655.3 505.85V508.7"/>
<path class=a d="M656.61 542V544.39"/>
<path class=b d="M656.61 541.39V543.62"/>
<path class=c d="M656.61 538.49V541.62"/>
<path class=d d="M656.61 535.27V537.49"/>
<path class=e d="M656.61 533.12V534.27"/>
<path class=f d="M656.61 530.06V532.12"/>
<path class=g d="M656.61 528.06V529.99"/>
<path class=h d="M656.61 526.99V528.92"/>
<path class=i d="M656.61 525.92V527.69"/>
<path class=j d="M656.61 524.69V527.23"/>
<path class=a d="M657.93 542V544.08"/>
<path class=b d="M657.93 540.63V542.08"/>
<path class=c d="M657.93 530.06V539.63"/>
<path class=d d="M657.93 521.94V529.06"/>
<path class=e d="M657.93 513.98V520.94"/>
<path class=f d="M657.93 508.16V512.98"/>
<path class=g d="M657.93 504.94V507.16"/>
<path class=h d="M657.93 502.49V503.94"/>
<path class=i d="M657.93 500.35V501.49"/>
<path class=j d="M657.93 498.35V500.58"/>
<path class=a d="M659.25 542V543.47"/>
<path class=b d="M659.25 540.47V541.63"/>
<path class=c d="M659.25 528.22V539.63"/>
<path class=d d="M659.25 519.49V527.22"/>
<path class=e d="M659.25 510.76V518.49"/>
<path class=f d="M659.25 503.56V509.76"/>
<path class=g d="M659.25 498.97V502.56"/>
<path class=h d="M659.25 496.06V497.97"/>
<path class=i d="M659.25 493.15V495.06"/>
<path class=j d="M659.25 491.15V492.92"/>
<path class=a d="M660.56 541.7V543"/>
<path class=b d="M660.56 537.87V540.7"/>
<path class=c d="M660.56 528.07V536.87"/>
<path class=d d="M660.56 519.8V527.07"/>
<path class=e d="M660.56 509.54V518.8"/>
<path class=f d="M660.56 504.02V508.54"/>
<path class=g d="M660.56 499.12V503.02"/>
<path class=h d="M660.56 496.98V498.12"/>
<path class=i d="M660.56 493.91V495.98"/>
<path class=j d="M660.56 491.91V493.69"/>
<path class=a d="M661.88 542V543.77"/>
<path class=b d="M661.88 539.25V541.77"/>
<path class=c d="M661.88 529.91V538.25"/>
<path class=d d="M661.88 522.71V528.91"/>
<path class=e d="M661.88 513.82V521.71"/>
<path class=f d="M661.88 505.86V512.82"/>
<path class=g d="M661.88 502.03V504.86"/>
<path class=h d="M661.88 500.03V501.5"/>
<path class=i d="M661.88 498.5V499.97"/>
<path class=j d="M661.88 496.97V498.43"/>
<path class=a d="M663.2 542V543.32"/>
<path class=b d="M663.2 539.1V541.32"/>
<path class=c d="M663.2 527V538.1"/>
<path class=d d="M663.2 518.57V526"/>
<path class=e d="M663.2 510.15V517.57"/>
<path class=f d="M663.2 503.87V509.15"/>
<path class=g d="M663.2 500.35V502.87"/>
<path class=h d="M663.2 496.36V499.35"/>
<path class=i d="M663.2 494.07V495.36"/>
<path class=j d="M663.2 492.07V494.45"/>
<path class=a d="M664.51 541.4V543"/>
<path class=b d="M664.51 538.64V540.4"/>
<path class=c d="M664.51 529.75V537.64"/>
<path class=d d="M664.51 524.09V528.75"/>
<path class=e d="M664.51 518.42V523.09"/>
<path class=f d="M664.51 512.6V517.42"/>
<path class=g d="M664.51 510.6V512.22"/>
<path class=h d="M664.51 509.22V510.23"/>
<path class=i d="M664.51 507.23V509.16"/>
<path class=j d="M664.51 506.16V508.39"/>
<path class=a d="M665.83 542V543.93"/>
<path class=b d="M665.83 540.17V541.93"/>
<path class=c d="M665.83 531.13V539.17"/>
<path class=d d="M665.83 526.54V530.13"/>
<path class=e d="M665.83 523.32V525.54"/>
<path class=f d="M665.83 520.87V522.32"/>
<path class=g d="M665.83 518.87V520.34"/>
<path class=h d="M665.83 517.34V518.35"/>
<path class=j d="M665.83 515.35V518.19"/>
<path class=a d="M667.15 542V544.23"/>
<path class=b d="M667.15 540.17V542.23"/>
<path class=c d="M667.15 530.67V539.17"/>
<path class=d d="M667.15 520.56V529.67"/>
<path class=e d="M667.15 513.21V519.56"/>
<path class=f d="M667.15 506.17V512.21"/>
<path class=g d="M667.15 504.17V505.33"/>
<path class=h d="M667.15 500.5V503.33"/>
<path class=i d="M667.15 498.5V499.97"/>
<path class=j d="M667.15 496.97V499.05"/>
<path class=a d="M668.46 542V543.32"/>
<path class=b d="M668.46 537.57V541.32"/>
<path class=c d="M668.46 523.63V536.57"/>
<path class=d d="M668.46 514.59V522.63"/>
<path class=e d="M668.46 503.1V513.59"/>
<path class=f d="M668.46 493.91V502.1"/>
<path class=g d="M668.46 490.39V492.91"/>
<path class=h d="M668.46 485.49V489.39"/>
<path class=i d="M668.46 482.58V484.49"/>
<path class=j d="M668.46 480.58V482.35"/>
<path class=a d="M669.78 542V544.08"/>
<path class=b d="M669.78 539.25V542.08"/>
<path class=c d="M669.78 526.84V538.25"/>
<path class=d d="M669.78 518.73V525.84"/>
<path class=e d="M669.78 510.45V517.73"/>
<path class=f d="M669.78 504.63V509.45"/>
<path class=g d="M669.78 500.96V503.63"/>
<path class=h d="M669.78 497.43V499.96"/>
<path class=i d="M669.78 494.83V496.43"/>
<path class=j d="M669.78 492.83V495.52"/>
<path class=a d="M671.1 542V543.16"/>
<path class=b d="M671.1 540.16V541.94"/>
<path class=c d="M671.1 527.76V539.94"/>
<path class=d d="M671.1 518.42V526.76"/>
<path class=e d="M671.1 511.53V517.42"/>
<path class=f d="M671.1 505.86V510.53"/>
<path class=g d="M671.1 501.72V504.86"/>
<path class=h d="M671.1 499.72V501.65"/>
<path class=i d="M671.1 498.35V499.65"/>
<path class=j d="M671.1 496.35V498.74"/>
<path class=k d="M671.1 495.74V498.59"/>
<path class=a d="M672.41 541.24V543"/>
<path class=b d="M672.41 538.49V540.24"/>
<path class=c d="M672.41 525.93V537.49"/>
<path class=d d="M672.41 516.28V524.93"/>
<path class=e d="M672.41 507.24V515.28"/>
<path class=f d="M672.41 500.04V506.24"/>
<path class=g d="M672.41 495.9V499.04"/>
<path class=h d="M672.41 493.76V494.9"/>
<path class=i d="M672.41 491.76V493.07"/>
<path class=j d="M672.41 490.07V492.61"/>
<path class=a d="M673.73 542V543.77"/>
<path class=b d="M673.73 540.02V541.77"/>
<path class=c d="M673.73 531.9V539.02"/>
<path class=d d="M673.73 524.55V530.9"/>
<path class=e d="M673.73 518.11V523.55"/>
<path class=f d="M673.73 512.6V517.11"/>
<path class=g d="M673.73 509.08V511.6"/>
<path class=h d="M673.73 506.63V508.08"/>
<path class=i d="M673.73 504.63V506.09"/>
<path class=j d="M673.73 503.09V505.79"/>
<path class=a d="M675.05 542V544.23"/>
<path class=b d="M675.05 541.23V542.55"/>
<path class=c d="M675.05 533.74V540.55"/>
<path class=d d="M675.05 527.3V532.74"/>
<path class=e d="M675.05 523.78V526.3"/>
<path class=f d="M675.05 519.8V522.78"/>
<path class=g d="M675.05 517.8V519.27"/>
<path class=h d="M675.05 516.27V517.89"/>
<path class=i d="M675.05 514.89V516.66"/>
<path class=j d="M675.05 513.66V516.36"/>
<path class=a d="M676.37 542V543.01"/>
<path class=b d="M676.37 539.86V541.01"/>
<path class=c d="M676.37 525.01V538.86"/>
<path class=d d="M676.37 515.05V524.01"/>
<path class=e d="M676.37 507.54V514.05"/>
<path class=f d="M676.37 502.18V506.54"/>
<path class=g d="M676.37 497.89V501.18"/>
<path class=h d="M676.37 494.68V496.89"/>
<path class=i d="M676.37 492.68V493.84"/>
<path class=j d="M676.37 490.84V493.38"/>
<path class=a d="M677.68 541.86V543"/>
<path class=b d="M677.68 537.87V540.86"/>
<path class=c d="M677.68 519.19V536.87"/>
<path class=d d="M677.68 507.39V518.19"/>
<path class=e d="M677.68 500.19V506.39"/>
<path class=f d="M677.68 492.53V499.19"/>
<path class=g d="M677.68 487.78V491.53"/>
<path class=h d="M677.68 483.34V486.78"/>
<path class=i d="M677.68 481.34V482.35"/>
<path class=j d="M677.68 479.35V480.97"/>
<path class=k d="M677.68 477.97V480.67"/>
<path class=a d="M679 541.7V543"/>
<path class=b d="M679 538.49V540.7"/>
<path class=c d="M679 525.62V537.49"/>
<path class=d d="M679 512.14V524.62"/>
<path class=e d="M679 500.65V511.14"/>
<path class=f d="M679 494.52V499.65"/>
<path class=g d="M679 489.32V493.52"/>
<path class=h d="M679 487.32V488.48"/>
<path class=i d="M679 484.87V486.48"/>
<path class=j d="M679 482.87V484.65"/>
<path class=a d="M680.32 542V543.16"/>
<path class=b d="M680.32 539.71V541.16"/>
<path class=c d="M680.32 526.54V538.71"/>
<path class=d d="M680.32 514.59V525.54"/>
<path class=e d="M680.32 504.63V513.59"/>
<path class=f d="M680.32 496.67V503.63"/>
<path class=g d="M680.32 492.23V495.67"/>
<path class=h d="M680.32 489.47V491.23"/>
<path class=i d="M680.32 487.02V488.47"/>
<path class=j d="M680.32 485.02V487.41"/>
<path class=a d="M681.63 541.55V543"/>
<path class=b d="M681.63 536.19V540.55"/>
<path class=c d="M681.63 520.41V535.19"/>
<path class=d d="M681.63 508V519.41"/>
<path class=e d="M681.63 497.74V507"/>
<path class=f d="M681.63 489.93V496.74"/>
<path class=g d="M681.63 485.49V488.93"/>
<path class=h d="M681.63 481.66V484.49"/>
<path class=i d="M681.63 479.66V480.67"/>
<path class=j d="M681.63 477.67V479.13"/>
<path class=a d="M682.95 541.7V543"/>
<path class=b d="M682.95 538.33V540.7"/>
<path class=c d="M682.95 525.01V537.33"/>
<path class=d d="M682.95 516.58V524.01"/>
<path class=e d="M682.95 507.08V515.58"/>
<path class=f d="M682.95 502.03V506.08"/>
<path class=g d="M682.95 500.03V501.04"/>
<path class=h d="M682.95 497.89V499.04"/>
<path class=i d="M682.95 495.89V497.36"/>
<path class=j d="M682.95 494.36V497.06"/>
<path class=a d="M684.27 542V543.77"/>
<path class=b d="M684.27 540.48V541.77"/>
<path class=c d="M684.27 530.98V539.48"/>
<path class=d d="M684.27 525.47V529.98"/>
<path class=e d="M684.27 519.03V524.47"/>
<path class=f d="M684.27 513.37V518.03"/>
<path class=g d="M684.27 511.37V512.83"/>
<path class=h d="M684.27 509.83V511.45"/>
<path class=i d="M684.27 508.45V510.08"/>
<path class=j d="M684.27 507.08V509.16"/>
<path class=a d="M685.58 542V543.62"/>
<path class=b d="M685.58 539.4V541.62"/>
<path class=c d="M685.58 522.86V538.4"/>
<path class=d d="M685.58 512.91V521.86"/>
<path class=e d="M685.58 504.02V511.91"/>
<path class=f d="M685.58 497.28V503.02"/>
<path class=g d="M685.58 493.45V496.28"/>
<path class=h d="M685.58 490.7V492.45"/>
<path class=i d="M685.58 488.7V490.62"/>
<path class=j d="M685.58 487.62V489.4"/>
<path class=k d="M685.58 486.4V489.24"/>
<path class=a d="M686.9 541.55V543"/>
<path class=b d="M686.9 538.33V540.55"/>
<path class=c d="M686.9 523.17V537.33"/>
<path class=d d="M686.9 509.84V522.17"/>
<path class=e d="M686.9 499.89V508.84"/>
<path class=f d="M686.9 492.84V498.89"/>
<path class=g d="M686.9 488.86V491.84"/>
<path class=h d="M686.9 484.72V487.86"/>
<path class=i d="M686.9 481.81V483.72"/>
<path class=j d="M686.9 479.81V481.59"/>
<path class=a d="M688.22 542V543.77"/>
<path class=b d="M688.22 540.32V541.77"/>
<path class=c d="M688.22 518.42V539.32"/>
<path class=d d="M688.22 505.55V517.42"/>
<path class=e d="M688.22 492.69V504.55"/>
<path class=f d="M688.22 483.34V491.69"/>
<path class=g d="M688.22 478.44V482.34"/>
<path class=h d="M688.22 474.77V477.44"/>
<path class=i d="M688.22 472.31V473.77"/>
<path class=j d="M688.22 470.31V472.24"/>
<path class=a d="M689.53 541.86V543"/>
<path class=b d="M689.53 537.41V540.86"/>
<path class=c d="M689.53 519.34V536.41"/>
<path class=d d="M689.53 504.02V518.34"/>
<path class=e d="M689.53 493.91V503.02"/>
<path class=f d="M689.53 485.64V492.91"/>
<path class=g d="M689.53 482.27V484.64"/>
<path class=h d="M689.53 479.05V481.27"/>
<path class=i d="M689.53 477.05V478.52"/>
<path class=j d="M689.53 475.52V477.76"/>
<path class=k d="M689.53 474.76V477.6"/>
<path class=a d="M690.85 542V543.77"/>
<path class=b d="M690.85 538.18V541.77"/>
<path class=c d="M690.85 513.98V537.18"/>
<path class=d d="M690.85 504.33V512.98"/>
<path class=e d="M690.85 491.46V503.33"/>
<path class=f d="M690.85 483.5V490.46"/>
<path class=g d="M690.85 479.82V482.5"/>
<path class=h d="M690.85 477.82V478.83"/>
<path class=i d="M690.85 475.83V477.14"/>
<path class=j d="M690.85 474.14V476.68"/>
<path class=a d="M692.17 541.7V543"/>
<path class=b d="M692.17 539.7V541.02"/>
<path class=c d="M692.17 525.93V539.02"/>
<path class=d d="M692.17 514.44V524.93"/>
<path class=e d="M692.17 507.24V513.44"/>
<path class=f d="M692.17 498.81V506.24"/>
<path class=g d="M692.17 494.22V497.81"/>
<path class=h d="M692.17 491.92V493.22"/>
<path class=i d="M692.17 489.92V491.39"/>
<path class=j d="M692.17 488.39V490.78"/>
<path class=k d="M692.17 487.78V490.62"/>
<path class=a d="M693.48 542V543.93"/>
<path class=b d="M693.48 540.32V541.93"/>
<path class=c d="M693.48 530.37V539.32"/>
<path class=d d="M693.48 522.71V529.37"/>
<path class=e d="M693.48 516.43V521.71"/>
<path class=f d="M693.48 511.22V515.43"/>
<path class=g d="M693.48 508.92V510.22"/>
<path class=h d="M693.48 506.92V508.54"/>
<path class=i d="M693.48 505.54V507.17"/>
<path class=j d="M693.48 504.17V506.86"/>
<path class=a d="M694.8 542V543.77"/>
<path class=b d="M694.8 538.64V541.77"/>
<path class=c d="M694.8 519.95V537.64"/>
<path class=d d="M694.8 508.46V518.95"/>
<path class=e d="M694.8 498.66V507.46"/>
<path class=f d="M694.8 491.15V497.66"/>
<path class=g d="M694.8 486.71V490.15"/>
<path class=h d="M694.8 484.26V485.71"/>
<path class=i d="M694.8 482.26V484.19"/>
<path class=j d="M694.8 481.19V483.88"/>
<path class=a d="M696.12 541.55V543"/>
<path class=b d="M696.12 535.58V540.55"/>
<path class=c d="M696.12 515.05V534.58"/>
<path class=d d="M696.12 496.36V514.05"/>
<path class=e d="M696.12 482.73V495.36"/>
<path class=f d="M696.12 471.4V481.73"/>
<path class=g d="M696.12 466.34V470.4"/>
<path class=h d="M696.12 462.97V465.34"/>
<path class=i d="M696.12 460.21V461.97"/>
<path class=j d="M696.12 458.21V459.99"/>
<path class=a d="M697.44 542V543.01"/>
<path class=b d="M697.44 535.73V541.01"/>
<path class=c d="M697.44 513.37V534.73"/>
<path class=d d="M697.44 498.51V512.37"/>
<path class=e d="M697.44 484.87V497.51"/>
<path class=f d="M697.44 471.55V483.87"/>
<path class=g d="M697.44 466.65V470.55"/>
<path class=h d="M697.44 462.2V465.65"/>
<path class=i d="M697.44 460.2V461.98"/>
<path class=j d="M697.44 458.98V461.52"/>
<path class=a d="M698.75 540.63V543"/>
<path class=b d="M698.75 534.5V539.63"/>
<path class=c d="M698.75 513.82V533.5"/>
<path class=d d="M698.75 497.43V512.82"/>
<path class=e d="M698.75 484.42V496.43"/>
<path class=f d="M698.75 474V483.42"/>
<path class=g d="M698.75 469.86V473"/>
<path class=h d="M698.75 467.41V468.86"/>
<path class=i d="M698.75 463.43V466.41"/>
<path class=j d="M698.75 461.43V462.9"/>
<path class=k d="M698.75 459.9V462.75"/>
<path class=a d="M700.07 541.7V543"/>
<path class=b d="M700.07 537.72V540.7"/>
<path class=c d="M700.07 512.29V536.72"/>
<path class=d d="M700.07 497.13V511.29"/>
<path class=e d="M700.07 479.21V496.13"/>
<path class=f d="M700.07 469.25V478.21"/>
<path class=g d="M700.07 464.35V468.25"/>
<path class=h d="M700.07 459.91V463.35"/>
<path class=i d="M700.07 457.91V459.22"/>
<path class=j d="M700.07 456.22V457.84"/>
<path class=k d="M700.07 454.84V457.69"/>
<path class=a d="M701.39 540.94V543"/>
<path class=b d="M701.39 536.65V539.94"/>
<path class=c d="M701.39 519.95V535.65"/>
<path class=d d="M701.39 506.93V518.95"/>
<path class=e d="M701.39 496.36V505.93"/>
<path class=f d="M701.39 488.4V495.36"/>
<path class=g d="M701.39 484.57V487.4"/>
<path class=h d="M701.39 482.27V483.57"/>
<path class=i d="M701.39 479.97V481.27"/>
<path class=j d="M701.39 477.97V480.67"/>
<path class=k d="M701.39 477.67V480.51"/>
<path class=a d="M702.7 542V544.23"/>
<path class=b d="M702.7 540.78V542.23"/>
<path class=c d="M702.7 528.38V539.78"/>
<path class=d d="M702.7 517.96V527.38"/>
<path class=e d="M702.7 510.15V516.96"/>
<path class=f d="M702.7 503.56V509.15"/>
<path class=g d="M702.7 500.96V502.56"/>
<path class=h d="M702.7 498.96V500.27"/>
<path class=i d="M702.7 497.27V499.05"/>
<path class=j d="M702.7 496.05V498.28"/>
<path class=k d="M702.7 495.28V498.13"/>
<path class=a d="M704.02 541.4V543"/>
<path class=b d="M704.02 537.41V540.4"/>
<path class=c d="M704.02 521.33V536.41"/>
<path class=d d="M704.02 504.17V520.33"/>
<path class=e d="M704.02 488.86V503.17"/>
<path class=f d="M704.02 476.14V487.86"/>
<path class=g d="M704.02 471.09V475.14"/>
<path class=h d="M704.02 469.09V470.25"/>
<path class=i d="M704.02 466.8V468.25"/>
<path class=j d="M704.02 464.8V467.03"/>
<path class=k d="M704.02 464.03V466.88"/>
<path class=a d="M705.34 539.4V543"/>
<path class=b d="M705.34 532.21V538.4"/>
<path class=c d="M705.34 508.16V531.21"/>
<path class=d d="M705.34 490.24V507.16"/>
<path class=e d="M705.34 476.3V489.24"/>
<path class=f d="M705.34 463.28V475.3"/>
<path class=g d="M705.34 459.45V462.28"/>
<path class=h d="M705.34 455.77V458.45"/>
<path class=i d="M705.34 453.77V454.78"/>
<path class=j d="M705.34 451.78V454.63"/>
<path class=k d="M705.34 451.63V454.47"/>
<path class=a d="M706.65 539.25V543"/>
<path class=b d="M706.65 532.36V538.25"/>
<path class=c d="M706.65 502.64V531.36"/>
<path class=d d="M706.65 482.12V501.64"/>
<path class=e d="M706.65 462.97V481.12"/>
<path class=f d="M706.65 449.49V461.97"/>
<path class=g d="M706.65 441.68V448.49"/>
<path class=h d="M706.65 438.31V440.68"/>
<path class=i d="M706.65 433.87V437.31"/>
<path class=j d="M706.65 431.87V433.34"/>
<path class=a d="M707.97 541.86V543"/>
<path class=b d="M707.97 536.49V540.86"/>
<path class=c d="M707.97 503.41V535.49"/>
<path class=d d="M707.97 487.33V502.41"/>
<path class=e d="M707.97 470.32V486.33"/>
<path class=f d="M707.97 455.77V469.32"/>
<path class=g d="M707.97 449.03V454.77"/>
<path class=h d="M707.97 445.51V448.03"/>
<path class=i d="M707.97 442.75V444.51"/>
<path class=j d="M707.97 440.75V442.99"/>
<path class=k d="M707.97 439.99V442.83"/>
<path class=a d="M709.29 541.09V543"/>
<path class=b d="M709.29 533.74V540.09"/>
<path class=c d="M709.29 495.29V532.74"/>
<path class=d d="M709.29 474.61V494.29"/>
<path class=e d="M709.29 457.76V473.61"/>
<path class=f d="M709.29 442.14V456.76"/>
<path class=g d="M709.29 436.17V441.14"/>
<path class=h d="M709.29 432.18V435.17"/>
<path class=i d="M709.29 429.43V431.18"/>
<path class=j d="M709.29 427.43V428.89"/>
<path class=k d="M709.29 425.89V428.74"/>
<path class=a d="M710.6 541.4V543"/>
<path class=b d="M710.6 536.95V540.4"/>
<path class=c d="M710.6 504.48V535.95"/>
<path class=d d="M710.6 492.07V503.48"/>
<path class=e d="M710.6 478.59V491.07"/>
<path class=f d="M710.6 470.78V477.59"/>
<path class=g d="M710.6 465.88V469.78"/>
<path class=h d="M710.6 463.88V465.04"/>
<path class=i d="M710.6 461.59V463.04"/>
<path class=j d="M710.6 459.59V461.83"/>
<path class=a d="M711.92 542V543.32"/>
<path class=b d="M711.92 537.72V541.32"/>
<path class=c d="M711.92 519.8V536.72"/>
<path class=d d="M711.92 504.63V518.8"/>
<path class=e d="M711.92 494.83V503.63"/>
<path class=f d="M711.92 487.02V493.83"/>
<path class=g d="M711.92 484.42V486.02"/>
<path class=h d="M711.92 482.42V484.04"/>
<path class=i d="M711.92 481.04V483.42"/>
<path class=j d="M711.92 480.42V483.12"/>
<path class=k d="M711.92 480.12V482.96"/>
<path class=a d="M713.24 540.48V543"/>
<path class=b d="M713.24 532.97V539.48"/>
<path class=c d="M713.24 498.66V531.97"/>
<path class=d d="M713.24 477.37V497.66"/>
<path class=e d="M713.24 459.91V476.37"/>
<path class=f d="M713.24 447.5V458.91"/>
<path class=g d="M713.24 440.15V446.5"/>
<path class=h d="M713.24 437.7V439.15"/>
<path class=i d="M713.24 435.4V436.7"/>
<path class=j d="M713.24 433.4V436.09"/>
<path class=a d="M714.55 540.32V543"/>
<path class=b d="M714.55 531.13V539.32"/>
<path class=c d="M714.55 483.65V530.13"/>
<path class=d d="M714.55 460.98V482.65"/>
<path class=e d="M714.55 440.91V459.98"/>
<path class=f d="M714.55 429.43V439.91"/>
<path class=g d="M714.55 422.69V428.43"/>
<path class=h d="M714.55 419.32V421.69"/>
<path class=i d="M714.55 416.41V418.32"/>
<path class=j d="M714.55 414.41V415.87"/>
<path class=a d="M715.87 538.79V543"/>
<path class=b d="M715.87 533.58V537.79"/>
<path class=c d="M715.87 489.62V532.58"/>
<path class=d d="M715.87 462.97V488.62"/>
<path class=e d="M715.87 445.66V461.97"/>
<path class=f d="M715.87 425.75V444.66"/>
<path class=g d="M715.87 419.62V424.75"/>
<path class=h d="M715.87 416.87V418.62"/>
<path class=i d="M715.87 413.34V415.87"/>
<path class=j d="M715.87 411.34V413.27"/>
<path class=k d="M715.87 410.27V413.12"/>
<path class=a d="M717.19 541.55V543"/>
<path class=b d="M717.19 534.5V540.55"/>
<path class=c d="M717.19 494.07V533.5"/>
<path class=d d="M717.19 471.4V493.07"/>
<path class=e d="M717.19 452.71V470.4"/>
<path class=f d="M717.19 438.62V451.71"/>
<path class=g d="M717.19 434.17V437.62"/>
<path class=h d="M717.19 430.96V433.17"/>
<path class=i d="M717.19 428.51V429.96"/>
<path class=j d="M717.19 426.51V428.89"/>
<path class=k d="M717.19 425.89V428.74"/>
<path class=a d="M718.51 539.56V543"/>
<path class=b d="M718.51 530.83V538.56"/>
<path class=c d="M718.51 490.08V529.83"/>
<path class=d d="M718.51 466.95V489.08"/>
<path class=e d="M718.51 442.6V465.95"/>
<path class=f d="M718.51 424.98V441.6"/>
<path class=g d="M718.51 418.24V423.98"/>
<path class=h d="M718.51 413.95V417.24"/>
<path class=i d="M718.51 411.2V412.95"/>
<path class=j d="M718.51 409.2V410.97"/>
<path class=k d="M718.51 407.97V410.82"/>
<path class=a d="M719.82 541.86V543"/>
<path class=b d="M719.82 535.42V540.86"/>
<path class=c d="M719.82 509.38V534.42"/>
<path class=d d="M719.82 490.85V508.38"/>
<path class=e d="M719.82 474.61V489.85"/>
<path class=f d="M719.82 460.83V473.61"/>
<path class=g d="M719.82 453.78V459.83"/>
<path class=h d="M719.82 451.18V452.78"/>
<path class=i d="M719.82 448.27V450.18"/>
<path class=j d="M719.82 446.27V447.73"/>
<path class=a d="M721.14 542V543.47"/>
<path class=b d="M721.14 539.1V541.47"/>
<path class=c d="M721.14 521.18V538.1"/>
<path class=d d="M721.14 505.55V520.18"/>
<path class=e d="M721.14 492.99V504.55"/>
<path class=f d="M721.14 485.18V491.99"/>
<path class=g d="M721.14 482.12V484.18"/>
<path class=h d="M721.14 480.12V481.43"/>
<path class=i d="M721.14 478.43V480.36"/>
<path class=j d="M721.14 477.36V479.9"/>
<path class=a d="M722.46 537.57V543"/>
<path class=b d="M722.46 526.84V536.57"/>
<path class=c d="M722.46 490.85V525.84"/>
<path class=d d="M722.46 469.71V489.85"/>
<path class=e d="M722.46 448.88V468.71"/>
<path class=f d="M722.46 432.34V447.88"/>
<path class=g d="M722.46 424.37V431.34"/>
<path class=h d="M722.46 421.15V423.37"/>
<path class=i d="M722.46 418.09V420.15"/>
<path class=j d="M722.46 416.09V418.32"/>
<path class=k d="M722.46 415.32V418.17"/>
<path class=a d="M723.77 541.09V543"/>
<path class=b d="M723.77 531.13V540.09"/>
<path class=c d="M723.77 485.18V530.13"/>
<path class=d d="M723.77 464.35V484.18"/>
<path class=e d="M723.77 441.68V463.35"/>
<path class=f d="M723.77 419.32V440.68"/>
<path class=g d="M723.77 412.12V418.32"/>
<path class=h d="M723.77 407.22V411.12"/>
<path class=i d="M723.77 403.69V406.22"/>
<path class=j d="M723.77 401.69V403.62"/>
<path class=k d="M723.77 400.62V403.31"/>
<path class=a d="M725.09 538.64V543"/>
<path class=b d="M725.09 527.76V537.64"/>
<path class=c d="M725.09 479.36V526.76"/>
<path class=d d="M725.09 455.47V478.36"/>
<path class=e d="M725.09 425.44V454.47"/>
<path class=f d="M725.09 402.93V424.44"/>
<path class=g d="M725.09 394.04V401.93"/>
<path class=h d="M725.09 390.83V393.04"/>
<path class=i d="M725.09 388.07V389.83"/>
<path class=j d="M725.09 386.07V387.84"/>
<path class=k d="M725.09 384.84V387.69"/>
<path class=a d="M726.41 539.4V543"/>
<path class=b d="M726.41 532.67V538.4"/>
<path class=c d="M726.41 506.78V531.67"/>
<path class=d d="M726.41 486.41V505.78"/>
<path class=e d="M726.41 468.48V485.41"/>
<path class=f d="M726.41 452.4V467.48"/>
<path class=g d="M726.41 443.98V451.4"/>
<path class=h d="M726.41 440.3V442.98"/>
<path class=i d="M726.41 438.3V439.77"/>
<path class=j d="M726.41 436.77V438.08"/>
<path class=a d="M727.72 540.17V543"/>
<path class=b d="M727.72 527.61V539.17"/>
<path class=c d="M727.72 483.65V526.61"/>
<path class=d d="M727.72 450.87V482.65"/>
<path class=e d="M727.72 424.37V449.87"/>
<path class=f d="M727.72 403.85V423.37"/>
<path class=g d="M727.72 395.27V402.85"/>
<path class=h d="M727.72 388.37V394.27"/>
<path class=i d="M727.72 384.85V387.37"/>
<path class=j d="M727.72 382.85V384.32"/>
<path class=k d="M727.72 381.32V384.17"/>
<path class=a d="M729.04 539.1V543"/>
<path class=b d="M729.04 532.36V538.1"/>
<path class=c d="M729.04 497.59V531.36"/>
<path class=d d="M729.04 468.64V496.59"/>
<path class=e d="M729.04 443.52V467.64"/>
<path class=f d="M729.04 425.9V442.52"/>
<path class=g d="M729.04 418.24V424.9"/>
<path class=h d="M729.04 413.34V417.24"/>
<path class=i d="M729.04 409.82V412.34"/>
<path class=j d="M729.04 407.82V410.36"/>
<path class=a d="M730.36 540.63V543"/>
<path class=b d="M730.36 531.75V539.63"/>
<path class=c d="M730.36 506.01V530.75"/>
<path class=d d="M730.36 483.5V505.01"/>
<path class=e d="M730.36 463.74V482.5"/>
<path class=f d="M730.36 450.41V462.74"/>
<path class=g d="M730.36 443.21V449.41"/>
<path class=h d="M730.36 439.69V442.21"/>
<path class=i d="M730.36 437.24V438.69"/>
<path class=j d="M730.36 435.24V436.86"/>
<path class=k d="M730.36 433.86V436.55"/>
<path class=a d="M731.67 542V543.16"/>
<path class=b d="M731.67 536.19V541.16"/>
<path class=c d="M731.67 503.41V535.19"/>
<path class=d d="M731.67 489.01V502.41"/>
<path class=e d="M731.67 473.23V488.01"/>
<path class=f d="M731.67 463.58V472.23"/>
<path class=g d="M731.67 457.15V462.58"/>
<path class=h d="M731.67 453.78V456.15"/>
<path class=i d="M731.67 451.78V452.79"/>
<path class=j d="M731.67 449.79V451.72"/>
<path class=a d="M732.99 542V543.01"/>
<path class=b d="M732.99 534.81V541.01"/>
<path class=c d="M732.99 512.29V533.81"/>
<path class=d d="M732.99 492.23V511.29"/>
<path class=e d="M732.99 474.77V491.23"/>
<path class=f d="M732.99 460.52V473.77"/>
<path class=g d="M732.99 455.16V459.52"/>
<path class=h d="M732.99 451.02V454.16"/>
<path class=i d="M732.99 449.02V451.1"/>
<path class=j d="M732.99 448.1V449.88"/>
<path class=a d="M734.31 540.94V543"/>
<path class=b d="M734.31 534.35V539.94"/>
<path class=c d="M734.31 515.2V533.35"/>
<path class=d d="M734.31 495.29V514.2"/>
<path class=e d="M734.31 478.29V494.29"/>
<path class=f d="M734.31 465.88V477.29"/>
<path class=g d="M734.31 460.52V464.88"/>
<path class=h d="M734.31 456.54V459.52"/>
<path class=i d="M734.31 454.09V455.54"/>
<path class=j d="M734.31 452.09V454.47"/>
<path class=a d="M735.62 537.57V543"/>
<path class=b d="M735.62 527.46V536.57"/>
<path class=c d="M735.62 494.68V526.46"/>
<path class=d d="M735.62 468.79V493.68"/>
<path class=e d="M735.62 442.45V467.79"/>
<path class=f d="M735.62 425.29V441.45"/>
<path class=g d="M735.62 415.95V424.29"/>
<path class=h d="M735.62 409.97V414.95"/>
<path class=i d="M735.62 406.3V408.97"/>
<path class=j d="M735.62 404.3V406.07"/>
<path class=a d="M736.94 539.56V543"/>
<path class=b d="M736.94 528.99V538.56"/>
<path class=c d="M736.94 477.52V527.99"/>
<path class=d d="M736.94 442.6V476.52"/>
<path class=e d="M736.94 415.79V441.6"/>
<path class=f d="M736.94 395.27V414.79"/>
<path class=g d="M736.94 385.16V394.27"/>
<path class=h d="M736.94 378.88V384.16"/>
<path class=i d="M736.94 373.98V377.88"/>
<path class=j d="M736.94 371.98V373.44"/>
<path class=k d="M736.94 370.44V373.29"/>
<path class=a d="M738.26 539.1V543"/>
<path class=b d="M738.26 528.07V538.1"/>
<path class=c d="M738.26 478.13V527.07"/>
<path class=d d="M738.26 452.4V477.13"/>
<path class=e d="M738.26 425.29V451.4"/>
<path class=f d="M738.26 405.99V424.29"/>
<path class=g d="M738.26 398.02V404.99"/>
<path class=h d="M738.26 390.52V397.02"/>
<path class=i d="M738.26 387.46V389.52"/>
<path class=j d="M738.26 385.46V387.08"/>
<path class=k d="M738.26 384.08V386.92"/>
<path class=a d="M739.58 540.63V543"/>
<path class=b d="M739.58 536.8V539.63"/>
<path class=c d="M739.58 513.67V535.8"/>
<path class=d d="M739.58 496.67V512.67"/>
<path class=e d="M739.58 481.05V495.67"/>
<path class=f d="M739.58 468.18V480.05"/>
<path class=g d="M739.58 461.9V467.18"/>
<path class=h d="M739.58 458.53V460.9"/>
<path class=i d="M739.58 456.53V457.54"/>
<path class=j d="M739.58 454.54V457.23"/>
<path class=a d="M740.89 540.48V543"/>
<path class=b d="M740.89 532.05V539.48"/>
<path class=c d="M740.89 478.29V531.05"/>
<path class=d d="M740.89 458.38V477.29"/>
<path class=e d="M740.89 436.01V457.38"/>
<path class=f d="M740.89 418.7V435.01"/>
<path class=g d="M740.89 411.2V417.7"/>
<path class=h d="M740.89 405.68V410.2"/>
<path class=i d="M740.89 403.54V404.68"/>
<path class=j d="M740.89 401.54V403.31"/>
<path class=a d="M742.21 538.33V543"/>
<path class=b d="M742.21 529.91V537.33"/>
<path class=c d="M742.21 488.86V528.91"/>
<path class=d d="M742.21 458.83V487.86"/>
<path class=e d="M742.21 433.71V457.83"/>
<path class=f d="M742.21 412.73V432.71"/>
<path class=g d="M742.21 405.99V411.73"/>
<path class=h d="M742.21 399.25V404.99"/>
<path class=i d="M742.21 396.65V398.25"/>
<path class=j d="M742.21 394.65V396.73"/>
<path class=k d="M742.21 393.73V396.57"/>
<path class=a d="M743.53 538.49V543"/>
<path class=b d="M743.53 528.53V537.49"/>
<path class=c d="M743.53 479.82V527.53"/>
<path class=d d="M743.53 453.93V478.82"/>
<path class=e d="M743.53 427.43V452.93"/>
<path class=f d="M743.53 406.91V426.43"/>
<path class=g d="M743.53 397.57V405.91"/>
<path class=h d="M743.53 393.43V396.57"/>
<path class=i d="M743.53 389.91V392.43"/>
<path class=j d="M743.53 387.91V390.29"/>
<path class=a d="M744.84 538.03V543"/>
<path class=b d="M744.84 528.38V537.03"/>
<path class=c d="M744.84 495.75V527.38"/>
<path class=d d="M744.84 473.39V494.75"/>
<path class=e d="M744.84 446.73V472.39"/>
<path class=f d="M744.84 429.73V445.73"/>
<path class=g d="M744.84 421.46V428.73"/>
<path class=h d="M744.84 417.48V420.46"/>
<path class=i d="M744.84 414.41V416.48"/>
<path class=j d="M744.84 412.41V414.19"/>
<path class=a d="M746.16 538.95V543"/>
<path class=b d="M746.16 530.67V537.95"/>
<path class=c d="M746.16 500.96V529.67"/>
<path class=d d="M746.16 477.37V499.96"/>
<path class=e d="M746.16 458.07V476.37"/>
<path class=f d="M746.16 440.45V457.07"/>
<path class=g d="M746.16 435.4V439.45"/>
<path class=h d="M746.16 430.96V434.4"/>
<path class=i d="M746.16 428.35V429.96"/>
<path class=j d="M746.16 426.21V427.35"/>
<path class=k d="M746.16 424.21V426.75"/>
<path class=a d="M747.48 539.56V543"/>
<path class=b d="M747.48 534.04V538.56"/>
<path class=c d="M747.48 515.36V533.04"/>
<path class=d d="M747.48 496.82V514.36"/>
<path class=e d="M747.48 480.59V495.82"/>
<path class=f d="M747.48 471.7V479.59"/>
<path class=g d="M747.48 467.41V470.7"/>
<path class=h d="M747.48 463.58V466.41"/>
<path class=i d="M747.48 461.44V462.58"/>
<path class=j d="M747.48 459.44V461.98"/>
<path class=a d="M748.79 542V543.01"/>
<path class=b d="M748.79 538.03V541.01"/>
<path class=c d="M748.79 518.42V537.03"/>
<path class=d d="M748.79 506.17V517.42"/>
<path class=e d="M748.79 495.9V505.17"/>
<path class=f d="M748.79 487.02V494.9"/>
<path class=g d="M748.79 483.96V486.02"/>
<path class=h d="M748.79 481.35V482.96"/>
<path class=i d="M748.79 479.35V481.13"/>
<path class=j d="M748.79 478.13V480.82"/>
<path class=a d="M750.11 539.86V543"/>
<path class=b d="M750.11 532.51V538.86"/>
<path class=c d="M750.11 504.02V531.51"/>
<path class=d d="M750.11 481.96V503.02"/>
<path class=e d="M750.11 461.75V480.96"/>
<path class=f d="M750.11 444.74V460.75"/>
<path class=g d="M750.11 438V443.74"/>
<path class=h d="M750.11 434.63V437"/>
<path class=i d="M750.11 432.63V434.1"/>
<path class=j d="M750.11 431.1V433.03"/>
<path class=k d="M750.11 430.03V432.88"/>
<path class=a d="M751.43 538.95V543"/>
<path class=b d="M751.43 528.07V537.95"/>
<path class=c d="M751.43 497.74V527.07"/>
<path class=d d="M751.43 478.59V496.74"/>
<path class=e d="M751.43 457.15V477.59"/>
<path class=f d="M751.43 443.67V456.15"/>
<path class=g d="M751.43 435.25V442.67"/>
<path class=h d="M751.43 429.58V434.25"/>
<path class=i d="M751.43 427.58V428.59"/>
<path class=j d="M751.43 425.59V427.67"/>
<path class=a d="M752.74 540.17V543"/>
<path class=b d="M752.74 530.98V539.17"/>
<path class=c d="M752.74 491.92V529.98"/>
<path class=d d="M752.74 465.12V490.92"/>
<path class=e d="M752.74 445.97V464.12"/>
<path class=f d="M752.74 431.11V444.97"/>
<path class=g d="M752.74 423.45V430.11"/>
<path class=h d="M752.74 419.62V422.45"/>
<path class=i d="M752.74 416.1V418.62"/>
<path class=j d="M752.74 414.1V416.03"/>
<path class=k d="M752.74 413.03V415.87"/>
<path class=a d="M754.06 539.1V543"/>
<path class=b d="M754.06 531.75V538.1"/>
<path class=c d="M754.06 505.55V530.75"/>
<path class=d d="M754.06 487.17V504.55"/>
<path class=e d="M754.06 470.02V486.17"/>
<path class=f d="M754.06 458.53V469.02"/>
<path class=g d="M754.06 452.25V457.53"/>
<path class=h d="M754.06 448.27V451.25"/>
<path class=i d="M754.06 446.12V447.27"/>
<path class=j d="M754.06 444.12V445.9"/>
<path class=k d="M754.06 442.9V445.59"/>
<path class=a d="M755.38 540.02V543"/>
<path class=b d="M755.38 534.66V539.02"/>
<path class=c d="M755.38 511.53V533.66"/>
<path class=d d="M755.38 491.77V510.53"/>
<path class=e d="M755.38 477.68V490.77"/>
<path class=f d="M755.38 466.8V476.68"/>
<path class=g d="M755.38 460.06V465.8"/>
<path class=h d="M755.38 456.08V459.06"/>
<path class=i d="M755.38 453.01V455.08"/>
<path class=j d="M755.38 451.01V452.79"/>
<path class=a d="M756.69 541.24V543"/>
<path class=b d="M756.69 537.57V540.24"/>
<path class=c d="M756.69 512.75V536.57"/>
<path class=d d="M756.69 496.36V511.75"/>
<path class=e d="M756.69 480.89V495.36"/>
<path class=f d="M756.69 470.63V479.89"/>
<path class=g d="M756.69 466.49V469.63"/>
<path class=h d="M756.69 464.49V465.5"/>
<path class=i d="M756.69 462.05V463.5"/>
<path class=a d="M758.01 542V543.01"/>
<path class=b d="M758.01 537.72V541.01"/>
<path class=c d="M758.01 523.47V536.72"/>
<path class=d d="M758.01 514.59V522.47"/>
<path class=e d="M758.01 506.01V513.59"/>
<path class=f d="M758.01 500.5V505.01"/>
<path class=g d="M758.01 496.98V499.5"/>
<path class=h d="M758.01 493.76V495.98"/>
<path class=i d="M758.01 491.76V493.23"/>
<path class=j d="M758.01 490.23V492.92"/>
</svg>
</body></html>
